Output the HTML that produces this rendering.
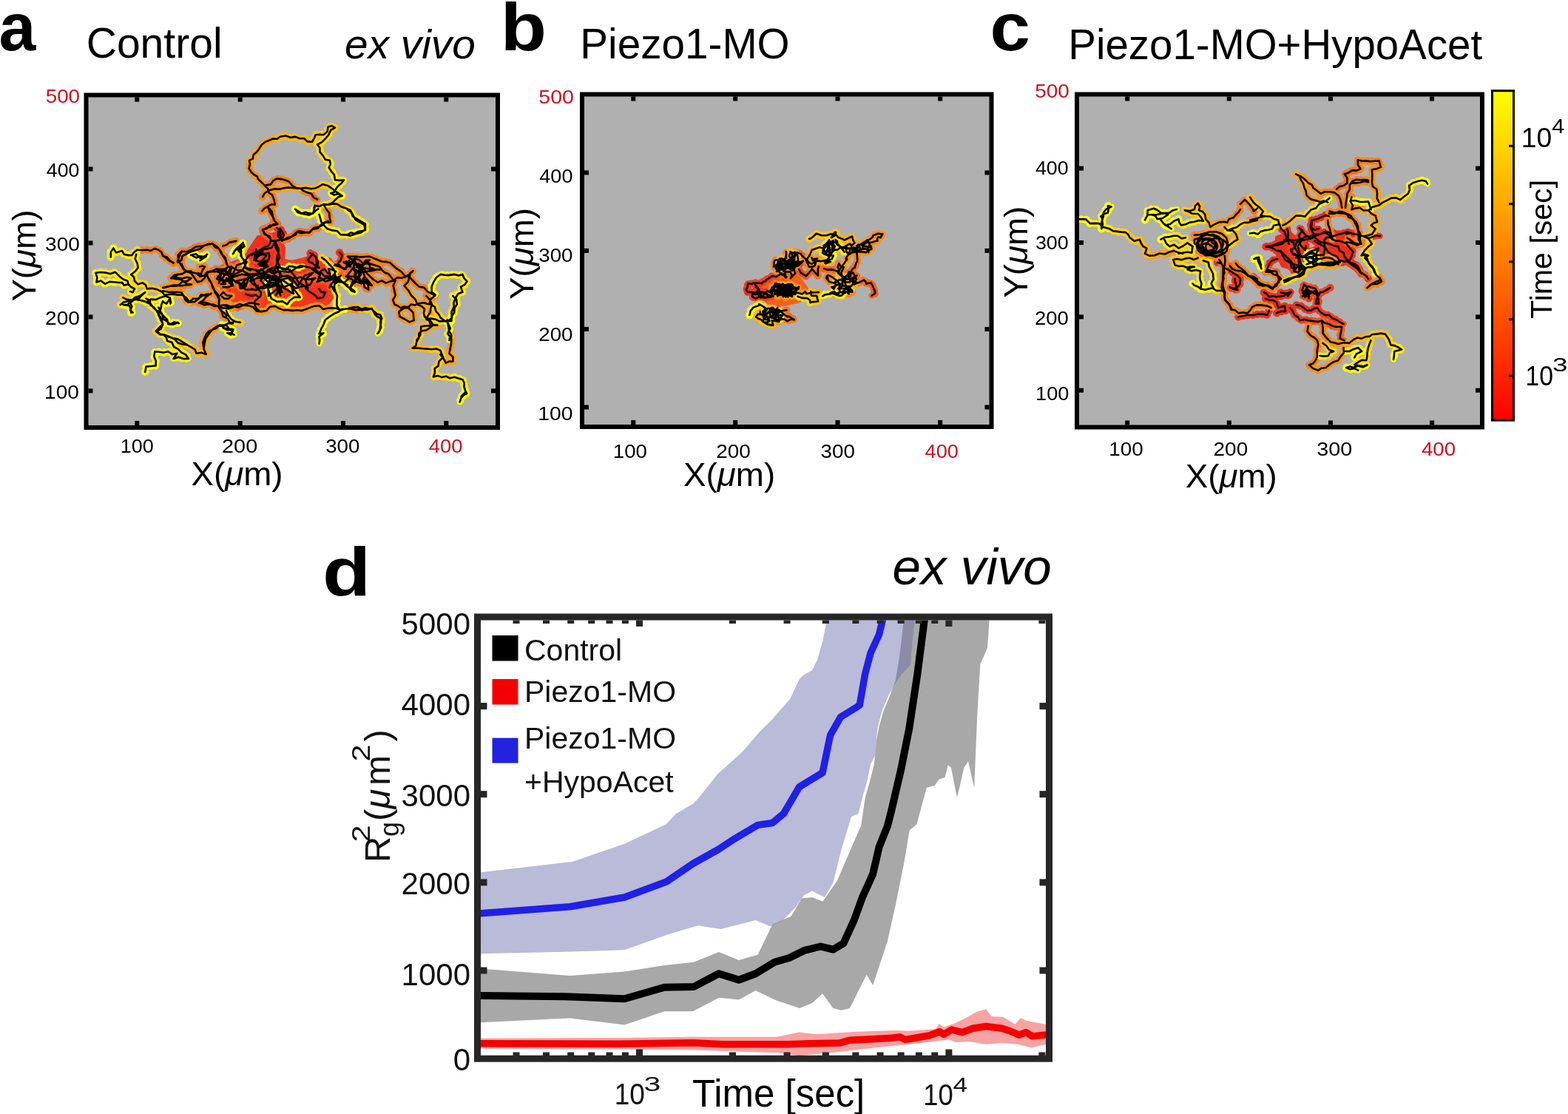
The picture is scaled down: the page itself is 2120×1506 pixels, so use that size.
<!DOCTYPE html>
<html><head><meta charset="utf-8"><title>Figure</title>
<style>html,body{margin:0;padding:0;background:#fff;}svg{display:block;}text{font-family:'Liberation Sans', Arial, Helvetica, sans-serif;}</style>
</head><body>
<svg width="2120" height="1506" viewBox="0 0 2120 1506">
<rect width="2120" height="1506" fill="#fff"/>
<rect x="116.5" y="128.5" width="556.5" height="449.5" fill="#b0b0b0"/>
<rect x="787" y="127.5" width="553.5" height="449.5" fill="#b0b0b0"/>
<rect x="1456" y="127.5" width="548" height="450.0" fill="#b0b0b0"/>
<clipPath id="clipa"><rect x="119.5" y="131.5" width="550.5" height="443.5"/></clipPath>
<clipPath id="clipb"><rect x="790" y="130.5" width="547.5" height="443.5"/></clipPath>
<clipPath id="clipc"><rect x="1459" y="130.5" width="542" height="444.0"/></clipPath>
<g clip-path="url(#clipa)" fill="none" stroke-linejoin="round" stroke-linecap="round">
<polygon points="338,340 350,322 372,318 382,335 380,372 345,375 335,360" fill="#f02f1d" stroke="#f02f1d" stroke-width="8" stroke-linejoin="round"/>
<polygon points="300,362 330,352 360,350 395,356 420,350 445,352 455,370 452,395 440,412 400,416 360,414 330,410 305,400 298,380" fill="#f13c1d" stroke="#f13c1d" stroke-width="8" stroke-linejoin="round"/>
<polygon points="360,372 400,365 430,368 440,385 432,405 400,410 370,410 358,395" fill="#f1341d" stroke="#f1341d" stroke-width="8" stroke-linejoin="round"/>
<path d="M349.1 357.2 355.6 355.2M351.2 356.3 361.8 353.3" stroke="#f01e1e" stroke-width="7.800000000000001"/>
<path d="M349.1 357.2 355.6 355.2M351.2 356.3 361.8 353.3" stroke="#f01e1e" stroke-width="10.4" stroke-dasharray="0 6.5"/>
<path d="M374.1 307.8 378.9 311.4 376.5 319.8 381.3 325.7 383.7 317.4 381.6 313.0 378.9 309.0M294.3 373.7 298.9 376.3 301.5 380.9 308.7 376.1M378.9 324.2 378.9 324.2M371.5 361.1 364.6 363.7M419.5 342.2 426.7 346.9 429.8 353.8M470.0 346.9 474.4 350.1 479.6 351.7 478.7 357.8M345.5 391.7 350.0 390.6M332.2 351.8 335.3 346.3 340.8 343.2 345.2 341.1 350.0 341.4M330.5 367.3 335.3 370.2 340.8 370.8 345.7 371.2 350.0 373.4M332.2 397.5 336.4 399.1 340.8 400.1 345.9 398.7 350.0 401.9M378.0 312.1 379.7 317.3 379.7 324.2 376.0 319.2 376.3 312.9M371.1 325.9 372.8 334.5 376.3 341.4 378.0 348.3 374.5 355.2 372.8 362.1 368.5 369.1M365.9 324.2 365.2 328.9 362.4 332.8 356.5 334.6 351.2 338.0 345.2 343.2 343.5 351.8 350.2 353.6 357.3 353.5 362.4 360.4 357.7 362.3 353.8 365.6 345.2 365.6M340.0 344.9 343.9 342.2 348.6 341.4 353.8 338.9 359.0 336.3M416.0 351.8 419.4 347.5 422.9 343.2 426.3 346.6 428.0 351.8 428.0 357.6 431.5 362.1 427.2 360.4 423.0 356.2 417.7 353.5M459.1 341.4 462.6 344.9 460.8 351.8M422.0 379.4 426.3 376.0M413.4 389.8 419.4 395.0 426.3 399.3 429.8 403.6 436.7 401.9 440.1 395.0 434.7 394.9 431.5 390.6M340.0 382.0 343.8 385.2M370.2 384.6 376.3 386.3 379.3 390.4 381.4 395.0 376.0 395.0 372.8 399.3M383.0 387.8 376.8 375.4 371.1 377.8 379.1 391.4 375.1 396.2 376.2 386.5M392.1 364.6 374.0 361.3 381.4 374.1 365.6 379.3M432.4 367.8 432.8 372.3M355.6 355.2 358.5 352.5 359.1 360.7 354.0 356.2 360.5 353.6 363.7 349.8 364.3 346.2 363.4 341.9 353.5 344.3 349.4 345.9 346.3 341.6 346.4 337.0M361.8 353.3 356.0 359.6 351.2 358.9 352.9 354.0 360.2 345.5 349.6 341.8 344.1 341.3 353.0 343.1 355.3 340.8 346.6 345.0 344.4 347.3 352.6 341.8" stroke="#f02e1d" stroke-width="7.800000000000001"/>
<path d="M374.1 307.8 378.9 311.4 376.5 319.8 381.3 325.7 383.7 317.4 381.6 313.0 378.9 309.0M294.3 373.7 298.9 376.3 301.5 380.9 308.7 376.1M378.9 324.2 378.9 324.2M371.5 361.1 364.6 363.7M419.5 342.2 426.7 346.9 429.8 353.8M470.0 346.9 474.4 350.1 479.6 351.7 478.7 357.8M345.5 391.7 350.0 390.6M332.2 351.8 335.3 346.3 340.8 343.2 345.2 341.1 350.0 341.4M330.5 367.3 335.3 370.2 340.8 370.8 345.7 371.2 350.0 373.4M332.2 397.5 336.4 399.1 340.8 400.1 345.9 398.7 350.0 401.9M378.0 312.1 379.7 317.3 379.7 324.2 376.0 319.2 376.3 312.9M371.1 325.9 372.8 334.5 376.3 341.4 378.0 348.3 374.5 355.2 372.8 362.1 368.5 369.1M365.9 324.2 365.2 328.9 362.4 332.8 356.5 334.6 351.2 338.0 345.2 343.2 343.5 351.8 350.2 353.6 357.3 353.5 362.4 360.4 357.7 362.3 353.8 365.6 345.2 365.6M340.0 344.9 343.9 342.2 348.6 341.4 353.8 338.9 359.0 336.3M416.0 351.8 419.4 347.5 422.9 343.2 426.3 346.6 428.0 351.8 428.0 357.6 431.5 362.1 427.2 360.4 423.0 356.2 417.7 353.5M459.1 341.4 462.6 344.9 460.8 351.8M422.0 379.4 426.3 376.0M413.4 389.8 419.4 395.0 426.3 399.3 429.8 403.6 436.7 401.9 440.1 395.0 434.7 394.9 431.5 390.6M340.0 382.0 343.8 385.2M370.2 384.6 376.3 386.3 379.3 390.4 381.4 395.0 376.0 395.0 372.8 399.3M383.0 387.8 376.8 375.4 371.1 377.8 379.1 391.4 375.1 396.2 376.2 386.5M392.1 364.6 374.0 361.3 381.4 374.1 365.6 379.3M432.4 367.8 432.8 372.3M355.6 355.2 358.5 352.5 359.1 360.7 354.0 356.2 360.5 353.6 363.7 349.8 364.3 346.2 363.4 341.9 353.5 344.3 349.4 345.9 346.3 341.6 346.4 337.0M361.8 353.3 356.0 359.6 351.2 358.9 352.9 354.0 360.2 345.5 349.6 341.8 344.1 341.3 353.0 343.1 355.3 340.8 346.6 345.0 344.4 347.3 352.6 341.8" stroke="#f02e1d" stroke-width="10.4" stroke-dasharray="0 6.5"/>
<path d="M308.7 376.1 312.9 380.1 315.0 385.6 308.5 388.3 301.5 388.0M364.5 319.4 366.9 325.4 373.0 325.6 378.9 324.2M350.2 339.8 355.4 336.7 361.3 336.5 366.9 335.0 370.3 330.7 371.7 325.4 373.9 330.9 376.5 336.2 376.5 341.5 374.8 346.5 374.1 351.7 376.3 356.6 378.9 361.3 371.5 361.1M429.8 353.8 429.1 361.3 421.9 363.7 426.5 367.5 431.5 370.9 434.2 366.4 438.7 363.7 443.5 369.7M478.7 357.8 477.2 363.7 480.7 367.8 478.4 373.9 482.0 378.0 485.4 374.9 487.9 370.9 487.5 363.3 484.3 356.5 489.3 358.7M318.6 381.4 323.6 382.9 327.5 387.6 332.2 391.5 340.8 391.5 345.5 391.7M340.0 370.8 345.7 370.0 351.5 369.5 357.3 369.1 363.6 366.8 370.3 370.1 376.6 366.3 383.2 367.3 389.6 367.8 395.3 365.9 400.4 362.1 406.6 359.0 413.4 360.4 419.9 362.0 426.3 363.9 429.8 367.8M460.8 351.8 456.5 356.1 460.8 360.4M395.1 381.4 395.2 386.3 400.4 389.8 405.4 387.9 410.6 386.6 416.0 386.3 420.2 383.9 422.0 379.4M343.8 385.2 348.6 386.3 349.3 391.4 352.9 395.0 352.4 400.1M376.2 386.5 379.0 368.2 362.8 364.2 352.3 379.2 362.2 389.6 376.6 384.2M365.6 379.3 362.5 388.7 363.2 400.1 374.4 390.8 387.4 386.8 392.9 384.0 396.9 397.1 380.9 387.9M362.6 364.6 356.5 370.6 351.9 373.9 338.2 380.4 341.0 374.2 347.5 390.8M388.2 361.6 398.1 372.5 403.1 381.1 416.4 389.6 412.8 377.7M432.8 372.3 428.9 381.0 441.4 375.8 451.3 375.9 459.1 373.9 455.5 379.4" stroke="#f13f1d" stroke-width="7.800000000000001"/>
<path d="M308.7 376.1 312.9 380.1 315.0 385.6 308.5 388.3 301.5 388.0M364.5 319.4 366.9 325.4 373.0 325.6 378.9 324.2M350.2 339.8 355.4 336.7 361.3 336.5 366.9 335.0 370.3 330.7 371.7 325.4 373.9 330.9 376.5 336.2 376.5 341.5 374.8 346.5 374.1 351.7 376.3 356.6 378.9 361.3 371.5 361.1M429.8 353.8 429.1 361.3 421.9 363.7 426.5 367.5 431.5 370.9 434.2 366.4 438.7 363.7 443.5 369.7M478.7 357.8 477.2 363.7 480.7 367.8 478.4 373.9 482.0 378.0 485.4 374.9 487.9 370.9 487.5 363.3 484.3 356.5 489.3 358.7M318.6 381.4 323.6 382.9 327.5 387.6 332.2 391.5 340.8 391.5 345.5 391.7M340.0 370.8 345.7 370.0 351.5 369.5 357.3 369.1 363.6 366.8 370.3 370.1 376.6 366.3 383.2 367.3 389.6 367.8 395.3 365.9 400.4 362.1 406.6 359.0 413.4 360.4 419.9 362.0 426.3 363.9 429.8 367.8M460.8 351.8 456.5 356.1 460.8 360.4M395.1 381.4 395.2 386.3 400.4 389.8 405.4 387.9 410.6 386.6 416.0 386.3 420.2 383.9 422.0 379.4M343.8 385.2 348.6 386.3 349.3 391.4 352.9 395.0 352.4 400.1M376.2 386.5 379.0 368.2 362.8 364.2 352.3 379.2 362.2 389.6 376.6 384.2M365.6 379.3 362.5 388.7 363.2 400.1 374.4 390.8 387.4 386.8 392.9 384.0 396.9 397.1 380.9 387.9M362.6 364.6 356.5 370.6 351.9 373.9 338.2 380.4 341.0 374.2 347.5 390.8M388.2 361.6 398.1 372.5 403.1 381.1 416.4 389.6 412.8 377.7M432.8 372.3 428.9 381.0 441.4 375.8 451.3 375.9 459.1 373.9 455.5 379.4" stroke="#f13f1d" stroke-width="10.4" stroke-dasharray="0 6.5"/>
<path d="M365.2 307.0 359.8 308.3 355.0 311.1 357.9 316.8 364.5 319.4M345.4 351.7 349.2 346.3 350.2 339.8M443.5 369.7 443.5 369.7M489.3 358.7 491.5 363.7M327.9 365.6 332.2 369.1M327.9 413.1 332.2 411.3 336.5 409.6 343.3 409.9 350.0 411.4M299.4 369.1 302.9 365.6 306.3 369.1 310.0 374.0 315.0 377.7 318.6 381.4M306.3 376.0 310.6 382.9 315.0 386.3M429.8 367.8 435.0 369.1 438.3 373.2 443.6 373.4M348.6 376.0 354.4 375.1 360.0 373.7 365.9 374.2 371.6 372.6 377.5 375.8 383.2 373.4 389.1 372.9 394.6 375.5 400.4 376.0 406.3 374.8M460.8 360.4 465.2 363.9 470.0 360.4M391.8 377.7 395.1 381.4M352.4 400.1 348.6 403.6 344.6 407.0 344.3 412.2 347.0 417.2M340.0 390.6 345.9 392.3 351.5 389.1 357.3 389.8 361.4 387.5 365.9 386.3M376.6 384.2 373.3 376.3 358.4 375.6M380.9 387.9 371.8 381.7 379.3 399.5M347.5 390.8 361.7 384.2 369.4 381.5 368.1 387.7 356.2 374.8 345.7 365.0 330.5 361.7M412.8 377.7 423.2 368.8 412.0 372.5 402.6 386.4 393.7 375.0 377.4 378.5 360.2 370.8M327.2 384.7 326.4 390.0 332.3 387.0 336.5 375.1 346.8 371.1M455.5 379.4 452.5 370.2 445.1 378.0 452.9 376.5 439.8 380.4 436.3 377.8M452.4 394.5 447.3 384.6 445.6 388.8 448.3 384.1 454.4 375.2" stroke="#f2501c" stroke-width="7.800000000000001"/>
<path d="M365.2 307.0 359.8 308.3 355.0 311.1 357.9 316.8 364.5 319.4M345.4 351.7 349.2 346.3 350.2 339.8M443.5 369.7 443.5 369.7M489.3 358.7 491.5 363.7M327.9 365.6 332.2 369.1M327.9 413.1 332.2 411.3 336.5 409.6 343.3 409.9 350.0 411.4M299.4 369.1 302.9 365.6 306.3 369.1 310.0 374.0 315.0 377.7 318.6 381.4M306.3 376.0 310.6 382.9 315.0 386.3M429.8 367.8 435.0 369.1 438.3 373.2 443.6 373.4M348.6 376.0 354.4 375.1 360.0 373.7 365.9 374.2 371.6 372.6 377.5 375.8 383.2 373.4 389.1 372.9 394.6 375.5 400.4 376.0 406.3 374.8M460.8 360.4 465.2 363.9 470.0 360.4M391.8 377.7 395.1 381.4M352.4 400.1 348.6 403.6 344.6 407.0 344.3 412.2 347.0 417.2M340.0 390.6 345.9 392.3 351.5 389.1 357.3 389.8 361.4 387.5 365.9 386.3M376.6 384.2 373.3 376.3 358.4 375.6M380.9 387.9 371.8 381.7 379.3 399.5M347.5 390.8 361.7 384.2 369.4 381.5 368.1 387.7 356.2 374.8 345.7 365.0 330.5 361.7M412.8 377.7 423.2 368.8 412.0 372.5 402.6 386.4 393.7 375.0 377.4 378.5 360.2 370.8M327.2 384.7 326.4 390.0 332.3 387.0 336.5 375.1 346.8 371.1M455.5 379.4 452.5 370.2 445.1 378.0 452.9 376.5 439.8 380.4 436.3 377.8M452.4 394.5 447.3 384.6 445.6 388.8 448.3 384.1 454.4 375.2" stroke="#f2501c" stroke-width="10.4" stroke-dasharray="0 6.5"/>
<path d="M355.0 310.2 357.4 314.8 361.0 318.4 364.6 322.1M370.6 298.3 375.3 302.7 369.6 303.3 365.2 307.0M479.3 349.3 486.1 351.6 491.3 356.5 494.5 352.0 500.0 351.7M296.0 336.3 299.4 343.2 304.6 348.3 306.3 355.2 308.0 360.4 315.0 362.1 321.0 365.3 327.9 365.6M308.6 415.1 315.0 413.9 321.6 415.8 327.9 413.1M296.0 382.9 297.6 375.9 299.4 369.1M406.3 374.8 411.9 377.2 417.7 377.7 426.3 376.0M470.0 360.4 470.0 360.4M452.2 358.7 459.2 360.1 465.2 363.9M347.0 417.2 351.2 420.8M330.5 361.7 338.8 365.5M360.2 370.8 353.4 364.0 349.2 368.9M328.0 382.1 338.1 373.0 327.3 370.8 313.7 374.9M346.8 371.1 336.0 376.0 329.0 377.8 319.8 379.9 324.2 383.0 325.5 389.8 333.7 382.8M307.5 378.2 298.8 384.2M436.3 377.8 430.8 374.2M454.4 375.2 450.1 380.7 454.7 382.7 459.8 377.6 451.1 376.8 446.5 373.9 444.6 363.3M505.2 363.3 500.6 361.8 497.5 352.3 493.7 356.1 485.8 360.6 485.7 366.0 485.2 375.1 490.1 382.5M460.7 372.6 455.3 381.0 466.2 381.6 473.2 374.5 470.1 371.6 477.0 362.5 484.1 366.7 492.5 367.5 504.6 365.6M474.2 360.4 464.5 354.5 469.3 353.6 469.6 358.7 472.1 352.0 472.3 360.4 478.9 352.0 482.6 357.6 486.3 364.1" stroke="#f3611c" stroke-width="7.800000000000001"/>
<path d="M355.0 310.2 357.4 314.8 361.0 318.4 364.6 322.1M370.6 298.3 375.3 302.7 369.6 303.3 365.2 307.0M479.3 349.3 486.1 351.6 491.3 356.5 494.5 352.0 500.0 351.7M296.0 336.3 299.4 343.2 304.6 348.3 306.3 355.2 308.0 360.4 315.0 362.1 321.0 365.3 327.9 365.6M308.6 415.1 315.0 413.9 321.6 415.8 327.9 413.1M296.0 382.9 297.6 375.9 299.4 369.1M406.3 374.8 411.9 377.2 417.7 377.7 426.3 376.0M470.0 360.4 470.0 360.4M452.2 358.7 459.2 360.1 465.2 363.9M347.0 417.2 351.2 420.8M330.5 361.7 338.8 365.5M360.2 370.8 353.4 364.0 349.2 368.9M328.0 382.1 338.1 373.0 327.3 370.8 313.7 374.9M346.8 371.1 336.0 376.0 329.0 377.8 319.8 379.9 324.2 383.0 325.5 389.8 333.7 382.8M307.5 378.2 298.8 384.2M436.3 377.8 430.8 374.2M454.4 375.2 450.1 380.7 454.7 382.7 459.8 377.6 451.1 376.8 446.5 373.9 444.6 363.3M505.2 363.3 500.6 361.8 497.5 352.3 493.7 356.1 485.8 360.6 485.7 366.0 485.2 375.1 490.1 382.5M460.7 372.6 455.3 381.0 466.2 381.6 473.2 374.5 470.1 371.6 477.0 362.5 484.1 366.7 492.5 367.5 504.6 365.6M474.2 360.4 464.5 354.5 469.3 353.6 469.6 358.7 472.1 352.0 472.3 360.4 478.9 352.0 482.6 357.6 486.3 364.1" stroke="#f3611c" stroke-width="10.4" stroke-dasharray="0 6.5"/>
<path d="M414.8 260.0 420.9 261.8 424.3 267.2 429.1 269.5M369.3 293.5 371.2 298.9 375.3 303.0 370.1 304.5 364.6 304.9 360.4 309.2 355.0 310.2M383.7 324.5 388.4 321.4 394.1 319.9 399.2 317.4 402.8 312.6 408.0 312.9 413.1 314.2 418.4 313.8 423.9 308.3 431.5 306.6M280.0 367.7 286.4 366.6 292.4 363.6 299.1 364.1 304.4 363.5 309.4 360.3 315.0 361.7M363.4 281.2 367.6 285.9 368.8 292.2 370.6 298.3M383.7 324.2 390.7 322.3 396.3 318.2 401.6 313.5 407.1 315.1 412.8 314.2 418.4 314.7M453.0 357.7 457.7 359.8 462.5 361.8 467.4 363.7 469.6 357.4 475.1 353.9 479.3 349.3M482.0 361.3 488.4 361.3 493.5 356.4 499.9 356.5 508.3 358.9M252.1 340.3 258.0 338.0 264.3 333.8 271.8 332.8 277.0 331.8 282.2 330.5 287.3 329.3 290.6 334.1 296.0 336.3M283.2 410.7 289.3 413.9 296.0 413.9 302.3 412.5 308.6 415.1M313.7 374.9 309.0 367.8 295.3 363.8 308.0 367.9 314.7 370.6 320.3 358.5 333.7 353.9M333.7 382.8 323.6 383.7 325.0 390.0M298.8 384.2 304.8 383.6 300.4 376.3 303.9 372.0 299.3 368.0 293.1 377.0 297.4 378.9 311.2 380.1M444.6 363.3 450.2 365.1 454.1 367.1M490.1 382.5 491.5 377.3 497.4 381.6 498.3 391.7 492.7 388.1 490.6 377.1 493.3 374.6 489.4 363.4 488.2 369.3 485.3 373.7M504.6 365.6 510.1 364.3 515.9 364.5 505.0 364.2 495.2 362.8 486.4 360.9 478.5 357.0 478.4 361.6 481.5 372.6 483.1 377.0 488.5 382.9M486.3 364.1 478.7 374.0 467.8 373.5 477.7 378.7 473.0 390.0 479.7 380.0 488.4 383.4 491.7 380.8 498.1 384.6" stroke="#f4721c" stroke-width="7.800000000000001"/>
<path d="M414.8 260.0 420.9 261.8 424.3 267.2 429.1 269.5M369.3 293.5 371.2 298.9 375.3 303.0 370.1 304.5 364.6 304.9 360.4 309.2 355.0 310.2M383.7 324.5 388.4 321.4 394.1 319.9 399.2 317.4 402.8 312.6 408.0 312.9 413.1 314.2 418.4 313.8 423.9 308.3 431.5 306.6M280.0 367.7 286.4 366.6 292.4 363.6 299.1 364.1 304.4 363.5 309.4 360.3 315.0 361.7M363.4 281.2 367.6 285.9 368.8 292.2 370.6 298.3M383.7 324.2 390.7 322.3 396.3 318.2 401.6 313.5 407.1 315.1 412.8 314.2 418.4 314.7M453.0 357.7 457.7 359.8 462.5 361.8 467.4 363.7 469.6 357.4 475.1 353.9 479.3 349.3M482.0 361.3 488.4 361.3 493.5 356.4 499.9 356.5 508.3 358.9M252.1 340.3 258.0 338.0 264.3 333.8 271.8 332.8 277.0 331.8 282.2 330.5 287.3 329.3 290.6 334.1 296.0 336.3M283.2 410.7 289.3 413.9 296.0 413.9 302.3 412.5 308.6 415.1M313.7 374.9 309.0 367.8 295.3 363.8 308.0 367.9 314.7 370.6 320.3 358.5 333.7 353.9M333.7 382.8 323.6 383.7 325.0 390.0M298.8 384.2 304.8 383.6 300.4 376.3 303.9 372.0 299.3 368.0 293.1 377.0 297.4 378.9 311.2 380.1M444.6 363.3 450.2 365.1 454.1 367.1M490.1 382.5 491.5 377.3 497.4 381.6 498.3 391.7 492.7 388.1 490.6 377.1 493.3 374.6 489.4 363.4 488.2 369.3 485.3 373.7M504.6 365.6 510.1 364.3 515.9 364.5 505.0 364.2 495.2 362.8 486.4 360.9 478.5 357.0 478.4 361.6 481.5 372.6 483.1 377.0 488.5 382.9M486.3 364.1 478.7 374.0 467.8 373.5 477.7 378.7 473.0 390.0 479.7 380.0 488.4 383.4 491.7 380.8 498.1 384.6" stroke="#f4721c" stroke-width="10.4" stroke-dasharray="0 6.5"/>
<path d="M354.4 285.1 357.8 281.4 362.2 279.1 366.5 276.3 371.7 276.7 370.6 270.0 368.1 263.6 363.5 260.6M355.0 266.0 358.2 260.8M359.8 250.4 365.8 249.4 369.3 244.4 374.3 241.5 380.1 242.1 385.6 243.5 390.9 245.6 394.8 250.7 400.4 254.0 405.8 254.5 410.0 257.9 414.8 260.0M362.2 280.3 365.0 287.3 369.3 293.5M431.5 306.6 436.2 304.4 439.9 300.6 447.0 300.6 445.7 294.4 445.3 287.9 441.1 282.7 437.5 276.7M234.5 355.8 229.9 352.4 226.0 347.8 220.2 346.2 218.5 341.1 214.2 337.8 209.0 336.1 203.9 338.9 198.7 337.8 192.1 338.2 185.5 337.8M240.5 354.6 245.4 351.7 246.5 346.2 252.4 343.1 258.5 340.2 264.4 338.3 270.4 336.6 275.2 332.4 280.8 330.1 287.1 329.5 294.3 334.2 298.6 339.8 301.5 346.2 304.9 351.1 306.3 356.9M245.3 356.9 248.2 363.3 253.7 367.7 259.8 368.2 265.6 369.5 270.4 373.7 276.3 372.5 280.0 367.7M258.5 366.5 258.5 366.5M269.2 409.5 274.5 406.5 278.1 401.7 282.4 397.6M270.4 409.5 276.1 412.1 282.5 411.1 288.6 411.8 294.3 414.3 301.1 416.2 308.0 417.4 315.0 415.5M280.0 367.7 280.4 373.5 282.6 378.6 286.0 383.2 287.4 388.8 290.5 393.4 294.3 397.6 296.4 403.4 295.8 409.6 296.7 415.5 299.7 421.2 301.5 427.5 307.9 430.7 311.1 437.0M315.0 435.8 315.0 435.8M418.4 314.7 422.7 309.8 429.5 308.6 433.9 303.9 438.3 300.8 443.5 299.1M500.0 417.5 500.0 417.5M470.0 346.9 476.0 346.7 482.0 346.9 487.9 347.5 493.9 347.0 499.9 346.9 505.8 349.4 511.8 351.7 516.8 353.8 522.3 353.9 527.4 355.3 532.1 359.6 536.9 363.7 542.6 367.2 547.0 372.6 553.7 374.4 557.9 379.0 562.1 383.5 566.7 387.6 573.5 388.8 577.6 393.6 582.8 396.8 588.4 399.5 582.4 404.3 580.0 411.5M508.3 358.9 513.4 360.7 516.4 365.1 520.2 368.5 525.6 370.5 529.0 374.7 532.2 379.2 536.8 375.2 543.2 375.8 548.8 374.2 553.7 370.9 558.5 366.1 554.4 369.3 553.7 374.4 551.5 381.3 546.5 386.4 547.7 387.6M492.7 363.7 495.5 369.1 499.9 373.2 504.8 378.0 510.6 381.6 516.1 379.5 521.9 382.6 527.4 380.4 534.6 379.2 531.7 386.2 533.4 393.6 534.7 399.5M470.0 417.5 476.5 416.3M315.0 437.1 315.0 437.1M576.4 400.0 581.0 405.1M220.0 344.9 224.5 348.8 229.1 352.7 234.7 355.2M239.9 353.5 242.4 346.6 245.9 339.7 252.1 340.3M245.9 339.7 240.7 344.9 241.4 352.3 245.0 358.7 248.5 364.7 253.1 367.3 258.0 369.1 263.2 376.0 266.6 381.1 271.8 380.3 276.8 375.7 278.7 369.1 285.6 367.3 291.8 367.3 297.7 365.6 306.3 363.9M270.1 360.4 273.5 359.6 277.0 360.4 273.5 365.6 271.8 370.8 268.3 369.1M301.1 332.8 306.3 331.0 310.6 327.6 319.3 325.9M231.2 376.0 235.4 372.1 240.4 370.8 245.9 370.8M231.2 376.0 237.4 377.0 243.8 377.6 249.3 381.1 253.5 384.4 258.8 384.6 252.3 385.2 245.9 386.3 240.5 386.1 235.1 386.6 229.6 386.7 224.3 388.0 220.0 388.9M220.0 393.2 228.6 395.0 234.2 394.9 239.9 395.0 245.4 395.5 248.5 400.1 250.3 405.3 254.5 408.8 263.2 407.9 268.4 404.0 271.8 398.4 280.4 400.1 285.6 396.7M278.7 370.8 282.1 376.4 285.6 382.0 287.2 386.4 289.1 390.6 290.5 395.3 293.4 399.3 296.7 405.3 296.0 412.2 296.6 417.0 299.4 420.8 303.6 423.0 306.3 426.9M270.1 409.6 276.9 408.7 283.2 410.7M297.7 399.3 302.0 395.0 306.3 399.3 313.2 400.1 308.7 403.8 302.9 403.6 300.3 401.0M333.7 353.9 327.6 365.8 315.1 371.8 312.6 385.4M311.2 380.1 311.1 372.8 312.7 360.0 307.1 371.5 294.3 367.6M485.3 373.7 480.6 375.5 479.8 382.4M488.5 382.9 488.5 382.9M498.1 384.6 502.8 385.9 495.1 376.2" stroke="#f5831b" stroke-width="7.800000000000001"/>
<path d="M354.4 285.1 357.8 281.4 362.2 279.1 366.5 276.3 371.7 276.7 370.6 270.0 368.1 263.6 363.5 260.6M355.0 266.0 358.2 260.8M359.8 250.4 365.8 249.4 369.3 244.4 374.3 241.5 380.1 242.1 385.6 243.5 390.9 245.6 394.8 250.7 400.4 254.0 405.8 254.5 410.0 257.9 414.8 260.0M362.2 280.3 365.0 287.3 369.3 293.5M431.5 306.6 436.2 304.4 439.9 300.6 447.0 300.6 445.7 294.4 445.3 287.9 441.1 282.7 437.5 276.7M234.5 355.8 229.9 352.4 226.0 347.8 220.2 346.2 218.5 341.1 214.2 337.8 209.0 336.1 203.9 338.9 198.7 337.8 192.1 338.2 185.5 337.8M240.5 354.6 245.4 351.7 246.5 346.2 252.4 343.1 258.5 340.2 264.4 338.3 270.4 336.6 275.2 332.4 280.8 330.1 287.1 329.5 294.3 334.2 298.6 339.8 301.5 346.2 304.9 351.1 306.3 356.9M245.3 356.9 248.2 363.3 253.7 367.7 259.8 368.2 265.6 369.5 270.4 373.7 276.3 372.5 280.0 367.7M258.5 366.5 258.5 366.5M269.2 409.5 274.5 406.5 278.1 401.7 282.4 397.6M270.4 409.5 276.1 412.1 282.5 411.1 288.6 411.8 294.3 414.3 301.1 416.2 308.0 417.4 315.0 415.5M280.0 367.7 280.4 373.5 282.6 378.6 286.0 383.2 287.4 388.8 290.5 393.4 294.3 397.6 296.4 403.4 295.8 409.6 296.7 415.5 299.7 421.2 301.5 427.5 307.9 430.7 311.1 437.0M315.0 435.8 315.0 435.8M418.4 314.7 422.7 309.8 429.5 308.6 433.9 303.9 438.3 300.8 443.5 299.1M500.0 417.5 500.0 417.5M470.0 346.9 476.0 346.7 482.0 346.9 487.9 347.5 493.9 347.0 499.9 346.9 505.8 349.4 511.8 351.7 516.8 353.8 522.3 353.9 527.4 355.3 532.1 359.6 536.9 363.7 542.6 367.2 547.0 372.6 553.7 374.4 557.9 379.0 562.1 383.5 566.7 387.6 573.5 388.8 577.6 393.6 582.8 396.8 588.4 399.5 582.4 404.3 580.0 411.5M508.3 358.9 513.4 360.7 516.4 365.1 520.2 368.5 525.6 370.5 529.0 374.7 532.2 379.2 536.8 375.2 543.2 375.8 548.8 374.2 553.7 370.9 558.5 366.1 554.4 369.3 553.7 374.4 551.5 381.3 546.5 386.4 547.7 387.6M492.7 363.7 495.5 369.1 499.9 373.2 504.8 378.0 510.6 381.6 516.1 379.5 521.9 382.6 527.4 380.4 534.6 379.2 531.7 386.2 533.4 393.6 534.7 399.5M470.0 417.5 476.5 416.3M315.0 437.1 315.0 437.1M576.4 400.0 581.0 405.1M220.0 344.9 224.5 348.8 229.1 352.7 234.7 355.2M239.9 353.5 242.4 346.6 245.9 339.7 252.1 340.3M245.9 339.7 240.7 344.9 241.4 352.3 245.0 358.7 248.5 364.7 253.1 367.3 258.0 369.1 263.2 376.0 266.6 381.1 271.8 380.3 276.8 375.7 278.7 369.1 285.6 367.3 291.8 367.3 297.7 365.6 306.3 363.9M270.1 360.4 273.5 359.6 277.0 360.4 273.5 365.6 271.8 370.8 268.3 369.1M301.1 332.8 306.3 331.0 310.6 327.6 319.3 325.9M231.2 376.0 235.4 372.1 240.4 370.8 245.9 370.8M231.2 376.0 237.4 377.0 243.8 377.6 249.3 381.1 253.5 384.4 258.8 384.6 252.3 385.2 245.9 386.3 240.5 386.1 235.1 386.6 229.6 386.7 224.3 388.0 220.0 388.9M220.0 393.2 228.6 395.0 234.2 394.9 239.9 395.0 245.4 395.5 248.5 400.1 250.3 405.3 254.5 408.8 263.2 407.9 268.4 404.0 271.8 398.4 280.4 400.1 285.6 396.7M278.7 370.8 282.1 376.4 285.6 382.0 287.2 386.4 289.1 390.6 290.5 395.3 293.4 399.3 296.7 405.3 296.0 412.2 296.6 417.0 299.4 420.8 303.6 423.0 306.3 426.9M270.1 409.6 276.9 408.7 283.2 410.7M297.7 399.3 302.0 395.0 306.3 399.3 313.2 400.1 308.7 403.8 302.9 403.6 300.3 401.0M333.7 353.9 327.6 365.8 315.1 371.8 312.6 385.4M311.2 380.1 311.1 372.8 312.7 360.0 307.1 371.5 294.3 367.6M485.3 373.7 480.6 375.5 479.8 382.4M488.5 382.9 488.5 382.9M498.1 384.6 502.8 385.9 495.1 376.2" stroke="#f5831b" stroke-width="10.4" stroke-dasharray="0 6.5"/>
<path d="M363.5 260.6 362.2 255.2 356.2 249.2 352.7 245.5 349.0 242.1 347.8 238.5 343.3 236.0 339.5 232.5 336.6 227.6 337.9 222.1 337.1 216.9M358.2 260.8 363.4 257.6 371.7 255.2 377.7 255.8 383.7 254.3M275.2 398.8 279.9 397.8 284.8 397.6M220.2 389.2 227.4 387.6 234.5 385.6 241.4 385.4 246.5 380.9 253.1 380.1 258.5 376.1 252.5 374.8 246.4 376.6 240.5 375.8 234.5 374.9 240.5 371.3 246.5 370.1 252.0 366.8 258.5 366.5M275.2 469.3 274.2 462.9 276.5 457.2 278.8 451.4 282.9 447.4 288.3 445.4 293.1 443.2 296.7 439.4 303.2 440.4 308.9 436.8 315.0 435.8M300.0 412.7 306.0 412.2 312.0 414.8 317.9 413.8 323.9 411.1 329.9 412.7 336.5 413.1 342.4 415.3 347.2 420.8 353.8 421.1 360.3 420.0 365.1 414.7 371.7 413.9 377.3 416.9 383.1 419.1 389.5 419.1 395.6 419.9 401.6 419.2 407.6 419.9 414.2 417.7 420.7 415.1 426.3 413.6 431.8 413.2 437.1 418.1 442.7 416.8 448.2 416.3 454.6 416.8 460.9 419.2 467.4 417.5 473.9 417.2 480.4 419.3 486.9 419.0 493.5 416.1 500.0 417.5M534.7 399.5 531.2 405.5 533.4 411.5 537.8 413.5 541.7 416.3 546.5 414.6 552.0 415.3 556.1 411.5 561.1 412.5 565.6 410.3 572.9 409.3 580.0 411.5M546.5 416.3 539.3 421.1 540.5 428.2 547.3 431.5 553.7 435.4 559.7 433.0 559.1 427.6 558.5 422.3 552.5 416.3 546.5 416.3M547.7 387.6 552.5 393.1 556.1 399.5M476.5 416.3 482.9 415.8M282.4 451.4 285.7 447.1 289.7 443.5 294.3 440.6 301.4 440.7 307.9 437.3 315.0 437.1M581.0 405.1 584.0 411.3 582.3 416.6 581.7 422.3 578.5 427.0 576.4 432.1 582.0 433.6 585.5 439.1M604.7 432.1 605.4 437.5 606.5 442.7 607.2 448.1 610.4 452.8 610.3 459.2 609.9 465.5 608.5 471.7 607.5 477.9" stroke="#f6941b" stroke-width="7.800000000000001"/>
<path d="M363.5 260.6 362.2 255.2 356.2 249.2 352.7 245.5 349.0 242.1 347.8 238.5 343.3 236.0 339.5 232.5 336.6 227.6 337.9 222.1 337.1 216.9M358.2 260.8 363.4 257.6 371.7 255.2 377.7 255.8 383.7 254.3M275.2 398.8 279.9 397.8 284.8 397.6M220.2 389.2 227.4 387.6 234.5 385.6 241.4 385.4 246.5 380.9 253.1 380.1 258.5 376.1 252.5 374.8 246.4 376.6 240.5 375.8 234.5 374.9 240.5 371.3 246.5 370.1 252.0 366.8 258.5 366.5M275.2 469.3 274.2 462.9 276.5 457.2 278.8 451.4 282.9 447.4 288.3 445.4 293.1 443.2 296.7 439.4 303.2 440.4 308.9 436.8 315.0 435.8M300.0 412.7 306.0 412.2 312.0 414.8 317.9 413.8 323.9 411.1 329.9 412.7 336.5 413.1 342.4 415.3 347.2 420.8 353.8 421.1 360.3 420.0 365.1 414.7 371.7 413.9 377.3 416.9 383.1 419.1 389.5 419.1 395.6 419.9 401.6 419.2 407.6 419.9 414.2 417.7 420.7 415.1 426.3 413.6 431.8 413.2 437.1 418.1 442.7 416.8 448.2 416.3 454.6 416.8 460.9 419.2 467.4 417.5 473.9 417.2 480.4 419.3 486.9 419.0 493.5 416.1 500.0 417.5M534.7 399.5 531.2 405.5 533.4 411.5 537.8 413.5 541.7 416.3 546.5 414.6 552.0 415.3 556.1 411.5 561.1 412.5 565.6 410.3 572.9 409.3 580.0 411.5M546.5 416.3 539.3 421.1 540.5 428.2 547.3 431.5 553.7 435.4 559.7 433.0 559.1 427.6 558.5 422.3 552.5 416.3 546.5 416.3M547.7 387.6 552.5 393.1 556.1 399.5M476.5 416.3 482.9 415.8M282.4 451.4 285.7 447.1 289.7 443.5 294.3 440.6 301.4 440.7 307.9 437.3 315.0 437.1M581.0 405.1 584.0 411.3 582.3 416.6 581.7 422.3 578.5 427.0 576.4 432.1 582.0 433.6 585.5 439.1M604.7 432.1 605.4 437.5 606.5 442.7 607.2 448.1 610.4 452.8 610.3 459.2 609.9 465.5 608.5 471.7 607.5 477.9" stroke="#f6941b" stroke-width="10.4" stroke-dasharray="0 6.5"/>
<path d="M337.1 216.9 341.8 214.6 342.8 209.0 347.2 205.6 350.2 201.4 353.7 195.8 358.5 191.9 364.6 189.5 369.2 187.5 374.6 187.8M383.7 254.3 389.6 253.4 395.6 254.0 401.9 254.7 408.2 254.4M424.3 281.5 425.5 277.9 431.6 279.1 437.4 276.1 443.5 276.7 449.4 275.6M252.1 402.8 256.1 408.4 261.2 403.7 268.0 403.6 275.2 398.8M556.1 399.5 561.5 404.7 564.4 411.5 569.7 413.8 574.0 417.5 572.9 422.9 574.0 428.2 580.1 432.9M482.9 415.8 489.4 419.5 495.8 417.8M272.3 476.7 278.8 478.9 275.5 472.1 276.4 464.6 278.1 457.4 282.4 451.4M470.8 417.0 477.2 415.4 483.6 415.0M585.5 439.1 591.5 439.6 585.5 439.4 581.1 443.2 576.4 446.4 570.8 447.2 566.2 450.8 566.3 457.1M607.5 477.9 612.6 482.7 612.3 488.7 607.3 488.6 602.8 490.6 599.6 484.5 595.3 479.2M332.2 360.4 332.2 360.4" stroke="#f7a51a" stroke-width="7.800000000000001"/>
<path d="M337.1 216.9 341.8 214.6 342.8 209.0 347.2 205.6 350.2 201.4 353.7 195.8 358.5 191.9 364.6 189.5 369.2 187.5 374.6 187.8M383.7 254.3 389.6 253.4 395.6 254.0 401.9 254.7 408.2 254.4M424.3 281.5 425.5 277.9 431.6 279.1 437.4 276.1 443.5 276.7 449.4 275.6M252.1 402.8 256.1 408.4 261.2 403.7 268.0 403.6 275.2 398.8M556.1 399.5 561.5 404.7 564.4 411.5 569.7 413.8 574.0 417.5 572.9 422.9 574.0 428.2 580.1 432.9M482.9 415.8 489.4 419.5 495.8 417.8M272.3 476.7 278.8 478.9 275.5 472.1 276.4 464.6 278.1 457.4 282.4 451.4M470.8 417.0 477.2 415.4 483.6 415.0M585.5 439.1 591.5 439.6 585.5 439.4 581.1 443.2 576.4 446.4 570.8 447.2 566.2 450.8 566.3 457.1M607.5 477.9 612.6 482.7 612.3 488.7 607.3 488.6 602.8 490.6 599.6 484.5 595.3 479.2M332.2 360.4 332.2 360.4" stroke="#f7a51a" stroke-width="10.4" stroke-dasharray="0 6.5"/>
<path d="M374.6 187.8 378.9 184.7 386.2 183.5 393.2 185.9 399.3 184.9 405.2 187.3 411.2 187.1 415.7 191.4 421.9 191.8 424.7 187.2M408.2 254.4 414.5 253.9 420.7 255.2 426.4 254.5 431.4 252.1 436.3 249.2M449.4 275.6 455.4 275.5 461.0 279.2 467.4 281.5 473.7 284.0 476.9 289.9M222.6 398.8 228.6 398.1 234.5 397.6 240.5 398.6 246.5 398.8 252.1 402.8M580.1 432.9 582.4 440.2 575.8 440.5 569.2 441.4 568.9 447.4 568.0 453.3M582.4 411.5 587.8 414.9M495.8 417.8 502.3 417.5 505.9 421.1M240.5 463.4 246.5 465.5 252.9 466.2 258.5 469.3 263.5 472.3 265.6 477.7 272.3 476.7M483.6 415.0 490.0 418.6 496.4 418.8M566.3 457.1 563.4 461.7 562.3 467.2 557.5 470.8 564.5 470.5 571.4 471.3 578.3 471.7 584.0 472.3M327.0 348.3 330.5 351.8 332.2 360.4" stroke="#f8b61a" stroke-width="7.800000000000001"/>
<path d="M374.6 187.8 378.9 184.7 386.2 183.5 393.2 185.9 399.3 184.9 405.2 187.3 411.2 187.1 415.7 191.4 421.9 191.8 424.7 187.2M408.2 254.4 414.5 253.9 420.7 255.2 426.4 254.5 431.4 252.1 436.3 249.2M449.4 275.6 455.4 275.5 461.0 279.2 467.4 281.5 473.7 284.0 476.9 289.9M222.6 398.8 228.6 398.1 234.5 397.6 240.5 398.6 246.5 398.8 252.1 402.8M580.1 432.9 582.4 440.2 575.8 440.5 569.2 441.4 568.9 447.4 568.0 453.3M582.4 411.5 587.8 414.9M495.8 417.8 502.3 417.5 505.9 421.1M240.5 463.4 246.5 465.5 252.9 466.2 258.5 469.3 263.5 472.3 265.6 477.7 272.3 476.7M483.6 415.0 490.0 418.6 496.4 418.8M566.3 457.1 563.4 461.7 562.3 467.2 557.5 470.8 564.5 470.5 571.4 471.3 578.3 471.7 584.0 472.3M327.0 348.3 330.5 351.8 332.2 360.4" stroke="#f8b61a" stroke-width="10.4" stroke-dasharray="0 6.5"/>
<path d="M424.7 187.2 426.7 182.3 432.1 181.8 437.5 182.3 442.5 178.0 443.5 171.5 448.5 170.0 453.0 172.7 447.1 176.0 444.2 182.5M436.3 249.2 443.4 251.1 449.4 255.2 453.6 258.7 458.1 261.7 462.6 264.8M476.9 289.9 480.5 297.0 486.6 300.5 492.5 304.2 493.7 310.2M197.0 385.3 198.7 390.4 206.0 389.7 213.0 391.6 218.6 394.2 222.6 398.8M173.6 384.4 177.2 388.0M166.4 402.4 171.3 404.9M435.1 348.1 440.4 352.1M568.0 453.3 563.2 460.0M587.8 414.9 589.5 421.1 593.2 424.8 595.5 429.4M574.0 427.0 577.3 431.0 582.4 430.6M505.9 421.1 509.6 424.3 514.2 425.8M215.2 442.9 210.6 447.8 215.9 452.1 222.6 452.6 229.1 455.2 235.5 458.2 240.5 463.4M325.1 435.9 317.9 434.7M496.4 418.8 502.8 417.0 506.6 424.5M584.0 472.3 589.8 471.5 595.3 473.6 597.1 478.3 599.1 483.0 593.4 488.7 592.6 494.6 587.7 498.1M325.3 336.3 321.9 338.0 325.6 342.6 327.0 348.3" stroke="#f9c71a" stroke-width="7.800000000000001"/>
<path d="M424.7 187.2 426.7 182.3 432.1 181.8 437.5 182.3 442.5 178.0 443.5 171.5 448.5 170.0 453.0 172.7 447.1 176.0 444.2 182.5M436.3 249.2 443.4 251.1 449.4 255.2 453.6 258.7 458.1 261.7 462.6 264.8M476.9 289.9 480.5 297.0 486.6 300.5 492.5 304.2 493.7 310.2M197.0 385.3 198.7 390.4 206.0 389.7 213.0 391.6 218.6 394.2 222.6 398.8M173.6 384.4 177.2 388.0M166.4 402.4 171.3 404.9M435.1 348.1 440.4 352.1M568.0 453.3 563.2 460.0M587.8 414.9 589.5 421.1 593.2 424.8 595.5 429.4M574.0 427.0 577.3 431.0 582.4 430.6M505.9 421.1 509.6 424.3 514.2 425.8M215.2 442.9 210.6 447.8 215.9 452.1 222.6 452.6 229.1 455.2 235.5 458.2 240.5 463.4M325.1 435.9 317.9 434.7M496.4 418.8 502.8 417.0 506.6 424.5M584.0 472.3 589.8 471.5 595.3 473.6 597.1 478.3 599.1 483.0 593.4 488.7 592.6 494.6 587.7 498.1M325.3 336.3 321.9 338.0 325.6 342.6 327.0 348.3" stroke="#f9c71a" stroke-width="10.4" stroke-dasharray="0 6.5"/>
<path d="M444.2 182.5 439.8 187.6 435.2 192.2 429.1 195.4 432.3 199.8 432.5 205.7 436.3 209.8 439.9 215.8 445.8 216.9 446.8 221.9M462.6 264.8 457.1 266.5 453.2 270.2 449.4 274.3 443.7 276.5 437.5 276.7M493.7 310.2 487.7 314.6 480.5 316.2 474.1 318.6 467.4 317.4 460.7 317.4M185.5 337.8 180.8 341.4 178.4 345.0 172.9 345.1M177.2 371.3 181.0 374.6 181.9 379.7 186.7 384.4 192.7 382.1 197.0 385.3M177.2 388.0 181.9 390.4 179.6 395.2 176.0 394.0M171.3 404.9 176.5 405.4 181.9 404.8 187.6 405.5 193.2 406.7 198.7 408.4M162.8 411.9 166.9 408.4 171.9 407.4 177.2 407.2 182.3 402.2M220.2 438.2 217.7 444.5 211.8 447.8 216.5 451.8 222.6 452.6 228.4 455.5 234.5 457.4 240.7 458.5 245.8 461.7 251.0 464.8 256.1 468.1M440.4 352.1 444.8 357.0 449.4 361.6 453.0 367.3 452.2 374.0 453.4 380.9M595.5 429.4 600.0 432.9 605.1 435.4 606.8 439.6M582.4 430.6 589.5 431.8 594.0 434.4 599.1 434.2 605.9 433.9 611.1 429.4 610.4 421.9 613.5 415.1 613.5 408.9 615.8 403.1 619.2 397.3M514.2 425.8 516.2 430.6 514.2 435.4M203.4 412.7 208.2 415.5 212.0 420.8 215.4 426.3 218.5 432.0 220.2 438.3 215.2 442.9M317.9 434.7 312.3 431.3M506.6 424.5 509.9 428.0 514.2 430.2 515.2 435.8M587.7 498.1 587.9 504.0 585.8 509.4 591.7 507.9 597.2 509.9 603.0 508.7 608.5 511.3 614.4 509.7M328.8 329.3 330.5 332.8 325.3 336.3" stroke="#fad819" stroke-width="7.800000000000001"/>
<path d="M444.2 182.5 439.8 187.6 435.2 192.2 429.1 195.4 432.3 199.8 432.5 205.7 436.3 209.8 439.9 215.8 445.8 216.9 446.8 221.9M462.6 264.8 457.1 266.5 453.2 270.2 449.4 274.3 443.7 276.5 437.5 276.7M493.7 310.2 487.7 314.6 480.5 316.2 474.1 318.6 467.4 317.4 460.7 317.4M185.5 337.8 180.8 341.4 178.4 345.0 172.9 345.1M177.2 371.3 181.0 374.6 181.9 379.7 186.7 384.4 192.7 382.1 197.0 385.3M177.2 388.0 181.9 390.4 179.6 395.2 176.0 394.0M171.3 404.9 176.5 405.4 181.9 404.8 187.6 405.5 193.2 406.7 198.7 408.4M162.8 411.9 166.9 408.4 171.9 407.4 177.2 407.2 182.3 402.2M220.2 438.2 217.7 444.5 211.8 447.8 216.5 451.8 222.6 452.6 228.4 455.5 234.5 457.4 240.7 458.5 245.8 461.7 251.0 464.8 256.1 468.1M440.4 352.1 444.8 357.0 449.4 361.6 453.0 367.3 452.2 374.0 453.4 380.9M595.5 429.4 600.0 432.9 605.1 435.4 606.8 439.6M582.4 430.6 589.5 431.8 594.0 434.4 599.1 434.2 605.9 433.9 611.1 429.4 610.4 421.9 613.5 415.1 613.5 408.9 615.8 403.1 619.2 397.3M514.2 425.8 516.2 430.6 514.2 435.4M203.4 412.7 208.2 415.5 212.0 420.8 215.4 426.3 218.5 432.0 220.2 438.3 215.2 442.9M317.9 434.7 312.3 431.3M506.6 424.5 509.9 428.0 514.2 430.2 515.2 435.8M587.7 498.1 587.9 504.0 585.8 509.4 591.7 507.9 597.2 509.9 603.0 508.7 608.5 511.3 614.4 509.7M328.8 329.3 330.5 332.8 325.3 336.3" stroke="#fad819" stroke-width="10.4" stroke-dasharray="0 6.5"/>
<path d="M446.8 221.9 444.7 226.5 447.9 231.5 451.8 236.1 453.0 243.2 459.0 243.9 465.0 243.2 461.8 247.6 457.6 251.1 454.2 255.2M437.5 276.7 437.5 276.7M460.7 317.4 455.8 312.2 449.4 311.4 442.5 309.3 437.5 304.2M172.9 345.1 167.6 343.8 165.2 339.0 156.8 341.4 153.3 335.4M184.3 343.8 182.7 350.0 185.5 355.8 186.7 361.7 183.1 366.5 177.2 371.3M129.3 368.9 135.9 368.0 142.5 368.6 149.2 370.2 155.6 367.7 161.6 373.7 166.6 377.5 172.4 379.7 173.6 384.4 167.6 385.6 165.2 382.1 159.4 381.9 153.7 381.3M176.0 394.0 176.0 394.0M198.7 408.4 204.1 404.6 210.8 405.0 216.6 402.4 223.2 400.3M182.3 402.2 189.1 400.0 196.3 395.2 191.9 399.0 187.9 403.4 181.9 404.8 176.0 409.5M197.5 408.4 203.9 411.2 208.2 416.7 212.7 420.5 214.4 426.0 216.6 431.1 220.2 438.2M275.7 347.1 280.0 343.8 275.6 348.5 270.4 352.2M453.4 380.9 451.8 387.6 453.4 393.9 456.0 400.0 455.4 406.7M470.0 283.6 474.7 286.8 477.0 292.5 482.0 295.5 487.9 299.2 493.9 302.7 493.9 311.1 489.0 312.4M606.8 439.6 608.7 443.8 605.1 451.0 608.3 455.0M619.2 397.3 625.4 394.8 623.0 387.6 628.1 385.0 631.4 380.4 627.5 376.2 625.4 370.9 620.0 372.6 614.7 370.9 606.3 372.1 600.9 371.8 595.5 370.9 589.9 375.3M514.2 435.4 515.1 442.9 511.8 449.8M197.5 403.6 202.6 406.2 203.4 412.7M221.4 452.6 224.8 456.2 226.2 461.0 232.4 462.7 235.1 469.0 240.5 471.7 245.1 476.3 251.1 479.4 254.9 484.9 248.1 485.0 241.3 482.8 234.5 484.9 239.3 477.7 233.2 479.1 227.5 475.2 221.4 476.6M312.3 431.3 308.6 426.2 306.0 420.3M515.2 435.8 514.2 441.5 513.4 446.7M614.4 509.7 619.9 511.6 625.5 513.2 627.7 517.7 627.4 522.6 628.9 527.5 631.1 532.1 623.6 535.8 629.2 530.2M612.3 400.0 617.1 404.7 617.9 411.3 614.5 416.5 614.2 422.6 610.5 427.7M319.3 336.3 323.6 332.8 328.8 329.3M390.8 359.9 396.1 360.4 402.6 362.0 409.1 360.4M388.3 411.4 391.8 406.2 398.0 401.7 405.6 401.9 400.4 395.0 396.9 390.7 393.5 386.3 388.2 383.1 383.2 379.4 374.5 377.7 369.8 378.6 365.0 377.7" stroke="#fbe919" stroke-width="7.800000000000001"/>
<path d="M446.8 221.9 444.7 226.5 447.9 231.5 451.8 236.1 453.0 243.2 459.0 243.9 465.0 243.2 461.8 247.6 457.6 251.1 454.2 255.2M437.5 276.7 437.5 276.7M460.7 317.4 455.8 312.2 449.4 311.4 442.5 309.3 437.5 304.2M172.9 345.1 167.6 343.8 165.2 339.0 156.8 341.4 153.3 335.4M184.3 343.8 182.7 350.0 185.5 355.8 186.7 361.7 183.1 366.5 177.2 371.3M129.3 368.9 135.9 368.0 142.5 368.6 149.2 370.2 155.6 367.7 161.6 373.7 166.6 377.5 172.4 379.7 173.6 384.4 167.6 385.6 165.2 382.1 159.4 381.9 153.7 381.3M176.0 394.0 176.0 394.0M198.7 408.4 204.1 404.6 210.8 405.0 216.6 402.4 223.2 400.3M182.3 402.2 189.1 400.0 196.3 395.2 191.9 399.0 187.9 403.4 181.9 404.8 176.0 409.5M197.5 408.4 203.9 411.2 208.2 416.7 212.7 420.5 214.4 426.0 216.6 431.1 220.2 438.2M275.7 347.1 280.0 343.8 275.6 348.5 270.4 352.2M453.4 380.9 451.8 387.6 453.4 393.9 456.0 400.0 455.4 406.7M470.0 283.6 474.7 286.8 477.0 292.5 482.0 295.5 487.9 299.2 493.9 302.7 493.9 311.1 489.0 312.4M606.8 439.6 608.7 443.8 605.1 451.0 608.3 455.0M619.2 397.3 625.4 394.8 623.0 387.6 628.1 385.0 631.4 380.4 627.5 376.2 625.4 370.9 620.0 372.6 614.7 370.9 606.3 372.1 600.9 371.8 595.5 370.9 589.9 375.3M514.2 435.4 515.1 442.9 511.8 449.8M197.5 403.6 202.6 406.2 203.4 412.7M221.4 452.6 224.8 456.2 226.2 461.0 232.4 462.7 235.1 469.0 240.5 471.7 245.1 476.3 251.1 479.4 254.9 484.9 248.1 485.0 241.3 482.8 234.5 484.9 239.3 477.7 233.2 479.1 227.5 475.2 221.4 476.6M312.3 431.3 308.6 426.2 306.0 420.3M515.2 435.8 514.2 441.5 513.4 446.7M614.4 509.7 619.9 511.6 625.5 513.2 627.7 517.7 627.4 522.6 628.9 527.5 631.1 532.1 623.6 535.8 629.2 530.2M612.3 400.0 617.1 404.7 617.9 411.3 614.5 416.5 614.2 422.6 610.5 427.7M319.3 336.3 323.6 332.8 328.8 329.3M390.8 359.9 396.1 360.4 402.6 362.0 409.1 360.4M388.3 411.4 391.8 406.2 398.0 401.7 405.6 401.9 400.4 395.0 396.9 390.7 393.5 386.3 388.2 383.1 383.2 379.4 374.5 377.7 369.8 378.6 365.0 377.7" stroke="#fbe919" stroke-width="10.4" stroke-dasharray="0 6.5"/>
<path d="M454.2 255.2 452.0 259.8 447.0 261.2 451.8 263.6 457.4 262.1 462.6 264.8M437.5 304.2 434.4 299.9 433.0 294.9 431.5 289.9M399.2 282.7 402.4 287.1 407.6 288.7 412.8 286.7 418.0 288.4 423.1 288.7 425.5 280.3M153.3 335.4 149.7 340.9 149.7 347.4M153.7 381.3 147.9 380.9 142.1 383.8 136.4 379.6 130.5 381.5 131.3 375.0 129.3 368.9M223.2 400.3 229.8 402.4 231.0 409.5M176.0 409.5 178.4 414.3 176.0 419.1 179.6 422.7M214.2 415.5 216.6 419.5 217.8 423.9 221.4 427.5 226.0 432.0 227.4 438.2 234.2 438.7 240.5 435.8M301.5 443.0 307.9 446.3 315.0 445.4M260.8 346.2 265.6 348.5 270.4 346.2 275.7 347.1M400.4 283.6 407.6 288.4 412.8 289.8 418.0 290.6 423.1 288.4 426.4 285.0 430.3 282.4M455.4 406.7 455.3 413.3 459.0 418.7M459.0 379.2 464.8 382.9 469.8 387.6 474.6 390.4 479.3 393.6 474.5 390.0M316.7 339.8 321.0 336.1 326.1 333.2 328.7 327.8 323.9 332.6 326.1 338.8 325.6 345.7 329.3 351.4 331.1 357.7M489.0 312.4 484.0 313.1 479.6 315.9 474.5 314.5 470.0 317.1M608.3 455.0 607.5 460.0M589.9 375.3 586.3 381.1 583.6 387.6 583.6 394.8 588.4 398.4M511.8 449.8 511.8 449.8M472.4 388.8 474.9 393.1 479.6 394.8M220.2 407.2 218.2 412.0 217.6 417.3 214.2 421.5 219.0 423.9 220.2 431.1 225.4 434.1 229.8 438.3 235.5 435.4 241.7 437.1M221.4 476.6 215.4 475.8 209.4 475.3 208.2 481.8 210.8 488.0 210.6 494.4 204.1 495.0 197.5 495.6 196.3 502.8M177.2 422.7 176.8 417.7 174.8 413.2 166.4 412.0 172.7 411.7 177.2 407.2M301.5 443.0 308.5 444.7 315.0 447.8M466.2 417.9 461.4 418.3 457.8 421.5 451.3 424.3 445.5 428.1 439.9 432.3 437.3 439.0 433.9 445.4 431.5 451.4 437.5 450.2 431.5 455.0 432.2 459.8 431.5 464.6M306.0 420.3 306.0 420.3M300.0 439.5 305.9 439.5 309.9 444.5 315.5 445.4 312.0 452.6 307.2 450.2 312.2 450.3 316.7 452.6M513.4 446.7 510.4 450.9M629.2 530.2 626.6 534.5 623.2 538.4 621.7 543.4M610.5 427.7 610.4 434.0 602.8 434.0M258.0 344.9 264.9 343.2 270.1 348.3 273.5 350.1 278.7 346.6M315.0 343.2 319.3 336.3M220.0 407.9 225.2 410.5 229.5 403.6 230.4 410.5M381.4 363.9 386.8 364.8 390.8 359.9M459.1 377.7 465.2 382.9 470.0 385.5M365.0 377.7 361.9 383.8 362.4 390.6 364.7 397.1 366.8 403.6 374.5 407.9 382.0 407.4 388.3 411.4" stroke="#fcfa19" stroke-width="7.800000000000001"/>
<path d="M454.2 255.2 452.0 259.8 447.0 261.2 451.8 263.6 457.4 262.1 462.6 264.8M437.5 304.2 434.4 299.9 433.0 294.9 431.5 289.9M399.2 282.7 402.4 287.1 407.6 288.7 412.8 286.7 418.0 288.4 423.1 288.7 425.5 280.3M153.3 335.4 149.7 340.9 149.7 347.4M153.7 381.3 147.9 380.9 142.1 383.8 136.4 379.6 130.5 381.5 131.3 375.0 129.3 368.9M223.2 400.3 229.8 402.4 231.0 409.5M176.0 409.5 178.4 414.3 176.0 419.1 179.6 422.7M214.2 415.5 216.6 419.5 217.8 423.9 221.4 427.5 226.0 432.0 227.4 438.2 234.2 438.7 240.5 435.8M301.5 443.0 307.9 446.3 315.0 445.4M260.8 346.2 265.6 348.5 270.4 346.2 275.7 347.1M400.4 283.6 407.6 288.4 412.8 289.8 418.0 290.6 423.1 288.4 426.4 285.0 430.3 282.4M455.4 406.7 455.3 413.3 459.0 418.7M459.0 379.2 464.8 382.9 469.8 387.6 474.6 390.4 479.3 393.6 474.5 390.0M316.7 339.8 321.0 336.1 326.1 333.2 328.7 327.8 323.9 332.6 326.1 338.8 325.6 345.7 329.3 351.4 331.1 357.7M489.0 312.4 484.0 313.1 479.6 315.9 474.5 314.5 470.0 317.1M608.3 455.0 607.5 460.0M589.9 375.3 586.3 381.1 583.6 387.6 583.6 394.8 588.4 398.4M511.8 449.8 511.8 449.8M472.4 388.8 474.9 393.1 479.6 394.8M220.2 407.2 218.2 412.0 217.6 417.3 214.2 421.5 219.0 423.9 220.2 431.1 225.4 434.1 229.8 438.3 235.5 435.4 241.7 437.1M221.4 476.6 215.4 475.8 209.4 475.3 208.2 481.8 210.8 488.0 210.6 494.4 204.1 495.0 197.5 495.6 196.3 502.8M177.2 422.7 176.8 417.7 174.8 413.2 166.4 412.0 172.7 411.7 177.2 407.2M301.5 443.0 308.5 444.7 315.0 447.8M466.2 417.9 461.4 418.3 457.8 421.5 451.3 424.3 445.5 428.1 439.9 432.3 437.3 439.0 433.9 445.4 431.5 451.4 437.5 450.2 431.5 455.0 432.2 459.8 431.5 464.6M306.0 420.3 306.0 420.3M300.0 439.5 305.9 439.5 309.9 444.5 315.5 445.4 312.0 452.6 307.2 450.2 312.2 450.3 316.7 452.6M513.4 446.7 510.4 450.9M629.2 530.2 626.6 534.5 623.2 538.4 621.7 543.4M610.5 427.7 610.4 434.0 602.8 434.0M258.0 344.9 264.9 343.2 270.1 348.3 273.5 350.1 278.7 346.6M315.0 343.2 319.3 336.3M220.0 407.9 225.2 410.5 229.5 403.6 230.4 410.5M381.4 363.9 386.8 364.8 390.8 359.9M459.1 377.7 465.2 382.9 470.0 385.5M365.0 377.7 361.9 383.8 362.4 390.6 364.7 397.1 366.8 403.6 374.5 407.9 382.0 407.4 388.3 411.4" stroke="#fcfa19" stroke-width="10.4" stroke-dasharray="0 6.5"/>
<path d="M354.4 285.1 357.8 281.4 362.2 279.1 366.5 276.3 371.7 276.7 370.6 270.0 368.1 263.6 363.5 260.6 362.2 255.2 356.2 249.2 352.7 245.5 349.0 242.1 347.8 238.5 343.3 236.0 339.5 232.5 336.6 227.6 337.9 222.1 337.1 216.9 341.8 214.6 342.8 209.0 347.2 205.6 350.2 201.4 353.7 195.8 358.5 191.9 364.6 189.5 369.2 187.5 374.6 187.8 378.9 184.7 386.2 183.5 393.2 185.9 399.3 184.9 405.2 187.3 411.2 187.1 415.7 191.4 421.9 191.8 424.7 187.2 426.7 182.3 432.1 181.8 437.5 182.3 442.5 178.0 443.5 171.5 448.5 170.0 453.0 172.7 447.1 176.0 444.2 182.5 439.8 187.6 435.2 192.2 429.1 195.4 432.3 199.8 432.5 205.7 436.3 209.8 439.9 215.8 445.8 216.9 446.8 221.9 444.7 226.5 447.9 231.5 451.8 236.1 453.0 243.2 459.0 243.9 465.0 243.2 461.8 247.6 457.6 251.1 454.2 255.2 452.0 259.8 447.0 261.2 451.8 263.6 457.4 262.1 462.6 264.8M355.0 266.0 358.2 260.8 363.4 257.6 371.7 255.2 377.7 255.8 383.7 254.3 389.6 253.4 395.6 254.0 401.9 254.7 408.2 254.4 414.5 253.9 420.7 255.2 426.4 254.5 431.4 252.1 436.3 249.2 443.4 251.1 449.4 255.2 453.6 258.7 458.1 261.7 462.6 264.8 457.1 266.5 453.2 270.2 449.4 274.3 443.7 276.5 437.5 276.7M359.8 250.4 365.8 249.4 369.3 244.4 374.3 241.5 380.1 242.1 385.6 243.5 390.9 245.6 394.8 250.7 400.4 254.0 405.8 254.5 410.0 257.9 414.8 260.0 420.9 261.8 424.3 267.2 429.1 269.5M362.2 280.3 365.0 287.3 369.3 293.5 371.2 298.9 375.3 303.0 370.1 304.5 364.6 304.9 360.4 309.2 355.0 310.2 357.4 314.8 361.0 318.4 364.6 322.1M374.1 307.8 378.9 311.4 376.5 319.8 381.3 325.7 383.7 317.4 381.6 313.0 378.9 309.0M383.7 324.5 388.4 321.4 394.1 319.9 399.2 317.4 402.8 312.6 408.0 312.9 413.1 314.2 418.4 313.8 423.9 308.3 431.5 306.6 436.2 304.4 439.9 300.6 447.0 300.6 445.7 294.4 445.3 287.9 441.1 282.7 437.5 276.7M424.3 281.5 425.5 277.9 431.6 279.1 437.4 276.1 443.5 276.7 449.4 275.6 455.4 275.5 461.0 279.2 467.4 281.5 473.7 284.0 476.9 289.9 480.5 297.0 486.6 300.5 492.5 304.2 493.7 310.2 487.7 314.6 480.5 316.2 474.1 318.6 467.4 317.4 460.7 317.4 455.8 312.2 449.4 311.4 442.5 309.3 437.5 304.2 434.4 299.9 433.0 294.9 431.5 289.9M399.2 282.7 402.4 287.1 407.6 288.7 412.8 286.7 418.0 288.4 423.1 288.7 425.5 280.3M234.5 355.8 229.9 352.4 226.0 347.8 220.2 346.2 218.5 341.1 214.2 337.8 209.0 336.1 203.9 338.9 198.7 337.8 192.1 338.2 185.5 337.8M185.5 337.8 180.8 341.4 178.4 345.0 172.9 345.1 167.6 343.8 165.2 339.0 156.8 341.4 153.3 335.4 149.7 340.9 149.7 347.4M184.3 343.8 182.7 350.0 185.5 355.8 186.7 361.7 183.1 366.5 177.2 371.3 181.0 374.6 181.9 379.7 186.7 384.4 192.7 382.1 197.0 385.3 198.7 390.4 206.0 389.7 213.0 391.6 218.6 394.2 222.6 398.8 228.6 398.1 234.5 397.6 240.5 398.6 246.5 398.8 252.1 402.8 256.1 408.4 261.2 403.7 268.0 403.6 275.2 398.8 279.9 397.8 284.8 397.6M129.3 368.9 135.9 368.0 142.5 368.6 149.2 370.2 155.6 367.7 161.6 373.7 166.6 377.5 172.4 379.7 173.6 384.4 167.6 385.6 165.2 382.1 159.4 381.9 153.7 381.3 147.9 380.9 142.1 383.8 136.4 379.6 130.5 381.5 131.3 375.0 129.3 368.9M173.6 384.4 177.2 388.0 181.9 390.4 179.6 395.2 176.0 394.0M166.4 402.4 171.3 404.9 176.5 405.4 181.9 404.8 187.6 405.5 193.2 406.7 198.7 408.4 204.1 404.6 210.8 405.0 216.6 402.4 223.2 400.3 229.8 402.4 231.0 409.5M162.8 411.9 166.9 408.4 171.9 407.4 177.2 407.2 182.3 402.2 189.1 400.0 196.3 395.2 191.9 399.0 187.9 403.4 181.9 404.8 176.0 409.5 178.4 414.3 176.0 419.1 179.6 422.7M197.5 408.4 203.9 411.2 208.2 416.7 212.7 420.5 214.4 426.0 216.6 431.1 220.2 438.2 217.7 444.5 211.8 447.8 216.5 451.8 222.6 452.6 228.4 455.5 234.5 457.4 240.7 458.5 245.8 461.7 251.0 464.8 256.1 468.1M214.2 415.5 216.6 419.5 217.8 423.9 221.4 427.5 226.0 432.0 227.4 438.2 234.2 438.7 240.5 435.8M240.5 354.6 245.4 351.7 246.5 346.2 252.4 343.1 258.5 340.2 264.4 338.3 270.4 336.6 275.2 332.4 280.8 330.1 287.1 329.5 294.3 334.2 298.6 339.8 301.5 346.2 304.9 351.1 306.3 356.9M245.3 356.9 248.2 363.3 253.7 367.7 259.8 368.2 265.6 369.5 270.4 373.7 276.3 372.5 280.0 367.7 286.4 366.6 292.4 363.6 299.1 364.1 304.4 363.5 309.4 360.3 315.0 361.7M220.2 389.2 227.4 387.6 234.5 385.6 241.4 385.4 246.5 380.9 253.1 380.1 258.5 376.1 252.5 374.8 246.4 376.6 240.5 375.8 234.5 374.9 240.5 371.3 246.5 370.1 252.0 366.8 258.5 366.5M269.2 409.5 274.5 406.5 278.1 401.7 282.4 397.6M270.4 409.5 276.1 412.1 282.5 411.1 288.6 411.8 294.3 414.3 301.1 416.2 308.0 417.4 315.0 415.5M280.0 367.7 280.4 373.5 282.6 378.6 286.0 383.2 287.4 388.8 290.5 393.4 294.3 397.6 296.4 403.4 295.8 409.6 296.7 415.5 299.7 421.2 301.5 427.5 307.9 430.7 311.1 437.0M275.2 469.3 274.2 462.9 276.5 457.2 278.8 451.4 282.9 447.4 288.3 445.4 293.1 443.2 296.7 439.4 303.2 440.4 308.9 436.8 315.0 435.8M301.5 443.0 307.9 446.3 315.0 445.4M260.8 346.2 265.6 348.5 270.4 346.2 275.7 347.1 280.0 343.8 275.6 348.5 270.4 352.2M294.3 373.7 298.9 376.3 301.5 380.9 308.7 376.1 312.9 380.1 315.0 385.6 308.5 388.3 301.5 388.0M363.4 281.2 367.6 285.9 368.8 292.2 370.6 298.3 375.3 302.7 369.6 303.3 365.2 307.0 359.8 308.3 355.0 311.1 357.9 316.8 364.5 319.4 366.9 325.4 373.0 325.6 378.9 324.2M383.7 324.2 390.7 322.3 396.3 318.2 401.6 313.5 407.1 315.1 412.8 314.2 418.4 314.7 422.7 309.8 429.5 308.6 433.9 303.9 438.3 300.8 443.5 299.1M400.4 283.6 407.6 288.4 412.8 289.8 418.0 290.6 423.1 288.4 426.4 285.0 430.3 282.4M300.0 412.7 306.0 412.2 312.0 414.8 317.9 413.8 323.9 411.1 329.9 412.7 336.5 413.1 342.4 415.3 347.2 420.8 353.8 421.1 360.3 420.0 365.1 414.7 371.7 413.9 377.3 416.9 383.1 419.1 389.5 419.1 395.6 419.9 401.6 419.2 407.6 419.9 414.2 417.7 420.7 415.1 426.3 413.6 431.8 413.2 437.1 418.1 442.7 416.8 448.2 416.3 454.6 416.8 460.9 419.2 467.4 417.5 473.9 417.2 480.4 419.3 486.9 419.0 493.5 416.1 500.0 417.5M435.1 348.1 440.4 352.1 444.8 357.0 449.4 361.6 453.0 367.3 452.2 374.0 453.4 380.9 451.8 387.6 453.4 393.9 456.0 400.0 455.4 406.7 455.3 413.3 459.0 418.7M459.0 379.2 464.8 382.9 469.8 387.6 474.6 390.4 479.3 393.6 474.5 390.0M316.7 339.8 321.0 336.1 326.1 333.2 328.7 327.8 323.9 332.6 326.1 338.8 325.6 345.7 329.3 351.4 331.1 357.7M453.0 357.7 457.7 359.8 462.5 361.8 467.4 363.7 469.6 357.4 475.1 353.9 479.3 349.3 486.1 351.6 491.3 356.5 494.5 352.0 500.0 351.7M345.4 351.7 349.2 346.3 350.2 339.8 355.4 336.7 361.3 336.5 366.9 335.0 370.3 330.7 371.7 325.4 373.9 330.9 376.5 336.2 376.5 341.5 374.8 346.5 374.1 351.7 376.3 356.6 378.9 361.3 371.5 361.1 364.6 363.7M419.5 342.2 426.7 346.9 429.8 353.8 429.1 361.3 421.9 363.7 426.5 367.5 431.5 370.9 434.2 366.4 438.7 363.7 443.5 369.7M470.0 283.6 474.7 286.8 477.0 292.5 482.0 295.5 487.9 299.2 493.9 302.7 493.9 311.1 489.0 312.4 484.0 313.1 479.6 315.9 474.5 314.5 470.0 317.1M470.0 346.9 476.0 346.7 482.0 346.9 487.9 347.5 493.9 347.0 499.9 346.9 505.8 349.4 511.8 351.7 516.8 353.8 522.3 353.9 527.4 355.3 532.1 359.6 536.9 363.7 542.6 367.2 547.0 372.6 553.7 374.4 557.9 379.0 562.1 383.5 566.7 387.6 573.5 388.8 577.6 393.6 582.8 396.8 588.4 399.5 582.4 404.3 580.0 411.5M482.0 361.3 488.4 361.3 493.5 356.4 499.9 356.5 508.3 358.9 513.4 360.7 516.4 365.1 520.2 368.5 525.6 370.5 529.0 374.7 532.2 379.2 536.8 375.2 543.2 375.8 548.8 374.2 553.7 370.9 558.5 366.1 554.4 369.3 553.7 374.4 551.5 381.3 546.5 386.4 547.7 387.6M492.7 363.7 495.5 369.1 499.9 373.2 504.8 378.0 510.6 381.6 516.1 379.5 521.9 382.6 527.4 380.4 534.6 379.2 531.7 386.2 533.4 393.6 534.7 399.5 531.2 405.5 533.4 411.5 537.8 413.5 541.7 416.3 546.5 414.6 552.0 415.3 556.1 411.5 561.1 412.5 565.6 410.3 572.9 409.3 580.0 411.5M546.5 416.3 539.3 421.1 540.5 428.2 547.3 431.5 553.7 435.4 559.7 433.0 559.1 427.6 558.5 422.3 552.5 416.3 546.5 416.3M547.7 387.6 552.5 393.1 556.1 399.5 561.5 404.7 564.4 411.5 569.7 413.8 574.0 417.5 572.9 422.9 574.0 428.2 580.1 432.9 582.4 440.2 575.8 440.5 569.2 441.4 568.9 447.4 568.0 453.3 563.2 460.0M582.4 411.5 587.8 414.9 589.5 421.1 593.2 424.8 595.5 429.4 600.0 432.9 605.1 435.4 606.8 439.6 608.7 443.8 605.1 451.0 608.3 455.0 607.5 460.0M574.0 427.0 577.3 431.0 582.4 430.6 589.5 431.8 594.0 434.4 599.1 434.2 605.9 433.9 611.1 429.4 610.4 421.9 613.5 415.1 613.5 408.9 615.8 403.1 619.2 397.3 625.4 394.8 623.0 387.6 628.1 385.0 631.4 380.4 627.5 376.2 625.4 370.9 620.0 372.6 614.7 370.9 606.3 372.1 600.9 371.8 595.5 370.9 589.9 375.3 586.3 381.1 583.6 387.6 583.6 394.8 588.4 398.4M470.0 417.5 476.5 416.3 482.9 415.8 489.4 419.5 495.8 417.8 502.3 417.5 505.9 421.1 509.6 424.3 514.2 425.8 516.2 430.6 514.2 435.4 515.1 442.9 511.8 449.8M470.0 346.9 474.4 350.1 479.6 351.7 478.7 357.8 477.2 363.7 480.7 367.8 478.4 373.9 482.0 378.0 485.4 374.9 487.9 370.9 487.5 363.3 484.3 356.5 489.3 358.7 491.5 363.7M472.4 388.8 474.9 393.1 479.6 394.8M197.5 403.6 202.6 406.2 203.4 412.7 208.2 415.5 212.0 420.8 215.4 426.3 218.5 432.0 220.2 438.3 215.2 442.9 210.6 447.8 215.9 452.1 222.6 452.6 229.1 455.2 235.5 458.2 240.5 463.4 246.5 465.5 252.9 466.2 258.5 469.3 263.5 472.3 265.6 477.7 272.3 476.7 278.8 478.9 275.5 472.1 276.4 464.6 278.1 457.4 282.4 451.4 285.7 447.1 289.7 443.5 294.3 440.6 301.4 440.7 307.9 437.3 315.0 437.1M220.2 407.2 218.2 412.0 217.6 417.3 214.2 421.5 219.0 423.9 220.2 431.1 225.4 434.1 229.8 438.3 235.5 435.4 241.7 437.1M221.4 452.6 224.8 456.2 226.2 461.0 232.4 462.7 235.1 469.0 240.5 471.7 245.1 476.3 251.1 479.4 254.9 484.9 248.1 485.0 241.3 482.8 234.5 484.9 239.3 477.7 233.2 479.1 227.5 475.2 221.4 476.6 215.4 475.8 209.4 475.3 208.2 481.8 210.8 488.0 210.6 494.4 204.1 495.0 197.5 495.6 196.3 502.8M177.2 422.7 176.8 417.7 174.8 413.2 166.4 412.0 172.7 411.7 177.2 407.2M301.5 443.0 308.5 444.7 315.0 447.8M466.2 417.9 461.4 418.3 457.8 421.5 451.3 424.3 445.5 428.1 439.9 432.3 437.3 439.0 433.9 445.4 431.5 451.4 437.5 450.2 431.5 455.0 432.2 459.8 431.5 464.6M325.1 435.9 317.9 434.7 312.3 431.3 308.6 426.2 306.0 420.3M300.0 439.5 305.9 439.5 309.9 444.5 315.5 445.4 312.0 452.6 307.2 450.2 312.2 450.3 316.7 452.6M470.8 417.0 477.2 415.4 483.6 415.0 490.0 418.6 496.4 418.8 502.8 417.0 506.6 424.5 509.9 428.0 514.2 430.2 515.2 435.8 514.2 441.5 513.4 446.7 510.4 450.9M576.4 400.0 581.0 405.1 584.0 411.3 582.3 416.6 581.7 422.3 578.5 427.0 576.4 432.1 582.0 433.6 585.5 439.1 591.5 439.6 585.5 439.4 581.1 443.2 576.4 446.4 570.8 447.2 566.2 450.8 566.3 457.1 563.4 461.7 562.3 467.2 557.5 470.8 564.5 470.5 571.4 471.3 578.3 471.7 584.0 472.3 589.8 471.5 595.3 473.6 597.1 478.3 599.1 483.0 593.4 488.7 592.6 494.6 587.7 498.1 587.9 504.0 585.8 509.4 591.7 507.9 597.2 509.9 603.0 508.7 608.5 511.3 614.4 509.7 619.9 511.6 625.5 513.2 627.7 517.7 627.4 522.6 628.9 527.5 631.1 532.1 623.6 535.8 629.2 530.2 626.6 534.5 623.2 538.4 621.7 543.4M604.7 432.1 605.4 437.5 606.5 442.7 607.2 448.1 610.4 452.8 610.3 459.2 609.9 465.5 608.5 471.7 607.5 477.9 612.6 482.7 612.3 488.7 607.3 488.6 602.8 490.6 599.6 484.5 595.3 479.2M612.3 400.0 617.1 404.7 617.9 411.3 614.5 416.5 614.2 422.6 610.5 427.7 610.4 434.0 602.8 434.0M220.0 344.9 224.5 348.8 229.1 352.7 234.7 355.2M239.9 353.5 242.4 346.6 245.9 339.7 252.1 340.3 258.0 338.0 264.3 333.8 271.8 332.8 277.0 331.8 282.2 330.5 287.3 329.3 290.6 334.1 296.0 336.3 299.4 343.2 304.6 348.3 306.3 355.2 308.0 360.4 315.0 362.1 321.0 365.3 327.9 365.6 332.2 369.1M245.9 339.7 240.7 344.9 241.4 352.3 245.0 358.7 248.5 364.7 253.1 367.3 258.0 369.1 263.2 376.0 266.6 381.1 271.8 380.3 276.8 375.7 278.7 369.1 285.6 367.3 291.8 367.3 297.7 365.6 306.3 363.9M258.0 344.9 264.9 343.2 270.1 348.3 273.5 350.1 278.7 346.6M270.1 360.4 273.5 359.6 277.0 360.4 273.5 365.6 271.8 370.8 268.3 369.1M301.1 332.8 306.3 331.0 310.6 327.6 319.3 325.9M315.0 343.2 319.3 336.3 323.6 332.8 328.8 329.3 330.5 332.8 325.3 336.3 321.9 338.0 325.6 342.6 327.0 348.3 330.5 351.8 332.2 360.4M231.2 376.0 235.4 372.1 240.4 370.8 245.9 370.8M231.2 376.0 237.4 377.0 243.8 377.6 249.3 381.1 253.5 384.4 258.8 384.6 252.3 385.2 245.9 386.3 240.5 386.1 235.1 386.6 229.6 386.7 224.3 388.0 220.0 388.9M220.0 393.2 228.6 395.0 234.2 394.9 239.9 395.0 245.4 395.5 248.5 400.1 250.3 405.3 254.5 408.8 263.2 407.9 268.4 404.0 271.8 398.4 280.4 400.1 285.6 396.7M278.7 370.8 282.1 376.4 285.6 382.0 287.2 386.4 289.1 390.6 290.5 395.3 293.4 399.3 296.7 405.3 296.0 412.2 296.6 417.0 299.4 420.8 303.6 423.0 306.3 426.9M270.1 409.6 276.9 408.7 283.2 410.7 289.3 413.9 296.0 413.9 302.3 412.5 308.6 415.1 315.0 413.9 321.6 415.8 327.9 413.1 332.2 411.3 336.5 409.6 343.3 409.9 350.0 411.4M296.0 382.9 297.6 375.9 299.4 369.1 302.9 365.6 306.3 369.1 310.0 374.0 315.0 377.7 318.6 381.4 323.6 382.9 327.5 387.6 332.2 391.5 340.8 391.5 345.5 391.7 350.0 390.6M297.7 399.3 302.0 395.0 306.3 399.3 313.2 400.1 308.7 403.8 302.9 403.6 300.3 401.0M306.3 376.0 310.6 382.9 315.0 386.3M332.2 351.8 335.3 346.3 340.8 343.2 345.2 341.1 350.0 341.4M330.5 367.3 335.3 370.2 340.8 370.8 345.7 371.2 350.0 373.4M332.2 397.5 336.4 399.1 340.8 400.1 345.9 398.7 350.0 401.9M220.0 407.9 225.2 410.5 229.5 403.6 230.4 410.5M378.0 312.1 379.7 317.3 379.7 324.2 376.0 319.2 376.3 312.9M371.1 325.9 372.8 334.5 376.3 341.4 378.0 348.3 374.5 355.2 372.8 362.1 368.5 369.1M365.9 324.2 365.2 328.9 362.4 332.8 356.5 334.6 351.2 338.0 345.2 343.2 343.5 351.8 350.2 353.6 357.3 353.5 362.4 360.4 357.7 362.3 353.8 365.6 345.2 365.6M340.0 344.9 343.9 342.2 348.6 341.4 353.8 338.9 359.0 336.3M340.0 370.8 345.7 370.0 351.5 369.5 357.3 369.1 363.6 366.8 370.3 370.1 376.6 366.3 383.2 367.3 389.6 367.8 395.3 365.9 400.4 362.1 406.6 359.0 413.4 360.4 419.9 362.0 426.3 363.9 429.8 367.8 435.0 369.1 438.3 373.2 443.6 373.4M348.6 376.0 354.4 375.1 360.0 373.7 365.9 374.2 371.6 372.6 377.5 375.8 383.2 373.4 389.1 372.9 394.6 375.5 400.4 376.0 406.3 374.8 411.9 377.2 417.7 377.7 426.3 376.0M381.4 363.9 386.8 364.8 390.8 359.9 396.1 360.4 402.6 362.0 409.1 360.4M416.0 351.8 419.4 347.5 422.9 343.2 426.3 346.6 428.0 351.8 428.0 357.6 431.5 362.1 427.2 360.4 423.0 356.2 417.7 353.5M459.1 341.4 462.6 344.9 460.8 351.8 456.5 356.1 460.8 360.4 465.2 363.9 470.0 360.4M452.2 358.7 459.2 360.1 465.2 363.9M459.1 377.7 465.2 382.9 470.0 385.5M365.0 377.7 361.9 383.8 362.4 390.6 364.7 397.1 366.8 403.6 374.5 407.9 382.0 407.4 388.3 411.4 391.8 406.2 398.0 401.7 405.6 401.9 400.4 395.0 396.9 390.7 393.5 386.3 388.2 383.1 383.2 379.4 374.5 377.7 369.8 378.6 365.0 377.7M391.8 377.7 395.1 381.4 395.2 386.3 400.4 389.8 405.4 387.9 410.6 386.6 416.0 386.3 420.2 383.9 422.0 379.4 426.3 376.0M413.4 389.8 419.4 395.0 426.3 399.3 429.8 403.6 436.7 401.9 440.1 395.0 434.7 394.9 431.5 390.6M340.0 382.0 343.8 385.2 348.6 386.3 349.3 391.4 352.9 395.0 352.4 400.1 348.6 403.6 344.6 407.0 344.3 412.2 347.0 417.2 351.2 420.8M340.0 390.6 345.9 392.3 351.5 389.1 357.3 389.8 361.4 387.5 365.9 386.3M370.2 384.6 376.3 386.3 379.3 390.4 381.4 395.0 376.0 395.0 372.8 399.3M383.0 387.8 376.8 375.4 371.1 377.8 379.1 391.4 375.1 396.2 376.2 386.5 379.0 368.2 362.8 364.2 352.3 379.2 362.2 389.6 376.6 384.2 373.3 376.3 358.4 375.6M392.1 364.6 374.0 361.3 381.4 374.1 365.6 379.3 362.5 388.7 363.2 400.1 374.4 390.8 387.4 386.8 392.9 384.0 396.9 397.1 380.9 387.9 371.8 381.7 379.3 399.5M362.6 364.6 356.5 370.6 351.9 373.9 338.2 380.4 341.0 374.2 347.5 390.8 361.7 384.2 369.4 381.5 368.1 387.7 356.2 374.8 345.7 365.0 330.5 361.7 338.8 365.5M388.2 361.6 398.1 372.5 403.1 381.1 416.4 389.6 412.8 377.7 423.2 368.8 412.0 372.5 402.6 386.4 393.7 375.0 377.4 378.5 360.2 370.8 353.4 364.0 349.2 368.9M328.0 382.1 338.1 373.0 327.3 370.8 313.7 374.9 309.0 367.8 295.3 363.8 308.0 367.9 314.7 370.6 320.3 358.5 333.7 353.9 327.6 365.8 315.1 371.8 312.6 385.4M327.2 384.7 326.4 390.0 332.3 387.0 336.5 375.1 346.8 371.1 336.0 376.0 329.0 377.8 319.8 379.9 324.2 383.0 325.5 389.8 333.7 382.8 323.6 383.7 325.0 390.0M307.5 378.2 298.8 384.2 304.8 383.6 300.4 376.3 303.9 372.0 299.3 368.0 293.1 377.0 297.4 378.9 311.2 380.1 311.1 372.8 312.7 360.0 307.1 371.5 294.3 367.6M432.4 367.8 432.8 372.3 428.9 381.0 441.4 375.8 451.3 375.9 459.1 373.9 455.5 379.4 452.5 370.2 445.1 378.0 452.9 376.5 439.8 380.4 436.3 377.8 430.8 374.2M452.4 394.5 447.3 384.6 445.6 388.8 448.3 384.1 454.4 375.2 450.1 380.7 454.7 382.7 459.8 377.6 451.1 376.8 446.5 373.9 444.6 363.3 450.2 365.1 454.1 367.1M349.1 357.2 355.6 355.2 358.5 352.5 359.1 360.7 354.0 356.2 360.5 353.6 363.7 349.8 364.3 346.2 363.4 341.9 353.5 344.3 349.4 345.9 346.3 341.6 346.4 337.0M351.2 356.3 361.8 353.3 356.0 359.6 351.2 358.9 352.9 354.0 360.2 345.5 349.6 341.8 344.1 341.3 353.0 343.1 355.3 340.8 346.6 345.0 344.4 347.3 352.6 341.8M505.2 363.3 500.6 361.8 497.5 352.3 493.7 356.1 485.8 360.6 485.7 366.0 485.2 375.1 490.1 382.5 491.5 377.3 497.4 381.6 498.3 391.7 492.7 388.1 490.6 377.1 493.3 374.6 489.4 363.4 488.2 369.3 485.3 373.7 480.6 375.5 479.8 382.4M460.7 372.6 455.3 381.0 466.2 381.6 473.2 374.5 470.1 371.6 477.0 362.5 484.1 366.7 492.5 367.5 504.6 365.6 510.1 364.3 515.9 364.5 505.0 364.2 495.2 362.8 486.4 360.9 478.5 357.0 478.4 361.6 481.5 372.6 483.1 377.0 488.5 382.9M474.2 360.4 464.5 354.5 469.3 353.6 469.6 358.7 472.1 352.0 472.3 360.4 478.9 352.0 482.6 357.6 486.3 364.1 478.7 374.0 467.8 373.5 477.7 378.7 473.0 390.0 479.7 380.0 488.4 383.4 491.7 380.8 498.1 384.6 502.8 385.9 495.1 376.2" stroke="#000" stroke-width="2.6"/>
</g>
<g clip-path="url(#clipb)" fill="none" stroke-linejoin="round" stroke-linecap="round">
<polygon points="1030,380 1055,372 1080,378 1090,392 1080,405 1060,410 1040,408 1028,395" fill="#f3601c" stroke="#f3601c" stroke-width="8" stroke-linejoin="round"/>
<path d="M1055.9 360.1 1062.1 360.3M1010.4 389.4 1008.7 391.2 1011.0 394.9 1019.1 395.6 1020.8 395.8 1024.0 396.6 1028.2 402.2 1032.9 401.8 1037.9 402.0M1037.2 401.9 1042.4 401.4 1044.2 397.1 1042.6 396.0 1037.6 393.2 1033.9 396.5 1028.8 395.3M1023.0 389.0 1021.0 384.8 1024.9 389.4 1024.3 395.5M1070.3 365.4 1074.2 362.8 1074.9 360.4 1078.4 359.7 1081.2 357.7 1085.9 352.9M1060.0 370.4 1062.2 375.5 1061.7 368.6" stroke="#f02e1d" stroke-width="7.800000000000001"/>
<path d="M1055.9 360.1 1062.1 360.3M1010.4 389.4 1008.7 391.2 1011.0 394.9 1019.1 395.6 1020.8 395.8 1024.0 396.6 1028.2 402.2 1032.9 401.8 1037.9 402.0M1037.2 401.9 1042.4 401.4 1044.2 397.1 1042.6 396.0 1037.6 393.2 1033.9 396.5 1028.8 395.3M1023.0 389.0 1021.0 384.8 1024.9 389.4 1024.3 395.5M1070.3 365.4 1074.2 362.8 1074.9 360.4 1078.4 359.7 1081.2 357.7 1085.9 352.9M1060.0 370.4 1062.2 375.5 1061.7 368.6" stroke="#f02e1d" stroke-width="10.4" stroke-dasharray="0 6.5"/>
<path d="M1062.1 360.3 1066.5 359.3 1065.9 354.9 1067.9 355.9M1049.2 374.2 1044.3 373.0 1042.7 374.1 1035.8 378.3 1035.1 380.1 1031.1 381.2 1030.5 383.2 1026.5 382.7 1018.4 382.5 1016.9 383.9 1011.3 383.1 1010.4 389.4M1028.8 395.3 1023.2 394.2 1022.1 398.0 1017.5 397.5 1016.8 401.0 1021.3 403.5 1026.0 401.6 1028.7 399.7 1033.3 402.8 1037.8 402.0M1024.3 395.5 1030.4 394.7 1036.5 396.8 1039.7 399.0 1045.6 400.8 1042.8 400.6 1039.1 400.3 1034.4 396.6 1032.6 398.2 1030.2 401.4 1028.2 397.7 1025.9 393.9 1026.3 391.2M1085.9 352.9 1082.2 354.0 1076.0 354.2 1069.5 358.0 1062.4 358.8 1060.1 353.1 1063.6 356.7 1067.1 354.5 1069.9 358.4 1073.9 356.4 1070.6 353.1 1071.5 356.5M1061.7 368.6 1061.7 366.0 1056.9 364.2 1063.3 360.4 1070.9 362.0 1072.9 356.9 1078.8 352.5 1081.4 356.6 1075.8 358.0 1069.0 356.2 1065.5 355.0 1062.8 355.9 1059.9 356.1" stroke="#f13f1d" stroke-width="7.800000000000001"/>
<path d="M1062.1 360.3 1066.5 359.3 1065.9 354.9 1067.9 355.9M1049.2 374.2 1044.3 373.0 1042.7 374.1 1035.8 378.3 1035.1 380.1 1031.1 381.2 1030.5 383.2 1026.5 382.7 1018.4 382.5 1016.9 383.9 1011.3 383.1 1010.4 389.4M1028.8 395.3 1023.2 394.2 1022.1 398.0 1017.5 397.5 1016.8 401.0 1021.3 403.5 1026.0 401.6 1028.7 399.7 1033.3 402.8 1037.8 402.0M1024.3 395.5 1030.4 394.7 1036.5 396.8 1039.7 399.0 1045.6 400.8 1042.8 400.6 1039.1 400.3 1034.4 396.6 1032.6 398.2 1030.2 401.4 1028.2 397.7 1025.9 393.9 1026.3 391.2M1085.9 352.9 1082.2 354.0 1076.0 354.2 1069.5 358.0 1062.4 358.8 1060.1 353.1 1063.6 356.7 1067.1 354.5 1069.9 358.4 1073.9 356.4 1070.6 353.1 1071.5 356.5M1061.7 368.6 1061.7 366.0 1056.9 364.2 1063.3 360.4 1070.9 362.0 1072.9 356.9 1078.8 352.5 1081.4 356.6 1075.8 358.0 1069.0 356.2 1065.5 355.0 1062.8 355.9 1059.9 356.1" stroke="#f13f1d" stroke-width="10.4" stroke-dasharray="0 6.5"/>
<path d="M1067.9 355.9 1070.1 354.6 1073.0 348.0 1075.1 343.3M1057.0 369.7 1049.2 374.2M1053.2 419.0 1050.3 417.3 1051.3 416.0M1080.3 364.4 1082.8 368.9 1089.6 373.2 1092.5 370.4M1061.7 367.6 1068.4 367.3M1138.6 377.1 1141.1 375.4M1071.5 356.5 1079.7 355.7 1085.6 353.2M1059.9 356.1 1054.2 360.0 1050.8 365.6 1057.3 364.1 1063.7 362.9" stroke="#f2501c" stroke-width="7.800000000000001"/>
<path d="M1067.9 355.9 1070.1 354.6 1073.0 348.0 1075.1 343.3M1057.0 369.7 1049.2 374.2M1053.2 419.0 1050.3 417.3 1051.3 416.0M1080.3 364.4 1082.8 368.9 1089.6 373.2 1092.5 370.4M1061.7 367.6 1068.4 367.3M1138.6 377.1 1141.1 375.4M1071.5 356.5 1079.7 355.7 1085.6 353.2M1059.9 356.1 1054.2 360.0 1050.8 365.6 1057.3 364.1 1063.7 362.9" stroke="#f2501c" stroke-width="10.4" stroke-dasharray="0 6.5"/>
<path d="M1171.0 381.2 1171.0 383.7 1177.5 382.3 1179.8 386.2 1183.5 395.2 1183.4 396.5 1178.6 399.6M1114.3 363.3 1118.6 364.6 1125.6 364.4 1131.9 366.4M1075.1 343.3 1077.4 341.2 1082.9 343.4 1084.2 345.6 1089.0 349.8M1052.4 391.7 1051.3 391.1 1049.4 391.9 1048.0 393.7M1066.5 427.7 1064.8 427.7 1064.8 428.4 1060.3 425.3 1053.2 419.0M1092.5 370.4 1097.6 364.2 1099.0 364.8 1102.6 369.0 1106.0 372.6M1062.5 393.2 1057.7 392.1 1055.7 389.0 1060.1 387.7M1072.3 387.8 1066.5 389.9 1064.7 393.2M1068.4 367.3 1070.9 372.6 1068.9 376.2 1075.3 369.5 1072.0 360.8 1064.8 362.5M1141.1 375.4 1146.1 371.6 1148.2 367.3 1146.3 372.7 1153.2 368.6 1156.4 373.8M1153.4 378.1 1158.5 372.4 1151.2 376.6" stroke="#f3611c" stroke-width="7.800000000000001"/>
<path d="M1171.0 381.2 1171.0 383.7 1177.5 382.3 1179.8 386.2 1183.5 395.2 1183.4 396.5 1178.6 399.6M1114.3 363.3 1118.6 364.6 1125.6 364.4 1131.9 366.4M1075.1 343.3 1077.4 341.2 1082.9 343.4 1084.2 345.6 1089.0 349.8M1052.4 391.7 1051.3 391.1 1049.4 391.9 1048.0 393.7M1066.5 427.7 1064.8 427.7 1064.8 428.4 1060.3 425.3 1053.2 419.0M1092.5 370.4 1097.6 364.2 1099.0 364.8 1102.6 369.0 1106.0 372.6M1062.5 393.2 1057.7 392.1 1055.7 389.0 1060.1 387.7M1072.3 387.8 1066.5 389.9 1064.7 393.2M1068.4 367.3 1070.9 372.6 1068.9 376.2 1075.3 369.5 1072.0 360.8 1064.8 362.5M1141.1 375.4 1146.1 371.6 1148.2 367.3 1146.3 372.7 1153.2 368.6 1156.4 373.8M1153.4 378.1 1158.5 372.4 1151.2 376.6" stroke="#f3611c" stroke-width="10.4" stroke-dasharray="0 6.5"/>
<path d="M1159.1 353.4 1157.5 355.6 1155.6 361.8 1152.8 363.5 1149.8 368.3 1150.0 373.8 1146.9 374.9 1148.3 376.8 1150.4 380.3 1153.2 379.0 1155.1 380.6 1159.8 382.5 1165.4 380.0 1168.0 378.6 1171.0 381.2M1131.9 366.4 1133.6 369.6 1134.4 368.0 1134.0 362.9 1132.5 362.0 1134.3 356.2M1089.0 349.8 1091.1 354.8 1094.0 360.8M1070.2 392.8 1065.8 390.2 1061.1 392.5 1052.4 391.7M1069.5 431.5 1073.7 432.2 1066.5 427.7M1106.0 372.6 1105.8 364.7 1106.8 360.2M1071.5 398.4 1069.7 399.6 1064.6 397.8 1058.1 397.1 1058.8 392.1 1059.3 387.9 1066.0 388.9M1060.1 387.7 1061.6 385.7 1059.8 390.1 1066.0 387.2 1066.8 391.6 1063.4 397.7 1065.4 392.0 1070.6 387.5 1076.5 389.2 1070.2 391.0 1067.5 397.4M1062.7 397.5 1056.7 397.0 1051.1 395.3 1047.7 394.0 1044.9 393.7 1043.3 396.7 1041.5 392.1 1045.1 391.0 1045.2 388.7 1048.3 383.1 1052.3 384.3 1051.8 386.5M1064.7 393.2 1062.8 399.7 1065.3 401.5 1063.5 398.8 1058.3 397.1 1055.5 395.4 1056.8 391.8 1054.8 389.3 1048.6 388.0 1046.1 388.9 1047.4 392.0 1050.5 397.0M1063.5 374.4 1056.5 370.9 1053.9 368.0 1051.4 364.6 1048.7 363.1 1049.4 358.2M1059.4 367.1 1061.7 357.8 1068.6 359.9 1071.2 357.9 1074.4 353.7M1064.8 362.5 1061.1 363.4 1058.9 361.4 1056.8 357.0 1055.9 361.0 1065.0 362.6 1064.3 358.7 1067.1 351.2M1063.4 419.3 1056.8 420.3M1156.4 373.8 1157.9 377.5 1155.1 381.7 1150.6 387.0 1144.4 387.0 1143.3 390.6M1151.2 376.6 1148.2 377.3 1140.4 377.8 1137.1 378.1 1133.7 378.6 1128.9 383.0" stroke="#f4721c" stroke-width="7.800000000000001"/>
<path d="M1159.1 353.4 1157.5 355.6 1155.6 361.8 1152.8 363.5 1149.8 368.3 1150.0 373.8 1146.9 374.9 1148.3 376.8 1150.4 380.3 1153.2 379.0 1155.1 380.6 1159.8 382.5 1165.4 380.0 1168.0 378.6 1171.0 381.2M1131.9 366.4 1133.6 369.6 1134.4 368.0 1134.0 362.9 1132.5 362.0 1134.3 356.2M1089.0 349.8 1091.1 354.8 1094.0 360.8M1070.2 392.8 1065.8 390.2 1061.1 392.5 1052.4 391.7M1069.5 431.5 1073.7 432.2 1066.5 427.7M1106.0 372.6 1105.8 364.7 1106.8 360.2M1071.5 398.4 1069.7 399.6 1064.6 397.8 1058.1 397.1 1058.8 392.1 1059.3 387.9 1066.0 388.9M1060.1 387.7 1061.6 385.7 1059.8 390.1 1066.0 387.2 1066.8 391.6 1063.4 397.7 1065.4 392.0 1070.6 387.5 1076.5 389.2 1070.2 391.0 1067.5 397.4M1062.7 397.5 1056.7 397.0 1051.1 395.3 1047.7 394.0 1044.9 393.7 1043.3 396.7 1041.5 392.1 1045.1 391.0 1045.2 388.7 1048.3 383.1 1052.3 384.3 1051.8 386.5M1064.7 393.2 1062.8 399.7 1065.3 401.5 1063.5 398.8 1058.3 397.1 1055.5 395.4 1056.8 391.8 1054.8 389.3 1048.6 388.0 1046.1 388.9 1047.4 392.0 1050.5 397.0M1063.5 374.4 1056.5 370.9 1053.9 368.0 1051.4 364.6 1048.7 363.1 1049.4 358.2M1059.4 367.1 1061.7 357.8 1068.6 359.9 1071.2 357.9 1074.4 353.7M1064.8 362.5 1061.1 363.4 1058.9 361.4 1056.8 357.0 1055.9 361.0 1065.0 362.6 1064.3 358.7 1067.1 351.2M1063.4 419.3 1056.8 420.3M1156.4 373.8 1157.9 377.5 1155.1 381.7 1150.6 387.0 1144.4 387.0 1143.3 390.6M1151.2 376.6 1148.2 377.3 1140.4 377.8 1137.1 378.1 1133.7 378.6 1128.9 383.0" stroke="#f4721c" stroke-width="10.4" stroke-dasharray="0 6.5"/>
<path d="M1184.4 325.8 1178.5 327.8 1171.7 327.5 1168.7 330.3 1161.5 331.4 1159.0 336.6 1156.9 337.2M1151.5 334.6 1156.3 338.0 1158.4 341.0 1159.3 350.7 1159.1 353.4M1149.4 337.8 1148.3 341.7M1134.3 356.2 1136.3 359.5 1140.7 361.2 1137.4 368.6 1138.5 373.7 1140.5 380.0M1094.0 360.8 1097.3 360.4 1097.5 361.7 1101.8 359.0 1103.3 353.4M1084.6 397.5 1072.6 394.4 1072.1 394.8 1070.2 392.8M1055.0 431.9 1060.5 431.5 1064.7 434.2 1069.5 431.5M1066.0 388.9 1071.2 388.2 1072.7 390.4 1071.9 385.9 1068.9 387.2 1070.0 389.7 1070.2 392.3 1067.7 395.5 1064.3 395.9 1059.6 396.3 1054.0 393.5 1050.5 397.4 1051.5 400.3M1060.1 396.3 1062.2 401.6M1067.5 397.4 1073.7 395.7 1075.8 393.0 1079.6 390.5 1080.1 387.6 1076.3 391.1 1075.5 398.0 1071.6 397.1 1066.8 394.6 1065.1 395.7 1064.4 400.6 1061.2 396.4 1060.5 391.7M1051.8 386.5 1054.5 388.8 1051.4 390.5 1053.1 395.2 1046.9 398.1 1048.5 395.3 1051.5 396.1 1054.9 393.2 1053.7 399.1 1057.4 398.1 1059.0 401.1 1057.0 396.8M1050.5 397.0 1054.9 395.1 1057.2 397.8 1059.9 399.0 1059.6 392.8 1062.1 393.1 1064.5 389.2 1064.8 385.8 1067.6 384.4 1070.2 384.4 1069.1 388.2 1063.8 384.6 1058.7 388.3M1049.4 358.2 1057.9 356.1 1055.5 352.2 1049.8 351.3 1047.1 352.2 1045.9 360.7 1048.6 359.2M1074.4 353.7 1073.9 348.8 1075.3 345.2 1074.6 340.8 1070.6 342.8 1073.1 351.8 1075.3 356.6M1067.1 351.2 1062.5 353.5 1058.1 351.0 1063.1 348.9 1062.9 340.3 1063.3 344.7M1056.8 420.3 1049.7 423.0 1045.6 423.1 1044.4 429.4 1048.4 431.2 1053.3 432.6 1057.9 426.3M1156.7 335.0 1154.0 334.7 1148.0 336.2 1143.6 336.3 1144.4 340.2 1147.7 344.1M1153.3 336.6 1151.6 341.4 1159.6 340.4 1164.9 340.4M1143.3 390.6 1148.6 388.2 1152.6 394.7 1148.6 394.6 1144.5 394.3 1147.6 397.4 1146.4 394.3M1128.9 383.0 1121.2 380.9 1117.1 375.6 1119.4 376.7 1117.8 373.3 1120.1 372.0 1124.6 374.2M1139.9 393.7 1142.8 396.0 1136.1 394.9 1132.3 396.4 1129.5 396.2" stroke="#f5831b" stroke-width="7.800000000000001"/>
<path d="M1184.4 325.8 1178.5 327.8 1171.7 327.5 1168.7 330.3 1161.5 331.4 1159.0 336.6 1156.9 337.2M1151.5 334.6 1156.3 338.0 1158.4 341.0 1159.3 350.7 1159.1 353.4M1149.4 337.8 1148.3 341.7M1134.3 356.2 1136.3 359.5 1140.7 361.2 1137.4 368.6 1138.5 373.7 1140.5 380.0M1094.0 360.8 1097.3 360.4 1097.5 361.7 1101.8 359.0 1103.3 353.4M1084.6 397.5 1072.6 394.4 1072.1 394.8 1070.2 392.8M1055.0 431.9 1060.5 431.5 1064.7 434.2 1069.5 431.5M1066.0 388.9 1071.2 388.2 1072.7 390.4 1071.9 385.9 1068.9 387.2 1070.0 389.7 1070.2 392.3 1067.7 395.5 1064.3 395.9 1059.6 396.3 1054.0 393.5 1050.5 397.4 1051.5 400.3M1060.1 396.3 1062.2 401.6M1067.5 397.4 1073.7 395.7 1075.8 393.0 1079.6 390.5 1080.1 387.6 1076.3 391.1 1075.5 398.0 1071.6 397.1 1066.8 394.6 1065.1 395.7 1064.4 400.6 1061.2 396.4 1060.5 391.7M1051.8 386.5 1054.5 388.8 1051.4 390.5 1053.1 395.2 1046.9 398.1 1048.5 395.3 1051.5 396.1 1054.9 393.2 1053.7 399.1 1057.4 398.1 1059.0 401.1 1057.0 396.8M1050.5 397.0 1054.9 395.1 1057.2 397.8 1059.9 399.0 1059.6 392.8 1062.1 393.1 1064.5 389.2 1064.8 385.8 1067.6 384.4 1070.2 384.4 1069.1 388.2 1063.8 384.6 1058.7 388.3M1049.4 358.2 1057.9 356.1 1055.5 352.2 1049.8 351.3 1047.1 352.2 1045.9 360.7 1048.6 359.2M1074.4 353.7 1073.9 348.8 1075.3 345.2 1074.6 340.8 1070.6 342.8 1073.1 351.8 1075.3 356.6M1067.1 351.2 1062.5 353.5 1058.1 351.0 1063.1 348.9 1062.9 340.3 1063.3 344.7M1056.8 420.3 1049.7 423.0 1045.6 423.1 1044.4 429.4 1048.4 431.2 1053.3 432.6 1057.9 426.3M1156.7 335.0 1154.0 334.7 1148.0 336.2 1143.6 336.3 1144.4 340.2 1147.7 344.1M1153.3 336.6 1151.6 341.4 1159.6 340.4 1164.9 340.4M1143.3 390.6 1148.6 388.2 1152.6 394.7 1148.6 394.6 1144.5 394.3 1147.6 397.4 1146.4 394.3M1128.9 383.0 1121.2 380.9 1117.1 375.6 1119.4 376.7 1117.8 373.3 1120.1 372.0 1124.6 374.2M1139.9 393.7 1142.8 396.0 1136.1 394.9 1132.3 396.4 1129.5 396.2" stroke="#f5831b" stroke-width="10.4" stroke-dasharray="0 6.5"/>
<path d="M1172.0 325.0 1176.1 323.6 1180.0 320.3 1180.7 318.3 1187.3 315.8 1190.9 316.4 1193.4 316.2 1190.8 321.2 1187.4 320.4 1186.1 322.7 1186.5 325.7 1184.4 325.8M1148.3 341.7 1143.6 349.7 1145.2 351.3 1145.2 350.1 1142.2 354.8M1140.5 380.0 1142.4 381.7 1148.8 381.1 1152.1 379.0 1154.9 384.6M1103.3 353.4 1097.6 356.9 1093.9 355.1M1097.7 395.5 1091.2 397.0 1090.5 397.0 1088.5 394.2 1084.6 397.5M1043.8 433.2 1047.6 433.5 1053.2 434.9 1055.0 431.9M1051.5 400.3 1053.0 395.8 1050.5 393.3 1047.3 393.8 1043.4 393.4 1043.7 388.5 1049.8 386.7 1052.9 386.0 1056.0 387.4 1056.5 393.2 1056.9 396.0 1053.6 393.4 1054.0 391.1M1062.2 401.6 1061.5 398.9 1057.3 395.6 1058.0 390.5 1062.6 390.5 1060.4 385.2 1064.5 386.7 1069.1 391.5 1070.1 389.0 1064.9 391.8 1066.5 398.4M1060.5 391.7 1063.6 390.8 1065.8 384.1 1065.1 388.9 1063.8 391.4 1062.5 393.5M1057.0 396.8 1059.7 394.0 1063.6 395.0 1067.5 399.7 1065.2 396.8 1065.8 393.4 1066.8 388.2 1068.7 385.0 1071.2 385.3M1058.7 388.3 1056.5 388.1 1053.0 384.0 1056.9 385.2 1060.0 385.9 1063.2 389.9M1048.6 359.2 1051.2 360.9 1054.3 357.6 1056.8 361.0 1050.0 367.2 1056.8 363.8 1052.1 356.6M1075.3 356.6 1078.8 357.8 1072.3 359.4 1071.4 366.0 1064.8 361.2 1064.8 354.2M1063.3 344.7 1060.9 351.5 1052.4 354.8 1058.0 362.4 1061.2 360.2 1065.4 357.6M1057.9 426.3 1054.5 425.9 1049.0 427.6 1046.8 423.7 1045.4 419.6 1040.3 420.7M1027.7 421.3 1027.9 423.8 1031.0 426.6 1037.5 428.1 1033.9 423.1 1038.1 416.8M1105.1 349.5 1098.6 350.2M1147.7 344.1 1152.6 341.0 1157.5 337.5 1159.6 335.4 1158.4 332.3 1160.9 330.7 1163.7 337.4 1169.4 335.9 1174.5 338.6 1178.4 336.6 1175.8 330.3 1172.6 324.1M1164.9 340.4 1171.2 341.1 1162.9 340.1 1160.2 338.9 1162.4 337.6 1167.6 336.2 1173.3 336.7 1174.3 341.2 1172.6 338.4 1175.6 331.1 1178.1 333.4 1174.3 334.1 1166.3 332.2 1166.5 336.7M1146.4 394.3 1145.6 387.8 1139.9 386.2 1133.3 390.2M1124.6 374.2 1131.2 379.3 1134.1 382.4 1135.6 387.5 1137.7 389.9 1144.2 390.6M1129.5 396.2 1128.0 394.0 1122.6 396.0 1127.1 397.0 1133.0 399.3 1135.3 393.2" stroke="#f6941b" stroke-width="7.800000000000001"/>
<path d="M1172.0 325.0 1176.1 323.6 1180.0 320.3 1180.7 318.3 1187.3 315.8 1190.9 316.4 1193.4 316.2 1190.8 321.2 1187.4 320.4 1186.1 322.7 1186.5 325.7 1184.4 325.8M1148.3 341.7 1143.6 349.7 1145.2 351.3 1145.2 350.1 1142.2 354.8M1140.5 380.0 1142.4 381.7 1148.8 381.1 1152.1 379.0 1154.9 384.6M1103.3 353.4 1097.6 356.9 1093.9 355.1M1097.7 395.5 1091.2 397.0 1090.5 397.0 1088.5 394.2 1084.6 397.5M1043.8 433.2 1047.6 433.5 1053.2 434.9 1055.0 431.9M1051.5 400.3 1053.0 395.8 1050.5 393.3 1047.3 393.8 1043.4 393.4 1043.7 388.5 1049.8 386.7 1052.9 386.0 1056.0 387.4 1056.5 393.2 1056.9 396.0 1053.6 393.4 1054.0 391.1M1062.2 401.6 1061.5 398.9 1057.3 395.6 1058.0 390.5 1062.6 390.5 1060.4 385.2 1064.5 386.7 1069.1 391.5 1070.1 389.0 1064.9 391.8 1066.5 398.4M1060.5 391.7 1063.6 390.8 1065.8 384.1 1065.1 388.9 1063.8 391.4 1062.5 393.5M1057.0 396.8 1059.7 394.0 1063.6 395.0 1067.5 399.7 1065.2 396.8 1065.8 393.4 1066.8 388.2 1068.7 385.0 1071.2 385.3M1058.7 388.3 1056.5 388.1 1053.0 384.0 1056.9 385.2 1060.0 385.9 1063.2 389.9M1048.6 359.2 1051.2 360.9 1054.3 357.6 1056.8 361.0 1050.0 367.2 1056.8 363.8 1052.1 356.6M1075.3 356.6 1078.8 357.8 1072.3 359.4 1071.4 366.0 1064.8 361.2 1064.8 354.2M1063.3 344.7 1060.9 351.5 1052.4 354.8 1058.0 362.4 1061.2 360.2 1065.4 357.6M1057.9 426.3 1054.5 425.9 1049.0 427.6 1046.8 423.7 1045.4 419.6 1040.3 420.7M1027.7 421.3 1027.9 423.8 1031.0 426.6 1037.5 428.1 1033.9 423.1 1038.1 416.8M1105.1 349.5 1098.6 350.2M1147.7 344.1 1152.6 341.0 1157.5 337.5 1159.6 335.4 1158.4 332.3 1160.9 330.7 1163.7 337.4 1169.4 335.9 1174.5 338.6 1178.4 336.6 1175.8 330.3 1172.6 324.1M1164.9 340.4 1171.2 341.1 1162.9 340.1 1160.2 338.9 1162.4 337.6 1167.6 336.2 1173.3 336.7 1174.3 341.2 1172.6 338.4 1175.6 331.1 1178.1 333.4 1174.3 334.1 1166.3 332.2 1166.5 336.7M1146.4 394.3 1145.6 387.8 1139.9 386.2 1133.3 390.2M1124.6 374.2 1131.2 379.3 1134.1 382.4 1135.6 387.5 1137.7 389.9 1144.2 390.6M1129.5 396.2 1128.0 394.0 1122.6 396.0 1127.1 397.0 1133.0 399.3 1135.3 393.2" stroke="#f6941b" stroke-width="10.4" stroke-dasharray="0 6.5"/>
<path d="M1153.3 324.5 1155.5 328.4 1151.2 332.2 1149.4 329.6 1142.6 332.9 1145.7 335.3 1152.5 336.3 1158.3 337.9 1158.5 332.1 1161.7 331.2 1163.8 330.1 1172.0 325.0M1142.2 354.8 1136.6 362.4 1133.2 368.6 1134.8 370.1M1154.9 384.6 1158.7 382.3M1093.9 355.1 1090.7 350.8 1095.2 344.3 1097.6 337.9M1106.9 395.2 1106.2 394.9 1104.4 395.3 1097.7 395.5M1045.3 439.9 1043.8 433.2M1054.0 391.1 1054.0 391.1M1066.5 398.4 1070.7 401.0 1071.6 394.7 1076.4 393.1 1077.4 389.0 1072.2 391.2 1069.0 387.7 1063.1 387.9 1058.4 383.7 1056.1 385.5 1053.4 387.7 1048.8 385.9 1050.2 387.9M1052.1 356.6 1055.4 353.1 1053.9 358.7 1062.7 355.8 1057.0 349.4M1064.8 354.2 1070.8 354.8 1074.2 356.1 1071.8 351.9 1069.0 350.4 1067.2 346.0 1068.7 340.2M1065.4 357.6 1069.5 351.2 1070.7 347.4M1040.3 420.7 1034.6 425.7 1039.7 422.3 1042.9 415.8 1047.6 419.7 1048.2 423.8M1032.8 427.5 1030.8 425.4 1025.0 424.6M1038.1 416.8 1031.5 420.6 1031.7 424.0 1032.5 430.9 1038.7 432.7M1098.6 350.2 1097.3 348.1 1098.9 352.3 1106.5 352.6 1110.0 353.2 1117.2 351.9 1121.1 348.4M1172.6 324.1 1172.6 324.1M1166.5 336.7 1166.5 336.7M1144.2 390.6 1147.1 392.1 1150.0 393.1M1135.3 393.2 1134.6 384.9 1139.3 384.0 1138.8 379.7 1138.9 384.4 1134.2 383.9" stroke="#f7a51a" stroke-width="7.800000000000001"/>
<path d="M1153.3 324.5 1155.5 328.4 1151.2 332.2 1149.4 329.6 1142.6 332.9 1145.7 335.3 1152.5 336.3 1158.3 337.9 1158.5 332.1 1161.7 331.2 1163.8 330.1 1172.0 325.0M1142.2 354.8 1136.6 362.4 1133.2 368.6 1134.8 370.1M1154.9 384.6 1158.7 382.3M1093.9 355.1 1090.7 350.8 1095.2 344.3 1097.6 337.9M1106.9 395.2 1106.2 394.9 1104.4 395.3 1097.7 395.5M1045.3 439.9 1043.8 433.2M1054.0 391.1 1054.0 391.1M1066.5 398.4 1070.7 401.0 1071.6 394.7 1076.4 393.1 1077.4 389.0 1072.2 391.2 1069.0 387.7 1063.1 387.9 1058.4 383.7 1056.1 385.5 1053.4 387.7 1048.8 385.9 1050.2 387.9M1052.1 356.6 1055.4 353.1 1053.9 358.7 1062.7 355.8 1057.0 349.4M1064.8 354.2 1070.8 354.8 1074.2 356.1 1071.8 351.9 1069.0 350.4 1067.2 346.0 1068.7 340.2M1065.4 357.6 1069.5 351.2 1070.7 347.4M1040.3 420.7 1034.6 425.7 1039.7 422.3 1042.9 415.8 1047.6 419.7 1048.2 423.8M1032.8 427.5 1030.8 425.4 1025.0 424.6M1038.1 416.8 1031.5 420.6 1031.7 424.0 1032.5 430.9 1038.7 432.7M1098.6 350.2 1097.3 348.1 1098.9 352.3 1106.5 352.6 1110.0 353.2 1117.2 351.9 1121.1 348.4M1172.6 324.1 1172.6 324.1M1166.5 336.7 1166.5 336.7M1144.2 390.6 1147.1 392.1 1150.0 393.1M1135.3 393.2 1134.6 384.9 1139.3 384.0 1138.8 379.7 1138.9 384.4 1134.2 383.9" stroke="#f7a51a" stroke-width="10.4" stroke-dasharray="0 6.5"/>
<path d="M1129.6 317.8 1123.9 321.3 1128.0 316.2 1131.2 318.2 1133.4 321.1 1138.9 322.9 1141.6 324.5 1152.1 319.5 1153.3 324.5M1134.8 370.1 1136.2 371.8 1143.9 375.8 1143.3 373.7 1142.5 380.0M1097.6 337.9 1105.8 335.1M1030.9 434.4 1037.4 438.4 1045.3 439.9M1096.3 394.1 1097.1 399.6 1104.2 399.9M1050.2 387.9 1055.9 390.4 1054.3 392.9 1057.6 390.4 1059.5 389.3 1063.5 386.6 1058.1 388.8 1053.7 390.3M1057.0 349.4 1053.9 349.9 1050.9 357.0 1058.8 361.9 1059.9 365.4M1068.7 340.2 1071.7 342.3 1077.0 342.0 1078.3 345.8 1079.7 355.4M1048.2 423.8 1048.7 418.6 1042.6 416.9 1035.0 417.5M1025.0 424.6 1022.0 428.5 1026.0 431.1 1029.0 431.9 1033.2 435.7 1037.1 435.8 1040.5 433.9M1038.7 432.7 1040.6 428.4 1041.6 421.8 1041.2 424.4 1043.1 429.8 1050.2 428.7M1121.1 348.4 1120.0 345.3 1123.0 338.2 1119.2 333.5 1120.5 330.0 1126.5 325.1 1125.4 328.4M1120.0 334.0 1122.2 328.9 1119.8 329.9 1119.3 335.7 1116.4 342.1M1122.2 351.0 1115.4 355.2 1116.0 351.8 1116.3 356.3 1122.9 353.9 1120.3 352.7 1120.4 347.4M1134.2 383.9 1126.8 387.8 1124.4 388.1 1127.4 390.7 1129.9 385.2" stroke="#f8b61a" stroke-width="7.800000000000001"/>
<path d="M1129.6 317.8 1123.9 321.3 1128.0 316.2 1131.2 318.2 1133.4 321.1 1138.9 322.9 1141.6 324.5 1152.1 319.5 1153.3 324.5M1134.8 370.1 1136.2 371.8 1143.9 375.8 1143.3 373.7 1142.5 380.0M1097.6 337.9 1105.8 335.1M1030.9 434.4 1037.4 438.4 1045.3 439.9M1096.3 394.1 1097.1 399.6 1104.2 399.9M1050.2 387.9 1055.9 390.4 1054.3 392.9 1057.6 390.4 1059.5 389.3 1063.5 386.6 1058.1 388.8 1053.7 390.3M1057.0 349.4 1053.9 349.9 1050.9 357.0 1058.8 361.9 1059.9 365.4M1068.7 340.2 1071.7 342.3 1077.0 342.0 1078.3 345.8 1079.7 355.4M1048.2 423.8 1048.7 418.6 1042.6 416.9 1035.0 417.5M1025.0 424.6 1022.0 428.5 1026.0 431.1 1029.0 431.9 1033.2 435.7 1037.1 435.8 1040.5 433.9M1038.7 432.7 1040.6 428.4 1041.6 421.8 1041.2 424.4 1043.1 429.8 1050.2 428.7M1121.1 348.4 1120.0 345.3 1123.0 338.2 1119.2 333.5 1120.5 330.0 1126.5 325.1 1125.4 328.4M1120.0 334.0 1122.2 328.9 1119.8 329.9 1119.3 335.7 1116.4 342.1M1122.2 351.0 1115.4 355.2 1116.0 351.8 1116.3 356.3 1122.9 353.9 1120.3 352.7 1120.4 347.4M1134.2 383.9 1126.8 387.8 1124.4 388.1 1127.4 390.7 1129.9 385.2" stroke="#f8b61a" stroke-width="10.4" stroke-dasharray="0 6.5"/>
<path d="M1094.1 322.9 1095.6 322.7 1099.6 319.7 1103.6 315.8 1109.0 317.6 1110.4 318.2 1118.3 318.2 1121.3 316.9 1127.0 316.1 1128.8 313.9 1127.4 316.0 1130.2 313.8 1129.6 317.8M1142.5 380.0 1142.7 383.4 1145.3 389.2 1152.3 392.6 1143.1 389.2M1105.8 335.1 1107.8 334.3 1110.8 335.1 1115.1 335.3 1113.3 332.2 1115.3 330.7M1033.0 423.6 1035.8 427.5 1030.9 434.4M1104.2 399.9 1106.1 407.5 1099.5 408.1 1095.5 409.1M1040.5 433.9 1038.4 430.8 1035.6 425.6 1039.4 421.1 1042.2 421.4 1047.0 420.0M1050.2 428.7 1044.9 425.0 1044.4 420.0 1046.6 417.8 1045.0 415.8 1042.8 418.5 1044.9 424.7M1125.4 328.4 1128.8 333.1 1126.6 337.3 1124.2 342.7 1122.0 346.5 1114.3 343.4 1112.1 341.9M1116.4 342.1 1121.5 338.5 1122.0 334.4 1116.9 329.4 1123.2 328.0 1120.1 325.2 1124.6 328.2M1120.4 347.4 1123.3 344.8 1123.9 342.4 1128.5 337.5 1132.2 337.8 1137.0 334.2 1144.5 333.3 1138.9 337.0M1129.9 385.2 1129.0 381.7 1130.2 378.9" stroke="#f9c71a" stroke-width="7.800000000000001"/>
<path d="M1094.1 322.9 1095.6 322.7 1099.6 319.7 1103.6 315.8 1109.0 317.6 1110.4 318.2 1118.3 318.2 1121.3 316.9 1127.0 316.1 1128.8 313.9 1127.4 316.0 1130.2 313.8 1129.6 317.8M1142.5 380.0 1142.7 383.4 1145.3 389.2 1152.3 392.6 1143.1 389.2M1105.8 335.1 1107.8 334.3 1110.8 335.1 1115.1 335.3 1113.3 332.2 1115.3 330.7M1033.0 423.6 1035.8 427.5 1030.9 434.4M1104.2 399.9 1106.1 407.5 1099.5 408.1 1095.5 409.1M1040.5 433.9 1038.4 430.8 1035.6 425.6 1039.4 421.1 1042.2 421.4 1047.0 420.0M1050.2 428.7 1044.9 425.0 1044.4 420.0 1046.6 417.8 1045.0 415.8 1042.8 418.5 1044.9 424.7M1125.4 328.4 1128.8 333.1 1126.6 337.3 1124.2 342.7 1122.0 346.5 1114.3 343.4 1112.1 341.9M1116.4 342.1 1121.5 338.5 1122.0 334.4 1116.9 329.4 1123.2 328.0 1120.1 325.2 1124.6 328.2M1120.4 347.4 1123.3 344.8 1123.9 342.4 1128.5 337.5 1132.2 337.8 1137.0 334.2 1144.5 333.3 1138.9 337.0M1129.9 385.2 1129.0 381.7 1130.2 378.9" stroke="#f9c71a" stroke-width="10.4" stroke-dasharray="0 6.5"/>
<path d="M1143.1 389.2 1141.4 393.3 1143.3 394.2 1138.0 399.4M1115.3 330.7 1118.6 332.1 1113.2 335.8 1115.8 341.3M1026.3 411.0 1034.3 415.9 1033.0 423.6M1095.5 409.1 1095.1 405.8 1091.4 403.1 1084.8 402.9 1078.5 400.8M1047.0 420.0 1054.6 419.9 1049.7 424.8 1053.7 419.4 1053.4 422.4M1044.9 424.7 1044.9 424.7M1112.1 341.9 1112.8 338.0M1124.6 328.2 1130.2 327.1 1125.7 329.0 1121.4 328.8 1121.2 324.2 1120.7 328.0 1117.6 328.8M1138.9 337.0 1137.6 334.4 1132.2 329.6 1132.2 326.4 1129.6 324.1 1131.3 330.1 1137.5 335.0" stroke="#fad819" stroke-width="7.800000000000001"/>
<path d="M1143.1 389.2 1141.4 393.3 1143.3 394.2 1138.0 399.4M1115.3 330.7 1118.6 332.1 1113.2 335.8 1115.8 341.3M1026.3 411.0 1034.3 415.9 1033.0 423.6M1095.5 409.1 1095.1 405.8 1091.4 403.1 1084.8 402.9 1078.5 400.8M1047.0 420.0 1054.6 419.9 1049.7 424.8 1053.7 419.4 1053.4 422.4M1044.9 424.7 1044.9 424.7M1112.1 341.9 1112.8 338.0M1124.6 328.2 1130.2 327.1 1125.7 329.0 1121.4 328.8 1121.2 324.2 1120.7 328.0 1117.6 328.8M1138.9 337.0 1137.6 334.4 1132.2 329.6 1132.2 326.4 1129.6 324.1 1131.3 330.1 1137.5 335.0" stroke="#fad819" stroke-width="10.4" stroke-dasharray="0 6.5"/>
<path d="M1138.0 399.4 1134.6 399.9 1131.3 398.1 1128.1 394.4 1123.3 397.1 1115.3 398.4M1115.8 341.3 1118.7 344.7 1126.9 345.6M1017.6 417.0 1018.2 415.8 1025.8 413.1 1026.3 411.0M1078.5 400.8 1078.5 400.8M1053.4 422.4 1051.1 424.9 1054.2 432.4 1056.2 429.9M1117.6 328.8 1121.3 325.3 1123.1 330.0 1125.7 332.3 1125.0 336.5M1137.5 335.0 1141.5 340.7" stroke="#fbe919" stroke-width="7.800000000000001"/>
<path d="M1138.0 399.4 1134.6 399.9 1131.3 398.1 1128.1 394.4 1123.3 397.1 1115.3 398.4M1115.8 341.3 1118.7 344.7 1126.9 345.6M1017.6 417.0 1018.2 415.8 1025.8 413.1 1026.3 411.0M1078.5 400.8 1078.5 400.8M1053.4 422.4 1051.1 424.9 1054.2 432.4 1056.2 429.9M1117.6 328.8 1121.3 325.3 1123.1 330.0 1125.7 332.3 1125.0 336.5M1137.5 335.0 1141.5 340.7" stroke="#fbe919" stroke-width="10.4" stroke-dasharray="0 6.5"/>
<path d="M1115.3 398.4 1112.2 400.4M1126.9 345.6 1124.5 350.4M1013.4 426.0 1014.8 420.0 1017.6 417.0" stroke="#fcfa19" stroke-width="7.800000000000001"/>
<path d="M1115.3 398.4 1112.2 400.4M1126.9 345.6 1124.5 350.4M1013.4 426.0 1014.8 420.0 1017.6 417.0" stroke="#fcfa19" stroke-width="10.4" stroke-dasharray="0 6.5"/>
<path d="M1094.1 322.9 1095.6 322.7 1099.6 319.7 1103.6 315.8 1109.0 317.6 1110.4 318.2 1118.3 318.2 1121.3 316.9 1127.0 316.1 1128.8 313.9 1127.4 316.0 1130.2 313.8 1129.6 317.8 1123.9 321.3 1128.0 316.2 1131.2 318.2 1133.4 321.1 1138.9 322.9 1141.6 324.5 1152.1 319.5 1153.3 324.5 1155.5 328.4 1151.2 332.2 1149.4 329.6 1142.6 332.9 1145.7 335.3 1152.5 336.3 1158.3 337.9 1158.5 332.1 1161.7 331.2 1163.8 330.1 1172.0 325.0 1176.1 323.6 1180.0 320.3 1180.7 318.3 1187.3 315.8 1190.9 316.4 1193.4 316.2 1190.8 321.2 1187.4 320.4 1186.1 322.7 1186.5 325.7 1184.4 325.8 1178.5 327.8 1171.7 327.5 1168.7 330.3 1161.5 331.4 1159.0 336.6 1156.9 337.2M1151.5 334.6 1156.3 338.0 1158.4 341.0 1159.3 350.7 1159.1 353.4 1157.5 355.6 1155.6 361.8 1152.8 363.5 1149.8 368.3 1150.0 373.8 1146.9 374.9 1148.3 376.8 1150.4 380.3 1153.2 379.0 1155.1 380.6 1159.8 382.5 1165.4 380.0 1168.0 378.6 1171.0 381.2 1171.0 383.7 1177.5 382.3 1179.8 386.2 1183.5 395.2 1183.4 396.5 1178.6 399.6M1149.4 337.8 1148.3 341.7 1143.6 349.7 1145.2 351.3 1145.2 350.1 1142.2 354.8 1136.6 362.4 1133.2 368.6 1134.8 370.1 1136.2 371.8 1143.9 375.8 1143.3 373.7 1142.5 380.0 1142.7 383.4 1145.3 389.2 1152.3 392.6 1143.1 389.2 1141.4 393.3 1143.3 394.2 1138.0 399.4 1134.6 399.9 1131.3 398.1 1128.1 394.4 1123.3 397.1 1115.3 398.4 1112.2 400.4M1114.3 363.3 1118.6 364.6 1125.6 364.4 1131.9 366.4 1133.6 369.6 1134.4 368.0 1134.0 362.9 1132.5 362.0 1134.3 356.2 1136.3 359.5 1140.7 361.2 1137.4 368.6 1138.5 373.7 1140.5 380.0 1142.4 381.7 1148.8 381.1 1152.1 379.0 1154.9 384.6 1158.7 382.3M1055.9 360.1 1062.1 360.3 1066.5 359.3 1065.9 354.9 1067.9 355.9 1070.1 354.6 1073.0 348.0 1075.1 343.3 1077.4 341.2 1082.9 343.4 1084.2 345.6 1089.0 349.8 1091.1 354.8 1094.0 360.8 1097.3 360.4 1097.5 361.7 1101.8 359.0 1103.3 353.4 1097.6 356.9 1093.9 355.1 1090.7 350.8 1095.2 344.3 1097.6 337.9 1105.8 335.1 1107.8 334.3 1110.8 335.1 1115.1 335.3 1113.3 332.2 1115.3 330.7 1118.6 332.1 1113.2 335.8 1115.8 341.3 1118.7 344.7 1126.9 345.6 1124.5 350.4M1057.0 369.7 1049.2 374.2 1044.3 373.0 1042.7 374.1 1035.8 378.3 1035.1 380.1 1031.1 381.2 1030.5 383.2 1026.5 382.7 1018.4 382.5 1016.9 383.9 1011.3 383.1 1010.4 389.4 1008.7 391.2 1011.0 394.9 1019.1 395.6 1020.8 395.8 1024.0 396.6 1028.2 402.2 1032.9 401.8 1037.9 402.0M1106.9 395.2 1106.2 394.9 1104.4 395.3 1097.7 395.5 1091.2 397.0 1090.5 397.0 1088.5 394.2 1084.6 397.5 1072.6 394.4 1072.1 394.8 1070.2 392.8 1065.8 390.2 1061.1 392.5 1052.4 391.7 1051.3 391.1 1049.4 391.9 1048.0 393.7M1013.4 426.0 1014.8 420.0 1017.6 417.0 1018.2 415.8 1025.8 413.1 1026.3 411.0 1034.3 415.9 1033.0 423.6 1035.8 427.5 1030.9 434.4 1037.4 438.4 1045.3 439.9 1043.8 433.2 1047.6 433.5 1053.2 434.9 1055.0 431.9 1060.5 431.5 1064.7 434.2 1069.5 431.5 1073.7 432.2 1066.5 427.7 1064.8 427.7 1064.8 428.4 1060.3 425.3 1053.2 419.0 1050.3 417.3 1051.3 416.0M1096.3 394.1 1097.1 399.6 1104.2 399.9 1106.1 407.5 1099.5 408.1 1095.5 409.1 1095.1 405.8 1091.4 403.1 1084.8 402.9 1078.5 400.8M1080.3 364.4 1082.8 368.9 1089.6 373.2 1092.5 370.4 1097.6 364.2 1099.0 364.8 1102.6 369.0 1106.0 372.6 1105.8 364.7 1106.8 360.2M1071.5 398.4 1069.7 399.6 1064.6 397.8 1058.1 397.1 1058.8 392.1 1059.3 387.9 1066.0 388.9 1071.2 388.2 1072.7 390.4 1071.9 385.9 1068.9 387.2 1070.0 389.7 1070.2 392.3 1067.7 395.5 1064.3 395.9 1059.6 396.3 1054.0 393.5 1050.5 397.4 1051.5 400.3 1053.0 395.8 1050.5 393.3 1047.3 393.8 1043.4 393.4 1043.7 388.5 1049.8 386.7 1052.9 386.0 1056.0 387.4 1056.5 393.2 1056.9 396.0 1053.6 393.4 1054.0 391.1M1060.1 396.3 1062.2 401.6 1061.5 398.9 1057.3 395.6 1058.0 390.5 1062.6 390.5 1060.4 385.2 1064.5 386.7 1069.1 391.5 1070.1 389.0 1064.9 391.8 1066.5 398.4 1070.7 401.0 1071.6 394.7 1076.4 393.1 1077.4 389.0 1072.2 391.2 1069.0 387.7 1063.1 387.9 1058.4 383.7 1056.1 385.5 1053.4 387.7 1048.8 385.9 1050.2 387.9 1055.9 390.4 1054.3 392.9 1057.6 390.4 1059.5 389.3 1063.5 386.6 1058.1 388.8 1053.7 390.3M1062.5 393.2 1057.7 392.1 1055.7 389.0 1060.1 387.7 1061.6 385.7 1059.8 390.1 1066.0 387.2 1066.8 391.6 1063.4 397.7 1065.4 392.0 1070.6 387.5 1076.5 389.2 1070.2 391.0 1067.5 397.4 1073.7 395.7 1075.8 393.0 1079.6 390.5 1080.1 387.6 1076.3 391.1 1075.5 398.0 1071.6 397.1 1066.8 394.6 1065.1 395.7 1064.4 400.6 1061.2 396.4 1060.5 391.7 1063.6 390.8 1065.8 384.1 1065.1 388.9 1063.8 391.4 1062.5 393.5M1062.7 397.5 1056.7 397.0 1051.1 395.3 1047.7 394.0 1044.9 393.7 1043.3 396.7 1041.5 392.1 1045.1 391.0 1045.2 388.7 1048.3 383.1 1052.3 384.3 1051.8 386.5 1054.5 388.8 1051.4 390.5 1053.1 395.2 1046.9 398.1 1048.5 395.3 1051.5 396.1 1054.9 393.2 1053.7 399.1 1057.4 398.1 1059.0 401.1 1057.0 396.8 1059.7 394.0 1063.6 395.0 1067.5 399.7 1065.2 396.8 1065.8 393.4 1066.8 388.2 1068.7 385.0 1071.2 385.3M1072.3 387.8 1066.5 389.9 1064.7 393.2 1062.8 399.7 1065.3 401.5 1063.5 398.8 1058.3 397.1 1055.5 395.4 1056.8 391.8 1054.8 389.3 1048.6 388.0 1046.1 388.9 1047.4 392.0 1050.5 397.0 1054.9 395.1 1057.2 397.8 1059.9 399.0 1059.6 392.8 1062.1 393.1 1064.5 389.2 1064.8 385.8 1067.6 384.4 1070.2 384.4 1069.1 388.2 1063.8 384.6 1058.7 388.3 1056.5 388.1 1053.0 384.0 1056.9 385.2 1060.0 385.9 1063.2 389.9M1063.5 374.4 1056.5 370.9 1053.9 368.0 1051.4 364.6 1048.7 363.1 1049.4 358.2 1057.9 356.1 1055.5 352.2 1049.8 351.3 1047.1 352.2 1045.9 360.7 1048.6 359.2 1051.2 360.9 1054.3 357.6 1056.8 361.0 1050.0 367.2 1056.8 363.8 1052.1 356.6 1055.4 353.1 1053.9 358.7 1062.7 355.8 1057.0 349.4 1053.9 349.9 1050.9 357.0 1058.8 361.9 1059.9 365.4M1059.4 367.1 1061.7 357.8 1068.6 359.9 1071.2 357.9 1074.4 353.7 1073.9 348.8 1075.3 345.2 1074.6 340.8 1070.6 342.8 1073.1 351.8 1075.3 356.6 1078.8 357.8 1072.3 359.4 1071.4 366.0 1064.8 361.2 1064.8 354.2 1070.8 354.8 1074.2 356.1 1071.8 351.9 1069.0 350.4 1067.2 346.0 1068.7 340.2 1071.7 342.3 1077.0 342.0 1078.3 345.8 1079.7 355.4M1061.7 367.6 1068.4 367.3 1070.9 372.6 1068.9 376.2 1075.3 369.5 1072.0 360.8 1064.8 362.5 1061.1 363.4 1058.9 361.4 1056.8 357.0 1055.9 361.0 1065.0 362.6 1064.3 358.7 1067.1 351.2 1062.5 353.5 1058.1 351.0 1063.1 348.9 1062.9 340.3 1063.3 344.7 1060.9 351.5 1052.4 354.8 1058.0 362.4 1061.2 360.2 1065.4 357.6 1069.5 351.2 1070.7 347.4M1063.4 419.3 1056.8 420.3 1049.7 423.0 1045.6 423.1 1044.4 429.4 1048.4 431.2 1053.3 432.6 1057.9 426.3 1054.5 425.9 1049.0 427.6 1046.8 423.7 1045.4 419.6 1040.3 420.7 1034.6 425.7 1039.7 422.3 1042.9 415.8 1047.6 419.7 1048.2 423.8 1048.7 418.6 1042.6 416.9 1035.0 417.5M1032.8 427.5 1030.8 425.4 1025.0 424.6 1022.0 428.5 1026.0 431.1 1029.0 431.9 1033.2 435.7 1037.1 435.8 1040.5 433.9 1038.4 430.8 1035.6 425.6 1039.4 421.1 1042.2 421.4 1047.0 420.0 1054.6 419.9 1049.7 424.8 1053.7 419.4 1053.4 422.4 1051.1 424.9 1054.2 432.4 1056.2 429.9M1027.7 421.3 1027.9 423.8 1031.0 426.6 1037.5 428.1 1033.9 423.1 1038.1 416.8 1031.5 420.6 1031.7 424.0 1032.5 430.9 1038.7 432.7 1040.6 428.4 1041.6 421.8 1041.2 424.4 1043.1 429.8 1050.2 428.7 1044.9 425.0 1044.4 420.0 1046.6 417.8 1045.0 415.8 1042.8 418.5 1044.9 424.7M1105.1 349.5 1098.6 350.2 1097.3 348.1 1098.9 352.3 1106.5 352.6 1110.0 353.2 1117.2 351.9 1121.1 348.4 1120.0 345.3 1123.0 338.2 1119.2 333.5 1120.5 330.0 1126.5 325.1 1125.4 328.4 1128.8 333.1 1126.6 337.3 1124.2 342.7 1122.0 346.5 1114.3 343.4 1112.1 341.9 1112.8 338.0M1120.0 334.0 1122.2 328.9 1119.8 329.9 1119.3 335.7 1116.4 342.1 1121.5 338.5 1122.0 334.4 1116.9 329.4 1123.2 328.0 1120.1 325.2 1124.6 328.2 1130.2 327.1 1125.7 329.0 1121.4 328.8 1121.2 324.2 1120.7 328.0 1117.6 328.8 1121.3 325.3 1123.1 330.0 1125.7 332.3 1125.0 336.5M1122.2 351.0 1115.4 355.2 1116.0 351.8 1116.3 356.3 1122.9 353.9 1120.3 352.7 1120.4 347.4 1123.3 344.8 1123.9 342.4 1128.5 337.5 1132.2 337.8 1137.0 334.2 1144.5 333.3 1138.9 337.0 1137.6 334.4 1132.2 329.6 1132.2 326.4 1129.6 324.1 1131.3 330.1 1137.5 335.0 1141.5 340.7M1156.7 335.0 1154.0 334.7 1148.0 336.2 1143.6 336.3 1144.4 340.2 1147.7 344.1 1152.6 341.0 1157.5 337.5 1159.6 335.4 1158.4 332.3 1160.9 330.7 1163.7 337.4 1169.4 335.9 1174.5 338.6 1178.4 336.6 1175.8 330.3 1172.6 324.1M1153.3 336.6 1151.6 341.4 1159.6 340.4 1164.9 340.4 1171.2 341.1 1162.9 340.1 1160.2 338.9 1162.4 337.6 1167.6 336.2 1173.3 336.7 1174.3 341.2 1172.6 338.4 1175.6 331.1 1178.1 333.4 1174.3 334.1 1166.3 332.2 1166.5 336.7M1138.6 377.1 1141.1 375.4 1146.1 371.6 1148.2 367.3 1146.3 372.7 1153.2 368.6 1156.4 373.8 1157.9 377.5 1155.1 381.7 1150.6 387.0 1144.4 387.0 1143.3 390.6 1148.6 388.2 1152.6 394.7 1148.6 394.6 1144.5 394.3 1147.6 397.4 1146.4 394.3 1145.6 387.8 1139.9 386.2 1133.3 390.2M1153.4 378.1 1158.5 372.4 1151.2 376.6 1148.2 377.3 1140.4 377.8 1137.1 378.1 1133.7 378.6 1128.9 383.0 1121.2 380.9 1117.1 375.6 1119.4 376.7 1117.8 373.3 1120.1 372.0 1124.6 374.2 1131.2 379.3 1134.1 382.4 1135.6 387.5 1137.7 389.9 1144.2 390.6 1147.1 392.1 1150.0 393.1M1139.9 393.7 1142.8 396.0 1136.1 394.9 1132.3 396.4 1129.5 396.2 1128.0 394.0 1122.6 396.0 1127.1 397.0 1133.0 399.3 1135.3 393.2 1134.6 384.9 1139.3 384.0 1138.8 379.7 1138.9 384.4 1134.2 383.9 1126.8 387.8 1124.4 388.1 1127.4 390.7 1129.9 385.2 1129.0 381.7 1130.2 378.9M1037.2 401.9 1042.4 401.4 1044.2 397.1 1042.6 396.0 1037.6 393.2 1033.9 396.5 1028.8 395.3 1023.2 394.2 1022.1 398.0 1017.5 397.5 1016.8 401.0 1021.3 403.5 1026.0 401.6 1028.7 399.7 1033.3 402.8 1037.8 402.0M1023.0 389.0 1021.0 384.8 1024.9 389.4 1024.3 395.5 1030.4 394.7 1036.5 396.8 1039.7 399.0 1045.6 400.8 1042.8 400.6 1039.1 400.3 1034.4 396.6 1032.6 398.2 1030.2 401.4 1028.2 397.7 1025.9 393.9 1026.3 391.2M1070.3 365.4 1074.2 362.8 1074.9 360.4 1078.4 359.7 1081.2 357.7 1085.9 352.9 1082.2 354.0 1076.0 354.2 1069.5 358.0 1062.4 358.8 1060.1 353.1 1063.6 356.7 1067.1 354.5 1069.9 358.4 1073.9 356.4 1070.6 353.1 1071.5 356.5 1079.7 355.7 1085.6 353.2M1060.0 370.4 1062.2 375.5 1061.7 368.6 1061.7 366.0 1056.9 364.2 1063.3 360.4 1070.9 362.0 1072.9 356.9 1078.8 352.5 1081.4 356.6 1075.8 358.0 1069.0 356.2 1065.5 355.0 1062.8 355.9 1059.9 356.1 1054.2 360.0 1050.8 365.6 1057.3 364.1 1063.7 362.9" stroke="#000" stroke-width="2.6"/>
</g>
<g clip-path="url(#clipc)" fill="none" stroke-linejoin="round" stroke-linecap="round">
<polygon points="1780,318 1800,312 1822,325 1828,345 1815,356 1795,352 1782,340" fill="#f02f1d" stroke="#f02f1d" stroke-width="8" stroke-linejoin="round"/>
<polygon points="1728,322 1745,318 1760,330 1762,350 1750,362 1735,358 1727,340" fill="#f02f1d" stroke="#f02f1d" stroke-width="8" stroke-linejoin="round"/>
<path d="M1646.0 354.7 1651.7 356.5 1654.8 362.2 1660.3 364.3 1667.5 369.1 1673.1 372.3M1711.5 333.4 1718.9 332.6 1725.9 329.8 1731.7 327.7 1737.8 326.2 1743.7 324.6 1749.8 325.0 1754.8 324.3 1759.8 323.3 1764.1 320.3 1771.5 319.5 1778.4 316.7 1785.1 316.3 1791.6 314.3 1797.0 318.0 1803.5 319.1 1809.5 316.7 1815.7 315.6 1821.5 313.1 1827.3 315.4 1833.4 316.7 1838.2 318.1 1843.2 319.2 1847.7 321.5 1853.8 321.2 1859.5 318.3 1865.7 319.1M1713.9 333.4 1720.0 335.1 1725.5 338.5 1731.8 339.4 1734.1 345.7 1737.8 351.3 1743.5 354.8 1749.8 357.3 1756.2 359.4 1761.7 363.3M1773.7 297.6 1773.4 303.6 1772.5 309.5 1775.6 315.4 1778.4 321.5 1781.7 324.8 1785.6 327.4 1791.6 328.3 1797.6 329.8 1803.3 332.3 1809.5 333.4 1811.1 338.8 1816.5 341.7 1818.0 347.2 1821.5 351.3 1825.7 355.1 1831.2 356.5 1835.8 359.7 1838.2 364.8 1840.6 370.0M1740.2 309.5 1741.9 314.1 1741.4 319.1 1741.3 324.5 1742.6 329.8M1674.3 428.3 1681.6 426.8 1689.1 425.8 1695.3 426.0 1701.3 424.6 1707.5 424.6 1713.6 425.8 1716.0 419.7M1708.7 395.2 1713.0 397.5 1716.0 401.3 1720.9 400.2 1725.8 401.3 1731.1 400.6 1736.2 399.7 1740.6 396.4M1711.1 403.8 1716.0 405.5 1721.3 406.0 1725.8 408.7 1728.3 416.0 1736.9 413.6 1738.1 420.9 1731.7 421.0 1725.8 423.4M1744.2 416.0 1747.7 420.7 1750.4 425.8M1752.8 412.4 1758.1 413.2 1762.6 416.0 1766.9 419.6 1772.5 419.7 1776.5 417.3 1781.0 416.0 1783.7 420.1M1740.6 352.3 1744.9 355.5M1664.5 389.1 1671.9 391.5 1670.9 384.1 1669.4 376.8M1713.2 333.2 1720.2 332.3 1727.2 331.4 1734.6 329.5 1736.0 324.7 1740.2 322.1 1738.2 317.5 1736.5 312.8 1731.8 309.0 1730.0 302.5M1727.2 338.8 1733.6 341.3 1738.3 346.2 1742.1 349.9 1745.8 353.7 1748.6 358.3 1751.4 363.0 1749.5 366.7 1755.1 368.5 1760.7 363.0 1759.0 356.4 1756.9 350.0 1754.2 345.2 1748.1 343.9 1745.8 338.8 1750.6 334.0 1753.2 327.6 1758.8 325.7 1764.4 323.9 1769.1 323.2 1773.7 322.1 1779.3 318.3 1786.0 316.2 1792.3 312.8 1797.8 314.6 1799.7 322.1 1804.9 325.2 1810.9 325.8 1815.7 327.2 1820.2 329.5 1824.8 335.1 1829.5 340.7 1827.4 346.4 1824.8 351.8 1818.3 353.7 1810.9 351.8 1807.4 346.7 1801.6 344.4 1795.7 340.9 1792.3 335.1 1787.9 331.8 1783.0 329.5 1777.4 325.8M1773.7 297.9 1780.8 296.1 1787.6 293.2 1792.1 290.9 1796.9 292.3M1773.7 297.9 1772.3 302.5 1771.8 307.2 1777.4 310.9 1783.0 309.0M1820.2 351.8 1824.7 355.7 1829.5 359.3 1835.0 363.0 1838.8 367.6 1846.2 372.3 1850.0 376.9M1711.4 367.6 1713.3 363.4 1715.1 359.3 1717.2 355.0 1720.7 351.8 1727.2 350.0M1820.2 316.5 1824.8 314.6 1829.5 316.5M1731.8 395.5 1738.9 396.9 1745.8 394.6 1741.1 400.2M1774.1 347.4 1779.4 343.5 1782.6 335.8 1777.1 338.3 1771.3 340.0 1762.4 346.9 1754.1 344.7 1752.2 348.3 1758.5 347.8 1755.8 336.9M1765.5 332.3 1764.8 338.5 1758.1 331.0 1756.9 323.4 1745.2 326.3 1749.0 327.8 1751.0 335.1 1756.9 344.8 1760.1 347.6 1772.0 348.1 1779.8 344.6M1769.5 403.3 1768.2 391.3 1761.1 395.6 1770.1 400.7 1766.6 398.0 1760.6 392.7" stroke="#f02e1d" stroke-width="7.800000000000001"/>
<path d="M1646.0 354.7 1651.7 356.5 1654.8 362.2 1660.3 364.3 1667.5 369.1 1673.1 372.3M1711.5 333.4 1718.9 332.6 1725.9 329.8 1731.7 327.7 1737.8 326.2 1743.7 324.6 1749.8 325.0 1754.8 324.3 1759.8 323.3 1764.1 320.3 1771.5 319.5 1778.4 316.7 1785.1 316.3 1791.6 314.3 1797.0 318.0 1803.5 319.1 1809.5 316.7 1815.7 315.6 1821.5 313.1 1827.3 315.4 1833.4 316.7 1838.2 318.1 1843.2 319.2 1847.7 321.5 1853.8 321.2 1859.5 318.3 1865.7 319.1M1713.9 333.4 1720.0 335.1 1725.5 338.5 1731.8 339.4 1734.1 345.7 1737.8 351.3 1743.5 354.8 1749.8 357.3 1756.2 359.4 1761.7 363.3M1773.7 297.6 1773.4 303.6 1772.5 309.5 1775.6 315.4 1778.4 321.5 1781.7 324.8 1785.6 327.4 1791.6 328.3 1797.6 329.8 1803.3 332.3 1809.5 333.4 1811.1 338.8 1816.5 341.7 1818.0 347.2 1821.5 351.3 1825.7 355.1 1831.2 356.5 1835.8 359.7 1838.2 364.8 1840.6 370.0M1740.2 309.5 1741.9 314.1 1741.4 319.1 1741.3 324.5 1742.6 329.8M1674.3 428.3 1681.6 426.8 1689.1 425.8 1695.3 426.0 1701.3 424.6 1707.5 424.6 1713.6 425.8 1716.0 419.7M1708.7 395.2 1713.0 397.5 1716.0 401.3 1720.9 400.2 1725.8 401.3 1731.1 400.6 1736.2 399.7 1740.6 396.4M1711.1 403.8 1716.0 405.5 1721.3 406.0 1725.8 408.7 1728.3 416.0 1736.9 413.6 1738.1 420.9 1731.7 421.0 1725.8 423.4M1744.2 416.0 1747.7 420.7 1750.4 425.8M1752.8 412.4 1758.1 413.2 1762.6 416.0 1766.9 419.6 1772.5 419.7 1776.5 417.3 1781.0 416.0 1783.7 420.1M1740.6 352.3 1744.9 355.5M1664.5 389.1 1671.9 391.5 1670.9 384.1 1669.4 376.8M1713.2 333.2 1720.2 332.3 1727.2 331.4 1734.6 329.5 1736.0 324.7 1740.2 322.1 1738.2 317.5 1736.5 312.8 1731.8 309.0 1730.0 302.5M1727.2 338.8 1733.6 341.3 1738.3 346.2 1742.1 349.9 1745.8 353.7 1748.6 358.3 1751.4 363.0 1749.5 366.7 1755.1 368.5 1760.7 363.0 1759.0 356.4 1756.9 350.0 1754.2 345.2 1748.1 343.9 1745.8 338.8 1750.6 334.0 1753.2 327.6 1758.8 325.7 1764.4 323.9 1769.1 323.2 1773.7 322.1 1779.3 318.3 1786.0 316.2 1792.3 312.8 1797.8 314.6 1799.7 322.1 1804.9 325.2 1810.9 325.8 1815.7 327.2 1820.2 329.5 1824.8 335.1 1829.5 340.7 1827.4 346.4 1824.8 351.8 1818.3 353.7 1810.9 351.8 1807.4 346.7 1801.6 344.4 1795.7 340.9 1792.3 335.1 1787.9 331.8 1783.0 329.5 1777.4 325.8M1773.7 297.9 1780.8 296.1 1787.6 293.2 1792.1 290.9 1796.9 292.3M1773.7 297.9 1772.3 302.5 1771.8 307.2 1777.4 310.9 1783.0 309.0M1820.2 351.8 1824.7 355.7 1829.5 359.3 1835.0 363.0 1838.8 367.6 1846.2 372.3 1850.0 376.9M1711.4 367.6 1713.3 363.4 1715.1 359.3 1717.2 355.0 1720.7 351.8 1727.2 350.0M1820.2 316.5 1824.8 314.6 1829.5 316.5M1731.8 395.5 1738.9 396.9 1745.8 394.6 1741.1 400.2M1774.1 347.4 1779.4 343.5 1782.6 335.8 1777.1 338.3 1771.3 340.0 1762.4 346.9 1754.1 344.7 1752.2 348.3 1758.5 347.8 1755.8 336.9M1765.5 332.3 1764.8 338.5 1758.1 331.0 1756.9 323.4 1745.2 326.3 1749.0 327.8 1751.0 335.1 1756.9 344.8 1760.1 347.6 1772.0 348.1 1779.8 344.6M1769.5 403.3 1768.2 391.3 1761.1 395.6 1770.1 400.7 1766.6 398.0 1760.6 392.7" stroke="#f02e1d" stroke-width="10.4" stroke-dasharray="0 6.5"/>
<path d="M1673.1 372.3 1677.1 377.4 1676.5 384.1 1672.3 389.4 1667.3 390.0 1662.7 388.2 1667.8 391.0 1673.5 391.8M1745.0 337.0 1747.1 342.6 1753.6 344.6M1750.4 425.8 1754.9 428.7 1757.7 433.2 1763.3 431.7 1768.8 433.2 1777.4 434.4M1783.7 420.1 1787.2 423.4 1791.8 425.9 1797.0 425.8 1801.2 430.2 1806.9 432.3 1811.7 435.7 1816.6 438.1M1824.0 354.7 1829.6 358.8 1836.2 360.8M1744.9 355.5 1745.8 361.4 1750.4 364.5 1756.5 358.4 1756.5 367.0M1755.8 336.9 1754.7 332.9 1759.4 325.9 1756.0 318.7 1761.1 311.4 1756.7 308.2 1764.6 317.1 1769.6 321.2M1779.8 344.6 1789.5 345.1 1791.2 335.6 1790.4 324.5 1793.8 321.0 1798.4 320.9 1793.9 320.9M1798.5 388.9 1790.2 394.1 1780.8 397.2 1776.9 397.0 1772.2 393.8 1763.8 396.6 1761.2 400.8 1770.1 393.0M1760.6 392.7 1763.2 384.6 1766.6 387.4 1767.8 398.9 1778.1 392.9 1782.7 404.3 1782.8 411.0 1778.9 410.3 1780.2 403.8 1785.2 394.8" stroke="#f13f1d" stroke-width="7.800000000000001"/>
<path d="M1673.1 372.3 1677.1 377.4 1676.5 384.1 1672.3 389.4 1667.3 390.0 1662.7 388.2 1667.8 391.0 1673.5 391.8M1745.0 337.0 1747.1 342.6 1753.6 344.6M1750.4 425.8 1754.9 428.7 1757.7 433.2 1763.3 431.7 1768.8 433.2 1777.4 434.4M1783.7 420.1 1787.2 423.4 1791.8 425.9 1797.0 425.8 1801.2 430.2 1806.9 432.3 1811.7 435.7 1816.6 438.1M1824.0 354.7 1829.6 358.8 1836.2 360.8M1744.9 355.5 1745.8 361.4 1750.4 364.5 1756.5 358.4 1756.5 367.0M1755.8 336.9 1754.7 332.9 1759.4 325.9 1756.0 318.7 1761.1 311.4 1756.7 308.2 1764.6 317.1 1769.6 321.2M1779.8 344.6 1789.5 345.1 1791.2 335.6 1790.4 324.5 1793.8 321.0 1798.4 320.9 1793.9 320.9M1798.5 388.9 1790.2 394.1 1780.8 397.2 1776.9 397.0 1772.2 393.8 1763.8 396.6 1761.2 400.8 1770.1 393.0M1760.6 392.7 1763.2 384.6 1766.6 387.4 1767.8 398.9 1778.1 392.9 1782.7 404.3 1782.8 411.0 1778.9 410.3 1780.2 403.8 1785.2 394.8" stroke="#f13f1d" stroke-width="10.4" stroke-dasharray="0 6.5"/>
<path d="M1673.5 391.8 1673.5 391.8M1677.3 366.4 1683.0 369.1 1687.9 373.4 1694.7 373.9 1700.0 377.4M1753.6 344.6 1755.7 350.1 1756.2 356.7 1756.9 363.3M1777.4 434.4 1782.4 434.9 1787.2 433.2 1791.5 436.8 1797.0 438.1 1801.1 440.4 1805.6 441.8M1816.6 438.1 1816.6 438.1M1836.2 360.8 1838.7 368.2 1843.9 370.8M1756.5 367.0 1756.5 367.0M1799.4 355.9 1805.6 355.8 1811.7 354.7M1770.1 393.0 1770.4 398.0 1764.2 401.6 1766.8 398.6 1763.5 394.1 1768.6 387.3 1778.4 390.1 1781.8 396.7M1785.2 394.8 1785.2 394.8" stroke="#f2501c" stroke-width="7.800000000000001"/>
<path d="M1673.5 391.8 1673.5 391.8M1677.3 366.4 1683.0 369.1 1687.9 373.4 1694.7 373.9 1700.0 377.4M1753.6 344.6 1755.7 350.1 1756.2 356.7 1756.9 363.3M1777.4 434.4 1782.4 434.9 1787.2 433.2 1791.5 436.8 1797.0 438.1 1801.1 440.4 1805.6 441.8M1816.6 438.1 1816.6 438.1M1836.2 360.8 1838.7 368.2 1843.9 370.8M1756.5 367.0 1756.5 367.0M1799.4 355.9 1805.6 355.8 1811.7 354.7M1770.1 393.0 1770.4 398.0 1764.2 401.6 1766.8 398.6 1763.5 394.1 1768.6 387.3 1778.4 390.1 1781.8 396.7M1785.2 394.8 1785.2 394.8" stroke="#f2501c" stroke-width="10.4" stroke-dasharray="0 6.5"/>
<path d="M1662.7 359.5 1666.1 363.6 1671.1 365.5 1677.3 366.4M1756.9 363.3 1756.9 363.3M1805.6 441.8 1814.1 441.8 1813.5 447.1 1812.3 452.4 1811.7 457.7 1817.8 460.2M1843.9 370.8 1848.5 374.3M1787.1 355.2 1793.4 357.8 1799.4 355.9M1713.6 364.5 1719.6 366.4 1725.8 367.0 1727.6 372.7M1644.0 331.0 1643.0 334.5 1640.2 337.3 1636.2 338.8 1631.8 338.8 1627.8 337.3 1625.0 334.5 1624.0 331.0 1625.0 327.5 1627.8 324.7 1631.8 323.2 1636.2 323.2 1640.2 324.7 1643.0 327.5" stroke="#f3611c" stroke-width="7.800000000000001"/>
<path d="M1662.7 359.5 1666.1 363.6 1671.1 365.5 1677.3 366.4M1756.9 363.3 1756.9 363.3M1805.6 441.8 1814.1 441.8 1813.5 447.1 1812.3 452.4 1811.7 457.7 1817.8 460.2M1843.9 370.8 1848.5 374.3M1787.1 355.2 1793.4 357.8 1799.4 355.9M1713.6 364.5 1719.6 366.4 1725.8 367.0 1727.6 372.7M1644.0 331.0 1643.0 334.5 1640.2 337.3 1636.2 338.8 1631.8 338.8 1627.8 337.3 1625.0 334.5 1624.0 331.0 1625.0 327.5 1627.8 324.7 1631.8 323.2 1636.2 323.2 1640.2 324.7 1643.0 327.5" stroke="#f3611c" stroke-width="10.4" stroke-dasharray="0 6.5"/>
<path d="M1640.7 335.2 1641.2 340.4 1634.9 340.7 1629.3 338.0 1624.5 330.8 1631.6 328.4 1638.8 333.2M1692.5 280.3 1695.0 285.4 1700.0 281.8M1807.1 255.7 1811.3 252.0 1817.1 250.8 1821.5 247.4 1821.5 240.2 1817.9 235.4 1823.2 233.6 1828.1 230.3 1834.2 230.6 1839.4 228.2M1813.4 275.1 1814.3 280.8M1836.5 311.4 1839.4 316.7 1838.4 323.4 1840.6 329.8 1835.8 329.5 1831.0 328.6 1826.4 324.8 1821.5 321.5M1779.6 356.1 1785.7 357.5 1791.6 355.4M1817.8 460.2 1817.8 460.2M1787.2 435.7 1788.8 442.9M1774.9 357.2 1781.1 358.0 1787.1 355.2M1727.6 372.7 1732.0 376.8 1727.9 381.1 1725.8 386.6 1719.7 389.1M1701.7 384.8 1707.5 386.6M1839.7 329.5 1834.6 331.4 1829.5 329.5 1825.0 327.7 1820.2 327.6M1654.0 330.0 1652.2 335.6 1647.2 340.2 1640.0 342.7 1632.0 342.7 1624.8 340.2 1619.8 335.6 1618.0 330.0M1646.0 333.0 1644.6 337.8 1640.7 341.6 1635.1 343.7 1628.9 343.7 1623.3 341.6 1619.4 337.8 1618.0 333.0 1619.4 328.2 1623.3 324.4 1628.9 322.3 1635.1 322.3 1640.7 324.4 1644.6 328.2 1646.0 333.0M1643.0 327.5 1644.0 331.0" stroke="#f4721c" stroke-width="7.800000000000001"/>
<path d="M1640.7 335.2 1641.2 340.4 1634.9 340.7 1629.3 338.0 1624.5 330.8 1631.6 328.4 1638.8 333.2M1692.5 280.3 1695.0 285.4 1700.0 281.8M1807.1 255.7 1811.3 252.0 1817.1 250.8 1821.5 247.4 1821.5 240.2 1817.9 235.4 1823.2 233.6 1828.1 230.3 1834.2 230.6 1839.4 228.2M1813.4 275.1 1814.3 280.8M1836.5 311.4 1839.4 316.7 1838.4 323.4 1840.6 329.8 1835.8 329.5 1831.0 328.6 1826.4 324.8 1821.5 321.5M1779.6 356.1 1785.7 357.5 1791.6 355.4M1817.8 460.2 1817.8 460.2M1787.2 435.7 1788.8 442.9M1774.9 357.2 1781.1 358.0 1787.1 355.2M1727.6 372.7 1732.0 376.8 1727.9 381.1 1725.8 386.6 1719.7 389.1M1701.7 384.8 1707.5 386.6M1839.7 329.5 1834.6 331.4 1829.5 329.5 1825.0 327.7 1820.2 327.6M1654.0 330.0 1652.2 335.6 1647.2 340.2 1640.0 342.7 1632.0 342.7 1624.8 340.2 1619.8 335.6 1618.0 330.0M1646.0 333.0 1644.6 337.8 1640.7 341.6 1635.1 343.7 1628.9 343.7 1623.3 341.6 1619.4 337.8 1618.0 333.0 1619.4 328.2 1623.3 324.4 1628.9 322.3 1635.1 322.3 1640.7 324.4 1644.6 328.2 1646.0 333.0M1643.0 327.5 1644.0 331.0" stroke="#f4721c" stroke-width="10.4" stroke-dasharray="0 6.5"/>
<path d="M1599.4 342.8 1599.4 342.8M1667.6 294.3 1671.1 290.2 1674.5 286.9 1677.1 283.0M1614.9 317.7 1622.2 317.3 1629.3 315.3 1635.0 318.0 1641.2 318.9 1647.3 323.1 1650.8 329.6 1651.6 335.7 1653.2 341.6 1648.7 345.0 1643.6 347.6 1636.6 345.1 1629.3 345.2 1625.2 340.6 1619.7 338.0 1619.6 332.7 1614.9 329.0 1614.9 323.7 1623.3 321.3 1629.6 323.9 1636.4 323.7 1638.8 328.4 1643.6 330.8 1640.7 335.2M1648.4 351.1 1651.1 355.1 1653.2 359.5 1654.6 364.2 1655.5 369.1 1653.3 373.6 1653.2 378.6 1653.2 385.8 1652.0 393.0M1653.2 378.6 1652.9 384.4 1654.2 390.0 1656.1 395.5 1655.5 401.3 1656.7 406.2 1660.3 409.7 1665.1 416.9M1677.1 275.9 1683.0 269.9 1689.0 275.9 1692.5 280.3M1839.4 228.2 1836.0 222.7 1835.8 216.3 1841.5 217.7 1847.2 217.6 1853.0 218.2 1858.7 217.8 1864.5 217.5 1866.9 225.9M1828.6 245.0 1833.9 242.8 1839.3 243.2 1844.7 243.1 1850.1 243.8 1850.1 246.2 1844.4 244.9 1838.8 246.8 1833.1 247.5 1827.4 247.4M1828.6 245.0 1824.8 249.9 1824.8 256.5 1821.5 261.7 1820.8 268.1 1819.7 274.4 1819.1 280.8M1785.6 261.7 1791.3 259.2 1797.6 259.3 1804.0 260.4 1809.5 264.1 1812.1 269.4 1813.4 275.1M1795.2 273.7 1795.2 273.7M1827.4 266.5 1825.6 272.1M1797.6 285.6 1803.4 287.3 1809.5 288.0 1815.5 288.4 1821.5 289.2 1826.4 291.7 1829.1 296.7 1833.4 299.9 1835.8 305.4 1836.5 311.4M1791.6 355.4 1797.6 354.9 1803.8 354.5 1809.5 357.3M1690.0 297.6 1696.4 296.0 1702.7 294.0 1709.1 292.8M1655.9 346.1 1656.4 352.3 1655.9 358.4 1653.7 364.3 1653.5 370.7 1654.4 376.9 1652.3 382.9 1651.6 389.4 1654.7 395.2 1655.9 400.0 1655.9 405.0 1662.1 411.1 1664.5 418.5 1670.2 419.4 1674.3 423.4 1680.5 422.5 1686.6 423.4 1690.4 419.4 1693.5 414.6 1698.9 412.4 1706.3 412.6 1713.6 413.6 1718.5 416.0M1768.8 440.6 1767.5 447.9 1772.5 454.1 1777.2 456.5 1781.0 460.2 1782.3 466.3 1781.0 472.5 1780.8 477.4 1781.0 482.3 1778.6 487.2 1775.2 491.5 1770.0 493.3 1775.4 498.1M1788.8 442.9 1788.4 450.4 1793.3 456.5 1799.4 462.6M1843.6 343.7 1848.5 349.8 1850.7 356.3 1855.8 360.8 1857.7 366.6 1860.8 371.9 1865.2 375.5 1868.1 380.5 1861.8 383.8 1854.6 384.2 1848.5 389.1 1853.1 384.6 1858.6 381.6 1864.4 379.2M1719.7 389.1 1714.9 385.7 1708.7 386.1 1703.8 382.9 1698.9 379.2M1670.7 355.9 1674.2 360.2 1678.8 363.4 1682.9 367.0 1687.2 372.2 1692.9 375.8 1697.6 380.5 1701.7 384.8M1795.1 297.9 1795.7 303.6 1797.8 309.0 1799.7 316.5 1801.6 323.9M1796.9 288.6 1804.2 288.9 1810.9 285.8 1815.7 286.6 1820.2 288.6 1823.6 293.8 1829.5 296.0 1832.2 301.6 1835.0 307.2 1836.0 311.8 1836.9 316.5 1836.7 323.3 1839.7 329.5M1783.0 350.0 1787.7 349.5 1792.3 348.1 1797.0 348.4M1711.4 367.6 1717.9 367.6 1722.0 371.1 1727.2 372.3 1728.9 376.8 1729.0 381.6 1723.9 385.3 1720.7 390.9 1713.2 386.2 1707.1 384.2 1701.2 381.6 1694.6 376.9 1690.0 374.1M1618.0 330.0 1619.8 324.4 1624.8 319.8 1632.0 317.3 1640.0 317.3 1647.2 319.8 1652.2 324.4 1654.0 330.0M1660.0 328.0 1658.0 334.5M1660.0 334.0 1658.5 339.2 1654.4 343.4 1648.3 345.7 1641.7 345.7 1635.6 343.4 1631.5 339.2 1630.0 334.0 1631.5 328.8 1635.6 324.6 1641.7 322.3 1648.3 322.3 1654.4 324.6 1658.5 328.8 1660.0 334.0" stroke="#f5831b" stroke-width="7.800000000000001"/>
<path d="M1599.4 342.8 1599.4 342.8M1667.6 294.3 1671.1 290.2 1674.5 286.9 1677.1 283.0M1614.9 317.7 1622.2 317.3 1629.3 315.3 1635.0 318.0 1641.2 318.9 1647.3 323.1 1650.8 329.6 1651.6 335.7 1653.2 341.6 1648.7 345.0 1643.6 347.6 1636.6 345.1 1629.3 345.2 1625.2 340.6 1619.7 338.0 1619.6 332.7 1614.9 329.0 1614.9 323.7 1623.3 321.3 1629.6 323.9 1636.4 323.7 1638.8 328.4 1643.6 330.8 1640.7 335.2M1648.4 351.1 1651.1 355.1 1653.2 359.5 1654.6 364.2 1655.5 369.1 1653.3 373.6 1653.2 378.6 1653.2 385.8 1652.0 393.0M1653.2 378.6 1652.9 384.4 1654.2 390.0 1656.1 395.5 1655.5 401.3 1656.7 406.2 1660.3 409.7 1665.1 416.9M1677.1 275.9 1683.0 269.9 1689.0 275.9 1692.5 280.3M1839.4 228.2 1836.0 222.7 1835.8 216.3 1841.5 217.7 1847.2 217.6 1853.0 218.2 1858.7 217.8 1864.5 217.5 1866.9 225.9M1828.6 245.0 1833.9 242.8 1839.3 243.2 1844.7 243.1 1850.1 243.8 1850.1 246.2 1844.4 244.9 1838.8 246.8 1833.1 247.5 1827.4 247.4M1828.6 245.0 1824.8 249.9 1824.8 256.5 1821.5 261.7 1820.8 268.1 1819.7 274.4 1819.1 280.8M1785.6 261.7 1791.3 259.2 1797.6 259.3 1804.0 260.4 1809.5 264.1 1812.1 269.4 1813.4 275.1M1795.2 273.7 1795.2 273.7M1827.4 266.5 1825.6 272.1M1797.6 285.6 1803.4 287.3 1809.5 288.0 1815.5 288.4 1821.5 289.2 1826.4 291.7 1829.1 296.7 1833.4 299.9 1835.8 305.4 1836.5 311.4M1791.6 355.4 1797.6 354.9 1803.8 354.5 1809.5 357.3M1690.0 297.6 1696.4 296.0 1702.7 294.0 1709.1 292.8M1655.9 346.1 1656.4 352.3 1655.9 358.4 1653.7 364.3 1653.5 370.7 1654.4 376.9 1652.3 382.9 1651.6 389.4 1654.7 395.2 1655.9 400.0 1655.9 405.0 1662.1 411.1 1664.5 418.5 1670.2 419.4 1674.3 423.4 1680.5 422.5 1686.6 423.4 1690.4 419.4 1693.5 414.6 1698.9 412.4 1706.3 412.6 1713.6 413.6 1718.5 416.0M1768.8 440.6 1767.5 447.9 1772.5 454.1 1777.2 456.5 1781.0 460.2 1782.3 466.3 1781.0 472.5 1780.8 477.4 1781.0 482.3 1778.6 487.2 1775.2 491.5 1770.0 493.3 1775.4 498.1M1788.8 442.9 1788.4 450.4 1793.3 456.5 1799.4 462.6M1843.6 343.7 1848.5 349.8 1850.7 356.3 1855.8 360.8 1857.7 366.6 1860.8 371.9 1865.2 375.5 1868.1 380.5 1861.8 383.8 1854.6 384.2 1848.5 389.1 1853.1 384.6 1858.6 381.6 1864.4 379.2M1719.7 389.1 1714.9 385.7 1708.7 386.1 1703.8 382.9 1698.9 379.2M1670.7 355.9 1674.2 360.2 1678.8 363.4 1682.9 367.0 1687.2 372.2 1692.9 375.8 1697.6 380.5 1701.7 384.8M1795.1 297.9 1795.7 303.6 1797.8 309.0 1799.7 316.5 1801.6 323.9M1796.9 288.6 1804.2 288.9 1810.9 285.8 1815.7 286.6 1820.2 288.6 1823.6 293.8 1829.5 296.0 1832.2 301.6 1835.0 307.2 1836.0 311.8 1836.9 316.5 1836.7 323.3 1839.7 329.5M1783.0 350.0 1787.7 349.5 1792.3 348.1 1797.0 348.4M1711.4 367.6 1717.9 367.6 1722.0 371.1 1727.2 372.3 1728.9 376.8 1729.0 381.6 1723.9 385.3 1720.7 390.9 1713.2 386.2 1707.1 384.2 1701.2 381.6 1694.6 376.9 1690.0 374.1M1618.0 330.0 1619.8 324.4 1624.8 319.8 1632.0 317.3 1640.0 317.3 1647.2 319.8 1652.2 324.4 1654.0 330.0M1660.0 328.0 1658.0 334.5M1660.0 334.0 1658.5 339.2 1654.4 343.4 1648.3 345.7 1641.7 345.7 1635.6 343.4 1631.5 339.2 1630.0 334.0 1631.5 328.8 1635.6 324.6 1641.7 322.3 1648.3 322.3 1654.4 324.6 1658.5 328.8 1660.0 334.0" stroke="#f5831b" stroke-width="10.4" stroke-dasharray="0 6.5"/>
<path d="M1575.0 343.5 1581.5 340.4 1587.6 339.1 1593.4 341.6 1599.4 342.8M1642.3 303.2 1648.5 300.4 1655.5 299.8 1659.1 300.9 1661.9 296.0 1667.6 294.3M1866.9 225.9 1861.1 228.2 1854.9 229.4 1855.3 235.0 1855.3 240.6 1854.9 246.2 1855.9 252.0 1861.2 255.8 1862.1 261.7M1759.7 238.9 1764.1 242.6 1768.4 246.8 1773.7 249.8 1775.6 254.2 1779.6 256.9 1785.6 261.7M1763.3 253.3 1765.7 258.4 1766.5 264.1 1772.1 269.3 1779.6 271.3 1784.7 273.0 1790.2 271.3 1795.2 273.7M1825.6 272.1 1829.0 277.6 1827.4 283.2 1832.7 281.6 1838.2 280.8 1843.6 284.5M1775.4 498.1 1782.3 500.7 1786.9 497.7 1792.7 497.0 1797.0 493.3 1802.7 489.4 1809.2 487.2 1812.5 482.0 1816.6 477.4 1816.6 470.0M1799.4 462.6 1804.4 463.6 1809.2 465.1 1816.5 463.2M1797.0 348.4 1801.6 350.0 1805.7 353.2 1810.9 353.7 1803.4 358.3M1658.0 334.5 1652.5 339.7 1644.5 342.6 1635.5 342.6 1627.5 339.7 1622.0 334.5 1620.0 328.0 1622.0 321.5 1627.5 316.3 1635.5 313.4 1644.5 313.4 1652.5 316.3 1658.0 321.5 1660.0 328.0" stroke="#f6941b" stroke-width="7.800000000000001"/>
<path d="M1575.0 343.5 1581.5 340.4 1587.6 339.1 1593.4 341.6 1599.4 342.8M1642.3 303.2 1648.5 300.4 1655.5 299.8 1659.1 300.9 1661.9 296.0 1667.6 294.3M1866.9 225.9 1861.1 228.2 1854.9 229.4 1855.3 235.0 1855.3 240.6 1854.9 246.2 1855.9 252.0 1861.2 255.8 1862.1 261.7M1759.7 238.9 1764.1 242.6 1768.4 246.8 1773.7 249.8 1775.6 254.2 1779.6 256.9 1785.6 261.7M1763.3 253.3 1765.7 258.4 1766.5 264.1 1772.1 269.3 1779.6 271.3 1784.7 273.0 1790.2 271.3 1795.2 273.7M1825.6 272.1 1829.0 277.6 1827.4 283.2 1832.7 281.6 1838.2 280.8 1843.6 284.5M1775.4 498.1 1782.3 500.7 1786.9 497.7 1792.7 497.0 1797.0 493.3 1802.7 489.4 1809.2 487.2 1812.5 482.0 1816.6 477.4 1816.6 470.0M1799.4 462.6 1804.4 463.6 1809.2 465.1 1816.5 463.2M1797.0 348.4 1801.6 350.0 1805.7 353.2 1810.9 353.7 1803.4 358.3M1658.0 334.5 1652.5 339.7 1644.5 342.6 1635.5 342.6 1627.5 339.7 1622.0 334.5 1620.0 328.0 1622.0 321.5 1627.5 316.3 1635.5 313.4 1644.5 313.4 1652.5 316.3 1658.0 321.5 1660.0 328.0" stroke="#f6941b" stroke-width="10.4" stroke-dasharray="0 6.5"/>
<path d="M1554.2 345.8 1561.1 345.2 1567.7 342.5 1575.0 343.5M1626.0 285.9 1629.3 290.2 1630.1 296.4 1634.6 301.1 1636.4 306.9 1642.3 303.2M1655.5 306.9 1659.7 311.7 1666.9 311.6M1693.9 299.1 1700.0 297.4M1862.1 261.7 1861.8 268.0 1864.5 273.7M1734.2 304.7 1739.3 302.3 1743.8 299.0M1752.1 235.4 1756.9 237.8 1754.5 236.6 1759.7 238.9M1756.9 237.8 1758.8 243.1 1762.0 247.9 1763.3 253.3M1843.6 284.5 1850.1 284.4 1854.2 288.9 1859.7 291.6 1862.1 299.9 1857.4 301.5 1853.7 304.7M1816.5 463.2 1824.0 463.9 1830.1 459.0 1835.4 456.4M1735.7 379.2 1740.7 377.1 1745.8 375.8 1751.0 374.2M1803.4 358.3 1797.8 358.9 1792.3 358.3 1787.6 358.0" stroke="#f7a51a" stroke-width="7.800000000000001"/>
<path d="M1554.2 345.8 1561.1 345.2 1567.7 342.5 1575.0 343.5M1626.0 285.9 1629.3 290.2 1630.1 296.4 1634.6 301.1 1636.4 306.9 1642.3 303.2M1655.5 306.9 1659.7 311.7 1666.9 311.6M1693.9 299.1 1700.0 297.4M1862.1 261.7 1861.8 268.0 1864.5 273.7M1734.2 304.7 1739.3 302.3 1743.8 299.0M1752.1 235.4 1756.9 237.8 1754.5 236.6 1759.7 238.9M1756.9 237.8 1758.8 243.1 1762.0 247.9 1763.3 253.3M1843.6 284.5 1850.1 284.4 1854.2 288.9 1859.7 291.6 1862.1 299.9 1857.4 301.5 1853.7 304.7M1816.5 463.2 1824.0 463.9 1830.1 459.0 1835.4 456.4M1735.7 379.2 1740.7 377.1 1745.8 375.8 1751.0 374.2M1803.4 358.3 1797.8 358.9 1792.3 358.3 1787.6 358.0" stroke="#f7a51a" stroke-width="10.4" stroke-dasharray="0 6.5"/>
<path d="M1540.8 323.7 1542.7 328.7 1545.6 333.2 1550.4 335.6 1548.0 342.8 1554.2 345.8M1614.9 283.0 1616.1 278.1 1619.7 274.7 1622.2 279.2 1620.9 284.2 1626.0 285.9M1608.5 348.8 1614.2 351.0 1619.7 348.7M1652.0 393.0 1644.8 393.0M1666.9 311.6 1671.1 316.5 1673.5 323.7 1667.5 327.2M1682.2 300.9 1687.8 300.9 1693.9 299.1M1743.8 299.0 1748.0 295.3 1752.1 291.6 1758.2 291.6M1850.1 284.4 1854.3 280.6 1859.6 278.8M1853.7 304.7 1859.7 309.5 1854.9 316.7 1850.2 318.1 1845.4 319.1 1851.0 323.6M1690.0 266.5 1694.8 273.7 1698.2 276.9M1835.4 456.4 1841.1 457.7 1846.0 455.3 1851.2 454.9 1855.6 452.0M1793.3 467.5 1788.4 463.9M1751.0 374.2 1756.5 374.3 1762.6 370.7M1787.6 358.0 1783.0 357.4 1778.3 359.2 1773.7 361.1 1768.8 361.0" stroke="#f8b61a" stroke-width="7.800000000000001"/>
<path d="M1540.8 323.7 1542.7 328.7 1545.6 333.2 1550.4 335.6 1548.0 342.8 1554.2 345.8M1614.9 283.0 1616.1 278.1 1619.7 274.7 1622.2 279.2 1620.9 284.2 1626.0 285.9M1608.5 348.8 1614.2 351.0 1619.7 348.7M1652.0 393.0 1644.8 393.0M1666.9 311.6 1671.1 316.5 1673.5 323.7 1667.5 327.2M1682.2 300.9 1687.8 300.9 1693.9 299.1M1743.8 299.0 1748.0 295.3 1752.1 291.6 1758.2 291.6M1850.1 284.4 1854.3 280.6 1859.6 278.8M1853.7 304.7 1859.7 309.5 1854.9 316.7 1850.2 318.1 1845.4 319.1 1851.0 323.6M1690.0 266.5 1694.8 273.7 1698.2 276.9M1835.4 456.4 1841.1 457.7 1846.0 455.3 1851.2 454.9 1855.6 452.0M1793.3 467.5 1788.4 463.9M1751.0 374.2 1756.5 374.3 1762.6 370.7M1787.6 358.0 1783.0 357.4 1778.3 359.2 1773.7 361.1 1768.8 361.0" stroke="#f8b61a" stroke-width="10.4" stroke-dasharray="0 6.5"/>
<path d="M1521.7 314.1 1525.4 317.1 1527.7 321.3 1533.7 326.0 1540.8 323.7M1619.7 289.0 1612.1 288.8 1605.4 285.4 1601.8 284.2 1608.5 285.3 1614.9 283.0M1603.0 321.3 1603.0 321.3M1593.4 342.8 1593.4 342.8M1593.9 359.9 1588.6 358.3 1586.2 351.1 1591.7 349.9 1597.4 351.2 1602.9 349.4 1608.5 348.8M1644.8 393.0 1641.2 390.6M1626.9 352.3 1634.0 354.7M1667.5 327.2 1662.7 330.9 1657.9 334.4M1677.1 303.3 1682.2 300.9M1758.2 291.6 1764.1 292.8 1768.4 288.1M1859.6 278.8 1865.0 277.3 1869.3 273.7 1875.4 270.9 1881.2 267.7 1887.5 267.4M1851.0 323.6 1854.9 329.8 1849.8 333.6 1845.4 338.2 1840.6 345.4 1845.4 343.8M1698.2 276.9 1702.0 279.6 1707.9 285.6 1704.3 291.6 1710.9 292.3M1855.6 452.0 1860.8 451.6 1866.9 450.6 1873.0 451.6 1877.9 459.0M1853.4 460.2 1851.2 465.8M1803.1 474.9 1797.0 472.8 1793.3 467.5M1762.6 370.7 1765.1 362.1 1760.2 358.4M1768.8 361.0 1764.4 363.0 1760.5 368.4 1755.1 372.3" stroke="#f9c71a" stroke-width="7.800000000000001"/>
<path d="M1521.7 314.1 1525.4 317.1 1527.7 321.3 1533.7 326.0 1540.8 323.7M1619.7 289.0 1612.1 288.8 1605.4 285.4 1601.8 284.2 1608.5 285.3 1614.9 283.0M1603.0 321.3 1603.0 321.3M1593.4 342.8 1593.4 342.8M1593.9 359.9 1588.6 358.3 1586.2 351.1 1591.7 349.9 1597.4 351.2 1602.9 349.4 1608.5 348.8M1644.8 393.0 1641.2 390.6M1626.9 352.3 1634.0 354.7M1667.5 327.2 1662.7 330.9 1657.9 334.4M1677.1 303.3 1682.2 300.9M1758.2 291.6 1764.1 292.8 1768.4 288.1M1859.6 278.8 1865.0 277.3 1869.3 273.7 1875.4 270.9 1881.2 267.7 1887.5 267.4M1851.0 323.6 1854.9 329.8 1849.8 333.6 1845.4 338.2 1840.6 345.4 1845.4 343.8M1698.2 276.9 1702.0 279.6 1707.9 285.6 1704.3 291.6 1710.9 292.3M1855.6 452.0 1860.8 451.6 1866.9 450.6 1873.0 451.6 1877.9 459.0M1853.4 460.2 1851.2 465.8M1803.1 474.9 1797.0 472.8 1793.3 467.5M1762.6 370.7 1765.1 362.1 1760.2 358.4M1768.8 361.0 1764.4 363.0 1760.5 368.4 1755.1 372.3" stroke="#f9c71a" stroke-width="10.4" stroke-dasharray="0 6.5"/>
<path d="M1500.2 309.3 1504.6 312.2 1509.8 312.9 1515.7 313.6 1521.7 314.1M1614.9 299.8 1620.8 298.0 1626.9 298.6 1623.7 293.5 1619.7 289.0M1592.3 318.8 1597.5 322.4 1603.0 321.3M1581.5 333.2 1587.4 330.8 1593.4 335.6 1599.7 332.5 1605.4 328.4 1612.5 333.2 1611.3 341.6 1605.3 340.7 1599.3 341.8 1593.4 342.8M1605.4 364.3 1609.9 361.8 1614.9 360.7 1609.7 360.6 1604.4 361.8 1599.4 359.5 1593.9 359.9M1641.2 390.6 1638.8 389.4 1634.0 390.6M1634.0 354.7 1634.7 360.4 1637.6 365.2 1640.0 370.3M1665.9 308.9 1672.0 307.2 1677.1 303.3M1768.4 288.1 1772.7 283.4 1779.3 281.3 1783.2 276.0M1887.5 267.4 1893.2 270.1 1898.4 265.8 1903.9 261.7 1906.0 256.5M1845.4 343.8 1850.1 345.4 1845.4 348.9 1849.9 353.5 1852.9 359.2 1857.6 363.7M1710.9 292.3 1717.5 292.8 1722.5 296.0 1728.2 297.6 1729.4 303.5 1722.3 304.7M1877.9 459.0 1880.4 466.3 1886.1 467.4 1891.4 470.0M1851.2 465.8 1849.5 471.5 1848.5 477.4 1848.4 482.3 1847.3 487.2 1841.4 486.7 1836.2 489.6 1831.3 493.3 1838.7 494.5M1790.2 481.6 1795.8 481.0 1798.2 476.5 1803.1 474.9M1755.1 372.3 1750.5 374.8 1745.8 376.9 1741.3 379.5 1736.5 381.6" stroke="#fad819" stroke-width="7.800000000000001"/>
<path d="M1500.2 309.3 1504.6 312.2 1509.8 312.9 1515.7 313.6 1521.7 314.1M1614.9 299.8 1620.8 298.0 1626.9 298.6 1623.7 293.5 1619.7 289.0M1592.3 318.8 1597.5 322.4 1603.0 321.3M1581.5 333.2 1587.4 330.8 1593.4 335.6 1599.7 332.5 1605.4 328.4 1612.5 333.2 1611.3 341.6 1605.3 340.7 1599.3 341.8 1593.4 342.8M1605.4 364.3 1609.9 361.8 1614.9 360.7 1609.7 360.6 1604.4 361.8 1599.4 359.5 1593.9 359.9M1641.2 390.6 1638.8 389.4 1634.0 390.6M1634.0 354.7 1634.7 360.4 1637.6 365.2 1640.0 370.3M1665.9 308.9 1672.0 307.2 1677.1 303.3M1768.4 288.1 1772.7 283.4 1779.3 281.3 1783.2 276.0M1887.5 267.4 1893.2 270.1 1898.4 265.8 1903.9 261.7 1906.0 256.5M1845.4 343.8 1850.1 345.4 1845.4 348.9 1849.9 353.5 1852.9 359.2 1857.6 363.7M1710.9 292.3 1717.5 292.8 1722.5 296.0 1728.2 297.6 1729.4 303.5 1722.3 304.7M1877.9 459.0 1880.4 466.3 1886.1 467.4 1891.4 470.0M1851.2 465.8 1849.5 471.5 1848.5 477.4 1848.4 482.3 1847.3 487.2 1841.4 486.7 1836.2 489.6 1831.3 493.3 1838.7 494.5M1790.2 481.6 1795.8 481.0 1798.2 476.5 1803.1 474.9M1755.1 372.3 1750.5 374.8 1745.8 376.9 1741.3 379.5 1736.5 381.6" stroke="#fad819" stroke-width="10.4" stroke-dasharray="0 6.5"/>
<path d="M1473.9 302.1 1479.9 301.9 1485.9 302.1 1491.8 306.9 1500.2 309.3M1593.4 296.2 1594.4 300.7 1597.0 304.5 1603.0 303.2 1608.7 300.6 1614.9 299.8M1581.5 320.1 1586.9 318.8 1592.3 318.8M1574.3 323.7 1576.9 329.2 1581.5 333.2M1624.5 383.4 1622.5 377.9 1622.1 372.4 1623.3 366.7 1617.4 364.9 1611.2 366.2 1605.4 364.3M1634.0 390.6 1629.3 391.8 1623.3 390.6M1640.0 370.3 1640.7 377.2 1637.6 383.4M1660.3 311.7 1665.9 308.9M1783.2 276.0 1788.3 273.8 1793.3 271.3M1906.0 256.5 1905.1 250.9 1910.6 247.0 1917.1 245.0 1922.4 243.7M1857.6 363.7 1859.7 370.0M1844.4 272.9 1850.1 272.5 1851.9 277.8 1853.7 283.2M1766.5 345.4 1770.9 342.8 1776.0 343.0 1780.8 348.9 1776.5 351.1M1722.3 304.7 1719.9 309.5 1714.7 310.7 1709.4 311.4 1704.3 313.1 1700.8 316.7M1891.4 470.0 1895.1 472.5 1890.2 473.8 1885.3 474.9 1884.9 480.5M1838.7 494.5 1843.8 495.3 1848.5 493.3 1842.7 496.3 1836.0 494.5 1830.1 497.0 1825.2 495.4 1820.3 497.0M1819.1 474.9 1824.3 475.0 1828.9 472.5 1836.2 470.0 1841.1 474.9M1784.7 481.0 1790.2 481.6M1777.4 353.5 1770.0 354.7M1736.5 381.6 1736.5 381.6" stroke="#fbe919" stroke-width="7.800000000000001"/>
<path d="M1473.9 302.1 1479.9 301.9 1485.9 302.1 1491.8 306.9 1500.2 309.3M1593.4 296.2 1594.4 300.7 1597.0 304.5 1603.0 303.2 1608.7 300.6 1614.9 299.8M1581.5 320.1 1586.9 318.8 1592.3 318.8M1574.3 323.7 1576.9 329.2 1581.5 333.2M1624.5 383.4 1622.5 377.9 1622.1 372.4 1623.3 366.7 1617.4 364.9 1611.2 366.2 1605.4 364.3M1634.0 390.6 1629.3 391.8 1623.3 390.6M1640.0 370.3 1640.7 377.2 1637.6 383.4M1660.3 311.7 1665.9 308.9M1783.2 276.0 1788.3 273.8 1793.3 271.3M1906.0 256.5 1905.1 250.9 1910.6 247.0 1917.1 245.0 1922.4 243.7M1857.6 363.7 1859.7 370.0M1844.4 272.9 1850.1 272.5 1851.9 277.8 1853.7 283.2M1766.5 345.4 1770.9 342.8 1776.0 343.0 1780.8 348.9 1776.5 351.1M1722.3 304.7 1719.9 309.5 1714.7 310.7 1709.4 311.4 1704.3 313.1 1700.8 316.7M1891.4 470.0 1895.1 472.5 1890.2 473.8 1885.3 474.9 1884.9 480.5M1838.7 494.5 1843.8 495.3 1848.5 493.3 1842.7 496.3 1836.0 494.5 1830.1 497.0 1825.2 495.4 1820.3 497.0M1819.1 474.9 1824.3 475.0 1828.9 472.5 1836.2 470.0 1841.1 474.9M1784.7 481.0 1790.2 481.6M1777.4 353.5 1770.0 354.7M1736.5 381.6 1736.5 381.6" stroke="#fbe919" stroke-width="10.4" stroke-dasharray="0 6.5"/>
<path d="M1456.0 296.2 1462.0 296.4 1467.9 296.2 1473.9 302.1M1489.4 309.3 1489.1 302.1 1490.6 295.0 1488.2 292.6 1492.5 289.2 1497.8 287.8 1498.8 283.0 1497.8 278.2 1502.6 279.4 1495.4 283.0 1492.0 287.2 1491.8 292.6 1490.1 298.0 1490.9 303.8 1489.4 309.3M1548.0 297.4 1551.3 291.2 1551.6 284.2 1559.9 281.8 1565.1 284.2 1569.5 287.8 1574.5 288.0 1579.1 290.2 1571.9 295.0 1564.7 296.2 1562.2 291.9 1557.6 290.2 1551.6 290.2 1557.6 290.3 1563.6 290.2 1569.5 289.0 1575.1 288.1 1580.8 287.9 1585.6 284.4 1591.0 283.0M1569.5 297.4 1573.4 302.4 1578.6 305.9 1583.8 309.3M1575.5 304.5 1582.1 303.0 1587.3 298.7 1593.4 296.2M1569.5 323.7 1575.1 320.7 1581.5 320.1M1612.5 383.4 1614.9 385.8 1619.5 387.4 1623.3 390.6 1624.5 383.4M1623.3 390.6 1623.3 390.6M1637.6 383.4 1641.2 390.6M1793.3 271.3 1797.6 267.7M1922.4 243.7 1927.8 245.0 1930.2 248.6M1827.4 271.3 1833.1 271.2 1838.7 273.0 1844.4 272.9M1776.5 351.1 1773.7 354.9 1766.5 357.3M1700.8 316.7 1695.5 314.8 1690.0 315.5M1697.2 348.9 1702.0 347.7 1700.8 352.7 1703.1 357.3 1705.5 363.3M1884.9 480.5 1884.1 485.9M1820.3 497.0 1825.3 499.3 1831.2 498.0 1836.2 500.7M1841.1 474.9 1833.8 478.6 1831.3 483.5M1770.0 347.4 1774.9 347.4 1777.4 353.5M1698.9 348.6 1701.3 349.8 1702.1 355.7 1705.0 360.8M1768.1 342.5 1773.7 340.7 1779.3 344.4 1781.1 351.8 1775.5 355.5 1770.0 353.7 1766.2 350.0 1771.8 348.1 1775.5 350.0M1695.6 350.0 1702.1 349.0 1703.5 353.7 1704.9 358.3" stroke="#fcfa19" stroke-width="7.800000000000001"/>
<path d="M1456.0 296.2 1462.0 296.4 1467.9 296.2 1473.9 302.1M1489.4 309.3 1489.1 302.1 1490.6 295.0 1488.2 292.6 1492.5 289.2 1497.8 287.8 1498.8 283.0 1497.8 278.2 1502.6 279.4 1495.4 283.0 1492.0 287.2 1491.8 292.6 1490.1 298.0 1490.9 303.8 1489.4 309.3M1548.0 297.4 1551.3 291.2 1551.6 284.2 1559.9 281.8 1565.1 284.2 1569.5 287.8 1574.5 288.0 1579.1 290.2 1571.9 295.0 1564.7 296.2 1562.2 291.9 1557.6 290.2 1551.6 290.2 1557.6 290.3 1563.6 290.2 1569.5 289.0 1575.1 288.1 1580.8 287.9 1585.6 284.4 1591.0 283.0M1569.5 297.4 1573.4 302.4 1578.6 305.9 1583.8 309.3M1575.5 304.5 1582.1 303.0 1587.3 298.7 1593.4 296.2M1569.5 323.7 1575.1 320.7 1581.5 320.1M1612.5 383.4 1614.9 385.8 1619.5 387.4 1623.3 390.6 1624.5 383.4M1623.3 390.6 1623.3 390.6M1637.6 383.4 1641.2 390.6M1793.3 271.3 1797.6 267.7M1922.4 243.7 1927.8 245.0 1930.2 248.6M1827.4 271.3 1833.1 271.2 1838.7 273.0 1844.4 272.9M1776.5 351.1 1773.7 354.9 1766.5 357.3M1700.8 316.7 1695.5 314.8 1690.0 315.5M1697.2 348.9 1702.0 347.7 1700.8 352.7 1703.1 357.3 1705.5 363.3M1884.9 480.5 1884.1 485.9M1820.3 497.0 1825.3 499.3 1831.2 498.0 1836.2 500.7M1841.1 474.9 1833.8 478.6 1831.3 483.5M1770.0 347.4 1774.9 347.4 1777.4 353.5M1698.9 348.6 1701.3 349.8 1702.1 355.7 1705.0 360.8M1768.1 342.5 1773.7 340.7 1779.3 344.4 1781.1 351.8 1775.5 355.5 1770.0 353.7 1766.2 350.0 1771.8 348.1 1775.5 350.0M1695.6 350.0 1702.1 349.0 1703.5 353.7 1704.9 358.3" stroke="#fcfa19" stroke-width="10.4" stroke-dasharray="0 6.5"/>
<path d="M1456.0 296.2 1462.0 296.4 1467.9 296.2 1473.9 302.1 1479.9 301.9 1485.9 302.1 1491.8 306.9 1500.2 309.3 1504.6 312.2 1509.8 312.9 1515.7 313.6 1521.7 314.1 1525.4 317.1 1527.7 321.3 1533.7 326.0 1540.8 323.7 1542.7 328.7 1545.6 333.2 1550.4 335.6 1548.0 342.8 1554.2 345.8 1561.1 345.2 1567.7 342.5 1575.0 343.5 1581.5 340.4 1587.6 339.1 1593.4 341.6 1599.4 342.8M1489.4 309.3 1489.1 302.1 1490.6 295.0 1488.2 292.6 1492.5 289.2 1497.8 287.8 1498.8 283.0 1497.8 278.2 1502.6 279.4 1495.4 283.0 1492.0 287.2 1491.8 292.6 1490.1 298.0 1490.9 303.8 1489.4 309.3M1548.0 297.4 1551.3 291.2 1551.6 284.2 1559.9 281.8 1565.1 284.2 1569.5 287.8 1574.5 288.0 1579.1 290.2 1571.9 295.0 1564.7 296.2 1562.2 291.9 1557.6 290.2 1551.6 290.2 1557.6 290.3 1563.6 290.2 1569.5 289.0 1575.1 288.1 1580.8 287.9 1585.6 284.4 1591.0 283.0M1569.5 297.4 1573.4 302.4 1578.6 305.9 1583.8 309.3M1575.5 304.5 1582.1 303.0 1587.3 298.7 1593.4 296.2 1594.4 300.7 1597.0 304.5 1603.0 303.2 1608.7 300.6 1614.9 299.8 1620.8 298.0 1626.9 298.6 1623.7 293.5 1619.7 289.0 1612.1 288.8 1605.4 285.4 1601.8 284.2 1608.5 285.3 1614.9 283.0 1616.1 278.1 1619.7 274.7 1622.2 279.2 1620.9 284.2 1626.0 285.9 1629.3 290.2 1630.1 296.4 1634.6 301.1 1636.4 306.9 1642.3 303.2 1648.5 300.4 1655.5 299.8 1659.1 300.9 1661.9 296.0 1667.6 294.3 1671.1 290.2 1674.5 286.9 1677.1 283.0M1614.9 317.7 1622.2 317.3 1629.3 315.3 1635.0 318.0 1641.2 318.9 1647.3 323.1 1650.8 329.6 1651.6 335.7 1653.2 341.6 1648.7 345.0 1643.6 347.6 1636.6 345.1 1629.3 345.2 1625.2 340.6 1619.7 338.0 1619.6 332.7 1614.9 329.0 1614.9 323.7 1623.3 321.3 1629.6 323.9 1636.4 323.7 1638.8 328.4 1643.6 330.8 1640.7 335.2 1641.2 340.4 1634.9 340.7 1629.3 338.0 1624.5 330.8 1631.6 328.4 1638.8 333.2M1569.5 323.7 1575.1 320.7 1581.5 320.1 1586.9 318.8 1592.3 318.8 1597.5 322.4 1603.0 321.3M1574.3 323.7 1576.9 329.2 1581.5 333.2 1587.4 330.8 1593.4 335.6 1599.7 332.5 1605.4 328.4 1612.5 333.2 1611.3 341.6 1605.3 340.7 1599.3 341.8 1593.4 342.8M1612.5 383.4 1614.9 385.8 1619.5 387.4 1623.3 390.6 1624.5 383.4 1622.5 377.9 1622.1 372.4 1623.3 366.7 1617.4 364.9 1611.2 366.2 1605.4 364.3 1609.9 361.8 1614.9 360.7 1609.7 360.6 1604.4 361.8 1599.4 359.5 1593.9 359.9 1588.6 358.3 1586.2 351.1 1591.7 349.9 1597.4 351.2 1602.9 349.4 1608.5 348.8 1614.2 351.0 1619.7 348.7M1652.0 393.0 1644.8 393.0 1641.2 390.6 1638.8 389.4 1634.0 390.6 1629.3 391.8 1623.3 390.6M1626.9 352.3 1634.0 354.7 1634.7 360.4 1637.6 365.2 1640.0 370.3 1640.7 377.2 1637.6 383.4 1641.2 390.6M1648.4 351.1 1651.1 355.1 1653.2 359.5 1654.6 364.2 1655.5 369.1 1653.3 373.6 1653.2 378.6 1653.2 385.8 1652.0 393.0M1653.2 378.6 1652.9 384.4 1654.2 390.0 1656.1 395.5 1655.5 401.3 1656.7 406.2 1660.3 409.7 1665.1 416.9M1646.0 354.7 1651.7 356.5 1654.8 362.2 1660.3 364.3 1667.5 369.1 1673.1 372.3 1677.1 377.4 1676.5 384.1 1672.3 389.4 1667.3 390.0 1662.7 388.2 1667.8 391.0 1673.5 391.8M1655.5 306.9 1659.7 311.7 1666.9 311.6 1671.1 316.5 1673.5 323.7 1667.5 327.2 1662.7 330.9 1657.9 334.4M1660.3 311.7 1665.9 308.9 1672.0 307.2 1677.1 303.3 1682.2 300.9 1687.8 300.9 1693.9 299.1 1700.0 297.4M1677.1 275.9 1683.0 269.9 1689.0 275.9 1692.5 280.3 1695.0 285.4 1700.0 281.8M1662.7 359.5 1666.1 363.6 1671.1 365.5 1677.3 366.4 1683.0 369.1 1687.9 373.4 1694.7 373.9 1700.0 377.4M1807.1 255.7 1811.3 252.0 1817.1 250.8 1821.5 247.4 1821.5 240.2 1817.9 235.4 1823.2 233.6 1828.1 230.3 1834.2 230.6 1839.4 228.2 1836.0 222.7 1835.8 216.3 1841.5 217.7 1847.2 217.6 1853.0 218.2 1858.7 217.8 1864.5 217.5 1866.9 225.9 1861.1 228.2 1854.9 229.4 1855.3 235.0 1855.3 240.6 1854.9 246.2 1855.9 252.0 1861.2 255.8 1862.1 261.7 1861.8 268.0 1864.5 273.7M1828.6 245.0 1833.9 242.8 1839.3 243.2 1844.7 243.1 1850.1 243.8 1850.1 246.2 1844.4 244.9 1838.8 246.8 1833.1 247.5 1827.4 247.4M1828.6 245.0 1824.8 249.9 1824.8 256.5 1821.5 261.7 1820.8 268.1 1819.7 274.4 1819.1 280.8M1734.2 304.7 1739.3 302.3 1743.8 299.0 1748.0 295.3 1752.1 291.6 1758.2 291.6 1764.1 292.8 1768.4 288.1 1772.7 283.4 1779.3 281.3 1783.2 276.0 1788.3 273.8 1793.3 271.3 1797.6 267.7M1850.1 284.4 1854.3 280.6 1859.6 278.8 1865.0 277.3 1869.3 273.7 1875.4 270.9 1881.2 267.7 1887.5 267.4 1893.2 270.1 1898.4 265.8 1903.9 261.7 1906.0 256.5 1905.1 250.9 1910.6 247.0 1917.1 245.0 1922.4 243.7 1927.8 245.0 1930.2 248.6M1752.1 235.4 1756.9 237.8 1754.5 236.6 1759.7 238.9 1764.1 242.6 1768.4 246.8 1773.7 249.8 1775.6 254.2 1779.6 256.9 1785.6 261.7 1791.3 259.2 1797.6 259.3 1804.0 260.4 1809.5 264.1 1812.1 269.4 1813.4 275.1 1814.3 280.8M1756.9 237.8 1758.8 243.1 1762.0 247.9 1763.3 253.3 1765.7 258.4 1766.5 264.1 1772.1 269.3 1779.6 271.3 1784.7 273.0 1790.2 271.3 1795.2 273.7M1827.4 266.5 1825.6 272.1 1829.0 277.6 1827.4 283.2 1832.7 281.6 1838.2 280.8 1843.6 284.5 1850.1 284.4 1854.2 288.9 1859.7 291.6 1862.1 299.9 1857.4 301.5 1853.7 304.7 1859.7 309.5 1854.9 316.7 1850.2 318.1 1845.4 319.1 1851.0 323.6 1854.9 329.8 1849.8 333.6 1845.4 338.2 1840.6 345.4 1845.4 343.8 1850.1 345.4 1845.4 348.9 1849.9 353.5 1852.9 359.2 1857.6 363.7 1859.7 370.0M1827.4 271.3 1833.1 271.2 1838.7 273.0 1844.4 272.9 1850.1 272.5 1851.9 277.8 1853.7 283.2M1797.6 285.6 1803.4 287.3 1809.5 288.0 1815.5 288.4 1821.5 289.2 1826.4 291.7 1829.1 296.7 1833.4 299.9 1835.8 305.4 1836.5 311.4 1839.4 316.7 1838.4 323.4 1840.6 329.8 1835.8 329.5 1831.0 328.6 1826.4 324.8 1821.5 321.5M1711.5 333.4 1718.9 332.6 1725.9 329.8 1731.7 327.7 1737.8 326.2 1743.7 324.6 1749.8 325.0 1754.8 324.3 1759.8 323.3 1764.1 320.3 1771.5 319.5 1778.4 316.7 1785.1 316.3 1791.6 314.3 1797.0 318.0 1803.5 319.1 1809.5 316.7 1815.7 315.6 1821.5 313.1 1827.3 315.4 1833.4 316.7 1838.2 318.1 1843.2 319.2 1847.7 321.5 1853.8 321.2 1859.5 318.3 1865.7 319.1M1713.9 333.4 1720.0 335.1 1725.5 338.5 1731.8 339.4 1734.1 345.7 1737.8 351.3 1743.5 354.8 1749.8 357.3 1756.2 359.4 1761.7 363.3M1773.7 297.6 1773.4 303.6 1772.5 309.5 1775.6 315.4 1778.4 321.5 1781.7 324.8 1785.6 327.4 1791.6 328.3 1797.6 329.8 1803.3 332.3 1809.5 333.4 1811.1 338.8 1816.5 341.7 1818.0 347.2 1821.5 351.3 1825.7 355.1 1831.2 356.5 1835.8 359.7 1838.2 364.8 1840.6 370.0M1745.0 337.0 1747.1 342.6 1753.6 344.6 1755.7 350.1 1756.2 356.7 1756.9 363.3M1766.5 345.4 1770.9 342.8 1776.0 343.0 1780.8 348.9 1776.5 351.1 1773.7 354.9 1766.5 357.3M1779.6 356.1 1785.7 357.5 1791.6 355.4 1797.6 354.9 1803.8 354.5 1809.5 357.3M1690.0 266.5 1694.8 273.7 1698.2 276.9 1702.0 279.6 1707.9 285.6 1704.3 291.6 1710.9 292.3 1717.5 292.8 1722.5 296.0 1728.2 297.6 1729.4 303.5 1722.3 304.7 1719.9 309.5 1714.7 310.7 1709.4 311.4 1704.3 313.1 1700.8 316.7 1695.5 314.8 1690.0 315.5M1690.0 297.6 1696.4 296.0 1702.7 294.0 1709.1 292.8M1697.2 348.9 1702.0 347.7 1700.8 352.7 1703.1 357.3 1705.5 363.3M1740.2 309.5 1741.9 314.1 1741.4 319.1 1741.3 324.5 1742.6 329.8M1655.9 346.1 1656.4 352.3 1655.9 358.4 1653.7 364.3 1653.5 370.7 1654.4 376.9 1652.3 382.9 1651.6 389.4 1654.7 395.2 1655.9 400.0 1655.9 405.0 1662.1 411.1 1664.5 418.5 1670.2 419.4 1674.3 423.4 1680.5 422.5 1686.6 423.4 1690.4 419.4 1693.5 414.6 1698.9 412.4 1706.3 412.6 1713.6 413.6 1718.5 416.0M1674.3 428.3 1681.6 426.8 1689.1 425.8 1695.3 426.0 1701.3 424.6 1707.5 424.6 1713.6 425.8 1716.0 419.7M1708.7 395.2 1713.0 397.5 1716.0 401.3 1720.9 400.2 1725.8 401.3 1731.1 400.6 1736.2 399.7 1740.6 396.4M1711.1 403.8 1716.0 405.5 1721.3 406.0 1725.8 408.7 1728.3 416.0 1736.9 413.6 1738.1 420.9 1731.7 421.0 1725.8 423.4M1744.2 416.0 1747.7 420.7 1750.4 425.8 1754.9 428.7 1757.7 433.2 1763.3 431.7 1768.8 433.2 1777.4 434.4 1782.4 434.9 1787.2 433.2 1791.5 436.8 1797.0 438.1 1801.1 440.4 1805.6 441.8 1814.1 441.8 1813.5 447.1 1812.3 452.4 1811.7 457.7 1817.8 460.2M1752.8 412.4 1758.1 413.2 1762.6 416.0 1766.9 419.6 1772.5 419.7 1776.5 417.3 1781.0 416.0 1783.7 420.1 1787.2 423.4 1791.8 425.9 1797.0 425.8 1801.2 430.2 1806.9 432.3 1811.7 435.7 1816.6 438.1M1768.8 440.6 1767.5 447.9 1772.5 454.1 1777.2 456.5 1781.0 460.2 1782.3 466.3 1781.0 472.5 1780.8 477.4 1781.0 482.3 1778.6 487.2 1775.2 491.5 1770.0 493.3 1775.4 498.1 1782.3 500.7 1786.9 497.7 1792.7 497.0 1797.0 493.3 1802.7 489.4 1809.2 487.2 1812.5 482.0 1816.6 477.4 1816.6 470.0M1787.2 435.7 1788.8 442.9 1788.4 450.4 1793.3 456.5 1799.4 462.6 1804.4 463.6 1809.2 465.1 1816.5 463.2 1824.0 463.9 1830.1 459.0 1835.4 456.4 1841.1 457.7 1846.0 455.3 1851.2 454.9 1855.6 452.0 1860.8 451.6 1866.9 450.6 1873.0 451.6 1877.9 459.0 1880.4 466.3 1886.1 467.4 1891.4 470.0 1895.1 472.5 1890.2 473.8 1885.3 474.9 1884.9 480.5 1884.1 485.9M1853.4 460.2 1851.2 465.8 1849.5 471.5 1848.5 477.4 1848.4 482.3 1847.3 487.2 1841.4 486.7 1836.2 489.6 1831.3 493.3 1838.7 494.5 1843.8 495.3 1848.5 493.3 1842.7 496.3 1836.0 494.5 1830.1 497.0 1825.2 495.4 1820.3 497.0 1825.3 499.3 1831.2 498.0 1836.2 500.7M1819.1 474.9 1824.3 475.0 1828.9 472.5 1836.2 470.0 1841.1 474.9 1833.8 478.6 1831.3 483.5M1784.7 481.0 1790.2 481.6 1795.8 481.0 1798.2 476.5 1803.1 474.9 1797.0 472.8 1793.3 467.5 1788.4 463.9M1843.6 343.7 1848.5 349.8 1850.7 356.3 1855.8 360.8 1857.7 366.6 1860.8 371.9 1865.2 375.5 1868.1 380.5 1861.8 383.8 1854.6 384.2 1848.5 389.1 1853.1 384.6 1858.6 381.6 1864.4 379.2M1824.0 354.7 1829.6 358.8 1836.2 360.8 1838.7 368.2 1843.9 370.8 1848.5 374.3M1740.6 352.3 1744.9 355.5 1745.8 361.4 1750.4 364.5 1756.5 358.4 1756.5 367.0M1770.0 347.4 1774.9 347.4 1777.4 353.5 1770.0 354.7M1774.9 357.2 1781.1 358.0 1787.1 355.2 1793.4 357.8 1799.4 355.9 1805.6 355.8 1811.7 354.7M1698.9 348.6 1701.3 349.8 1702.1 355.7 1705.0 360.8M1713.6 364.5 1719.6 366.4 1725.8 367.0 1727.6 372.7 1732.0 376.8 1727.9 381.1 1725.8 386.6 1719.7 389.1 1714.9 385.7 1708.7 386.1 1703.8 382.9 1698.9 379.2M1670.7 355.9 1674.2 360.2 1678.8 363.4 1682.9 367.0 1687.2 372.2 1692.9 375.8 1697.6 380.5 1701.7 384.8 1707.5 386.6M1664.5 389.1 1671.9 391.5 1670.9 384.1 1669.4 376.8M1735.7 379.2 1740.7 377.1 1745.8 375.8 1751.0 374.2 1756.5 374.3 1762.6 370.7 1765.1 362.1 1760.2 358.4M1713.2 333.2 1720.2 332.3 1727.2 331.4 1734.6 329.5 1736.0 324.7 1740.2 322.1 1738.2 317.5 1736.5 312.8 1731.8 309.0 1730.0 302.5M1727.2 338.8 1733.6 341.3 1738.3 346.2 1742.1 349.9 1745.8 353.7 1748.6 358.3 1751.4 363.0 1749.5 366.7 1755.1 368.5 1760.7 363.0 1759.0 356.4 1756.9 350.0 1754.2 345.2 1748.1 343.9 1745.8 338.8 1750.6 334.0 1753.2 327.6 1758.8 325.7 1764.4 323.9 1769.1 323.2 1773.7 322.1 1779.3 318.3 1786.0 316.2 1792.3 312.8 1797.8 314.6 1799.7 322.1 1804.9 325.2 1810.9 325.8 1815.7 327.2 1820.2 329.5 1824.8 335.1 1829.5 340.7 1827.4 346.4 1824.8 351.8 1818.3 353.7 1810.9 351.8 1807.4 346.7 1801.6 344.4 1795.7 340.9 1792.3 335.1 1787.9 331.8 1783.0 329.5 1777.4 325.8M1773.7 297.9 1780.8 296.1 1787.6 293.2 1792.1 290.9 1796.9 292.3M1773.7 297.9 1772.3 302.5 1771.8 307.2 1777.4 310.9 1783.0 309.0M1795.1 297.9 1795.7 303.6 1797.8 309.0 1799.7 316.5 1801.6 323.9M1796.9 288.6 1804.2 288.9 1810.9 285.8 1815.7 286.6 1820.2 288.6 1823.6 293.8 1829.5 296.0 1832.2 301.6 1835.0 307.2 1836.0 311.8 1836.9 316.5 1836.7 323.3 1839.7 329.5 1834.6 331.4 1829.5 329.5 1825.0 327.7 1820.2 327.6M1768.1 342.5 1773.7 340.7 1779.3 344.4 1781.1 351.8 1775.5 355.5 1770.0 353.7 1766.2 350.0 1771.8 348.1 1775.5 350.0M1783.0 350.0 1787.7 349.5 1792.3 348.1 1797.0 348.4 1801.6 350.0 1805.7 353.2 1810.9 353.7 1803.4 358.3 1797.8 358.9 1792.3 358.3 1787.6 358.0 1783.0 357.4 1778.3 359.2 1773.7 361.1 1768.8 361.0 1764.4 363.0 1760.5 368.4 1755.1 372.3 1750.5 374.8 1745.8 376.9 1741.3 379.5 1736.5 381.6M1820.2 351.8 1824.7 355.7 1829.5 359.3 1835.0 363.0 1838.8 367.6 1846.2 372.3 1850.0 376.9M1711.4 367.6 1717.9 367.6 1722.0 371.1 1727.2 372.3 1728.9 376.8 1729.0 381.6 1723.9 385.3 1720.7 390.9 1713.2 386.2 1707.1 384.2 1701.2 381.6 1694.6 376.9 1690.0 374.1M1711.4 367.6 1713.3 363.4 1715.1 359.3 1717.2 355.0 1720.7 351.8 1727.2 350.0M1695.6 350.0 1702.1 349.0 1703.5 353.7 1704.9 358.3M1820.2 316.5 1824.8 314.6 1829.5 316.5M1731.8 395.5 1738.9 396.9 1745.8 394.6 1741.1 400.2M1654.0 330.0 1652.2 335.6 1647.2 340.2 1640.0 342.7 1632.0 342.7 1624.8 340.2 1619.8 335.6 1618.0 330.0 1619.8 324.4 1624.8 319.8 1632.0 317.3 1640.0 317.3 1647.2 319.8 1652.2 324.4 1654.0 330.0M1646.0 333.0 1644.6 337.8 1640.7 341.6 1635.1 343.7 1628.9 343.7 1623.3 341.6 1619.4 337.8 1618.0 333.0 1619.4 328.2 1623.3 324.4 1628.9 322.3 1635.1 322.3 1640.7 324.4 1644.6 328.2 1646.0 333.0M1660.0 328.0 1658.0 334.5 1652.5 339.7 1644.5 342.6 1635.5 342.6 1627.5 339.7 1622.0 334.5 1620.0 328.0 1622.0 321.5 1627.5 316.3 1635.5 313.4 1644.5 313.4 1652.5 316.3 1658.0 321.5 1660.0 328.0M1644.0 331.0 1643.0 334.5 1640.2 337.3 1636.2 338.8 1631.8 338.8 1627.8 337.3 1625.0 334.5 1624.0 331.0 1625.0 327.5 1627.8 324.7 1631.8 323.2 1636.2 323.2 1640.2 324.7 1643.0 327.5 1644.0 331.0M1660.0 334.0 1658.5 339.2 1654.4 343.4 1648.3 345.7 1641.7 345.7 1635.6 343.4 1631.5 339.2 1630.0 334.0 1631.5 328.8 1635.6 324.6 1641.7 322.3 1648.3 322.3 1654.4 324.6 1658.5 328.8 1660.0 334.0M1774.1 347.4 1779.4 343.5 1782.6 335.8 1777.1 338.3 1771.3 340.0 1762.4 346.9 1754.1 344.7 1752.2 348.3 1758.5 347.8 1755.8 336.9 1754.7 332.9 1759.4 325.9 1756.0 318.7 1761.1 311.4 1756.7 308.2 1764.6 317.1 1769.6 321.2M1765.5 332.3 1764.8 338.5 1758.1 331.0 1756.9 323.4 1745.2 326.3 1749.0 327.8 1751.0 335.1 1756.9 344.8 1760.1 347.6 1772.0 348.1 1779.8 344.6 1789.5 345.1 1791.2 335.6 1790.4 324.5 1793.8 321.0 1798.4 320.9 1793.9 320.9M1798.5 388.9 1790.2 394.1 1780.8 397.2 1776.9 397.0 1772.2 393.8 1763.8 396.6 1761.2 400.8 1770.1 393.0 1770.4 398.0 1764.2 401.6 1766.8 398.6 1763.5 394.1 1768.6 387.3 1778.4 390.1 1781.8 396.7M1769.5 403.3 1768.2 391.3 1761.1 395.6 1770.1 400.7 1766.6 398.0 1760.6 392.7 1763.2 384.6 1766.6 387.4 1767.8 398.9 1778.1 392.9 1782.7 404.3 1782.8 411.0 1778.9 410.3 1780.2 403.8 1785.2 394.8" stroke="#000" stroke-width="2.6"/>
</g>
<rect x="116.5" y="128.5" width="556.5" height="449.5" fill="none" stroke="#000" stroke-width="6"/>
<rect x="182.3" y="131.5" width="6" height="6" fill="#000"/>
<rect x="182.3" y="569" width="6" height="6" fill="#000"/>
<rect x="321.7" y="131.5" width="6" height="6" fill="#000"/>
<rect x="321.7" y="569" width="6" height="6" fill="#000"/>
<rect x="461.0" y="131.5" width="6" height="6" fill="#000"/>
<rect x="461.0" y="569" width="6" height="6" fill="#000"/>
<rect x="600.3" y="131.5" width="6" height="6" fill="#000"/>
<rect x="600.3" y="569" width="6" height="6" fill="#000"/>
<rect x="119.5" y="225.5" width="6" height="6" fill="#000"/>
<rect x="664" y="225.5" width="6" height="6" fill="#000"/>
<rect x="119.5" y="325.5" width="6" height="6" fill="#000"/>
<rect x="664" y="325.5" width="6" height="6" fill="#000"/>
<rect x="119.5" y="425.4" width="6" height="6" fill="#000"/>
<rect x="664" y="425.4" width="6" height="6" fill="#000"/>
<rect x="119.5" y="525.4" width="6" height="6" fill="#000"/>
<rect x="664" y="525.4" width="6" height="6" fill="#000"/>
<rect x="787" y="127.5" width="553.5" height="449.5" fill="none" stroke="#000" stroke-width="6"/>
<rect x="853.3" y="130.5" width="6" height="6" fill="#000"/>
<rect x="853.3" y="568" width="6" height="6" fill="#000"/>
<rect x="991.2" y="130.5" width="6" height="6" fill="#000"/>
<rect x="991.2" y="568" width="6" height="6" fill="#000"/>
<rect x="1129.5" y="130.5" width="6" height="6" fill="#000"/>
<rect x="1129.5" y="568" width="6" height="6" fill="#000"/>
<rect x="1268.2" y="130.5" width="6" height="6" fill="#000"/>
<rect x="1268.2" y="568" width="6" height="6" fill="#000"/>
<rect x="790" y="230.4" width="6" height="6" fill="#000"/>
<rect x="1331.5" y="230.4" width="6" height="6" fill="#000"/>
<rect x="790" y="335.9" width="6" height="6" fill="#000"/>
<rect x="1331.5" y="335.9" width="6" height="6" fill="#000"/>
<rect x="790" y="442.0" width="6" height="6" fill="#000"/>
<rect x="1331.5" y="442.0" width="6" height="6" fill="#000"/>
<rect x="790" y="547.5" width="6" height="6" fill="#000"/>
<rect x="1331.5" y="547.5" width="6" height="6" fill="#000"/>
<rect x="1456" y="127.5" width="548" height="450.0" fill="none" stroke="#000" stroke-width="6"/>
<rect x="1521.2" y="130.5" width="6" height="6" fill="#000"/>
<rect x="1521.2" y="568.5" width="6" height="6" fill="#000"/>
<rect x="1658.8" y="130.5" width="6" height="6" fill="#000"/>
<rect x="1658.8" y="568.5" width="6" height="6" fill="#000"/>
<rect x="1796.0" y="130.5" width="6" height="6" fill="#000"/>
<rect x="1796.0" y="568.5" width="6" height="6" fill="#000"/>
<rect x="1933.1" y="130.5" width="6" height="6" fill="#000"/>
<rect x="1933.1" y="568.5" width="6" height="6" fill="#000"/>
<rect x="1459" y="224.6" width="6" height="6" fill="#000"/>
<rect x="1995" y="224.6" width="6" height="6" fill="#000"/>
<rect x="1459" y="325.0" width="6" height="6" fill="#000"/>
<rect x="1995" y="325.0" width="6" height="6" fill="#000"/>
<rect x="1459" y="425.4" width="6" height="6" fill="#000"/>
<rect x="1995" y="425.4" width="6" height="6" fill="#000"/>
<rect x="1459" y="524.7" width="6" height="6" fill="#000"/>
<rect x="1995" y="524.7" width="6" height="6" fill="#000"/>
<text x="-1.5" y="68.0" font-size="91.0" font-weight="bold" textLength="49.9" lengthAdjust="spacingAndGlyphs" fill="#000">a</text>
<text x="116.7" y="77.9" font-size="56.8" textLength="183.9" lengthAdjust="spacingAndGlyphs" fill="#000">Control</text>
<text x="466.1" y="78.9" font-size="55.4" font-style="italic" textLength="176.7" lengthAdjust="spacingAndGlyphs" fill="#000">ex vivo</text>
<text x="676.8" y="67.9" font-size="90.7" font-weight="bold" textLength="62.3" lengthAdjust="spacingAndGlyphs" fill="#000">b</text>
<text x="784.3" y="78.9" font-size="57.5" textLength="283.4" lengthAdjust="spacingAndGlyphs" fill="#000">Piezo1-MO</text>
<text x="1338.5" y="67.9" font-size="90.7" font-weight="bold" textLength="54.4" lengthAdjust="spacingAndGlyphs" fill="#000">c</text>
<text x="1444.3" y="80.3" font-size="58.0" textLength="559.9" lengthAdjust="spacingAndGlyphs" fill="#000">Piezo1-MO+HypoAcet</text>
<text x="61.7" y="138.8" font-size="26.0" textLength="46.4" lengthAdjust="spacingAndGlyphs" fill="#cc1020">500</text>
<text x="62.8" y="239.0" font-size="26.0" textLength="44.5" lengthAdjust="spacingAndGlyphs" fill="#000">400</text>
<text x="61.1" y="338.5" font-size="26.0" textLength="46.8" lengthAdjust="spacingAndGlyphs" fill="#000">300</text>
<text x="61.1" y="438.8" font-size="26.0" textLength="46.8" lengthAdjust="spacingAndGlyphs" fill="#000">200</text>
<text x="60.1" y="538.8" font-size="26.0" textLength="46.8" lengthAdjust="spacingAndGlyphs" fill="#000">100</text>
<text x="162.7" y="612.2" font-size="26.0" textLength="45.0" lengthAdjust="spacingAndGlyphs" fill="#000">100</text>
<text x="300.1" y="612.2" font-size="26.0" textLength="48.1" lengthAdjust="spacingAndGlyphs" fill="#000">200</text>
<text x="440.2" y="612.1" font-size="26.0" textLength="46.2" lengthAdjust="spacingAndGlyphs" fill="#000">300</text>
<text x="579.7" y="612.1" font-size="26.0" textLength="45.8" lengthAdjust="spacingAndGlyphs" fill="#cc1020">400</text>
<text x="728.3" y="139.6" font-size="26.0" textLength="47.7" lengthAdjust="spacingAndGlyphs" fill="#cc1020">500</text>
<text x="729.3" y="247.2" font-size="26.0" textLength="45.2" lengthAdjust="spacingAndGlyphs" fill="#000">400</text>
<text x="728.3" y="353.6" font-size="26.0" textLength="46.2" lengthAdjust="spacingAndGlyphs" fill="#000">300</text>
<text x="728.3" y="461.2" font-size="26.0" textLength="46.2" lengthAdjust="spacingAndGlyphs" fill="#000">200</text>
<text x="727.3" y="567.6" font-size="26.0" textLength="47.3" lengthAdjust="spacingAndGlyphs" fill="#000">100</text>
<text x="828.8" y="618.8" font-size="26.0" textLength="46.2" lengthAdjust="spacingAndGlyphs" fill="#000">100</text>
<text x="968.3" y="618.8" font-size="26.0" textLength="46.6" lengthAdjust="spacingAndGlyphs" fill="#000">200</text>
<text x="1109.6" y="619.3" font-size="26.0" textLength="46.4" lengthAdjust="spacingAndGlyphs" fill="#000">300</text>
<text x="1250.5" y="619.0" font-size="26.0" textLength="45.4" lengthAdjust="spacingAndGlyphs" fill="#cc1020">400</text>
<text x="1399.3" y="132.3" font-size="26.0" textLength="46.6" lengthAdjust="spacingAndGlyphs" fill="#cc1020">500</text>
<text x="1399.9" y="235.5" font-size="26.0" textLength="44.7" lengthAdjust="spacingAndGlyphs" fill="#000">400</text>
<text x="1399.9" y="337.2" font-size="26.0" textLength="44.8" lengthAdjust="spacingAndGlyphs" fill="#000">300</text>
<text x="1398.9" y="439.2" font-size="26.0" textLength="45.8" lengthAdjust="spacingAndGlyphs" fill="#000">200</text>
<text x="1400.0" y="541.2" font-size="26.0" textLength="45.4" lengthAdjust="spacingAndGlyphs" fill="#000">100</text>
<text x="1499.3" y="615.6" font-size="26.0" textLength="46.4" lengthAdjust="spacingAndGlyphs" fill="#000">100</text>
<text x="1640.6" y="615.6" font-size="26.0" textLength="46.6" lengthAdjust="spacingAndGlyphs" fill="#000">200</text>
<text x="1780.2" y="615.6" font-size="26.0" textLength="48.1" lengthAdjust="spacingAndGlyphs" fill="#000">300</text>
<text x="1921.9" y="615.6" font-size="26.0" textLength="46.2" lengthAdjust="spacingAndGlyphs" fill="#cc1020">400</text>
<text x="258.4" y="655.9" font-size="45.0" textLength="124.2" lengthAdjust="spacingAndGlyphs" fill="#000">X(<tspan font-style="italic">&#956;</tspan>m)</text>
<text x="924.0" y="657.0" font-size="45.0" textLength="124.2" lengthAdjust="spacingAndGlyphs" fill="#000">X(<tspan font-style="italic">&#956;</tspan>m)</text>
<text x="1602.8" y="658.6" font-size="45.0" textLength="124.0" lengthAdjust="spacingAndGlyphs" fill="#000">X(<tspan font-style="italic">&#956;</tspan>m)</text>
<text x="435.9" y="805.4" font-size="93.0" font-weight="bold" textLength="65.2" lengthAdjust="spacingAndGlyphs" fill="#000">d</text>
<text x="1206.6" y="789.7" font-size="68.3" font-style="italic" textLength="215.2" lengthAdjust="spacingAndGlyphs" fill="#000">ex vivo</text>
<text x="936.0" y="1495.5" font-size="52.6" textLength="233.3" lengthAdjust="spacingAndGlyphs" fill="#000">Time [sec]</text>
<text x="2056.8" y="198.8" font-size="36.0" textLength="41.4" lengthAdjust="spacingAndGlyphs" fill="#000">10</text>
<text x="2098.3" y="179.7" font-size="27.0" textLength="17.0" lengthAdjust="spacingAndGlyphs" fill="#000">4</text>
<text x="2062.5" y="521.3" font-size="36.0" textLength="37.6" lengthAdjust="spacingAndGlyphs" fill="#000">10</text>
<text x="2098.9" y="501.6" font-size="26.0" textLength="20.5" lengthAdjust="spacingAndGlyphs" fill="#000">3</text>
<text x="830.7" y="1492.7" font-size="40.0" textLength="41.2" lengthAdjust="spacingAndGlyphs" fill="#111">10</text>
<text x="870.5" y="1474.9" font-size="27.7" textLength="22.8" lengthAdjust="spacingAndGlyphs" fill="#111">3</text>
<text x="1248.3" y="1493.9" font-size="40.0" textLength="40.5" lengthAdjust="spacingAndGlyphs" fill="#111">10</text>
<text x="1288.6" y="1476.0" font-size="27.7" textLength="19.8" lengthAdjust="spacingAndGlyphs" fill="#111">4</text>
<text transform="translate(48.3,345.6) rotate(-90)" x="0" y="0" font-size="45" text-anchor="middle" textLength="124" lengthAdjust="spacingAndGlyphs">Y(<tspan font-style="italic">&#956;</tspan>m)</text>
<text transform="translate(721.2,343.0) rotate(-90)" x="0" y="0" font-size="45" text-anchor="middle" textLength="124" lengthAdjust="spacingAndGlyphs">Y(<tspan font-style="italic">&#956;</tspan>m)</text>
<text transform="translate(1388.9,340.7) rotate(-90)" x="0" y="0" font-size="45" text-anchor="middle" textLength="124" lengthAdjust="spacingAndGlyphs">Y(<tspan font-style="italic">&#956;</tspan>m)</text>
<defs><linearGradient id="cb" x1="0" y1="1" x2="0" y2="0"><stop offset="0" stop-color="#ff0000"/><stop offset="0.5" stop-color="#ff8000"/><stop offset="1" stop-color="#ffff00"/></linearGradient></defs>
<rect x="2017.5" y="122.7" width="29" height="445.5" fill="url(#cb)" stroke="#000" stroke-width="3"/>
<rect x="2040" y="195.8" width="5" height="3" fill="#000"/>
<rect x="2040" y="274.2" width="5" height="3" fill="#000"/>
<rect x="2040" y="352.3" width="5" height="3" fill="#000"/>
<rect x="2040" y="430.3" width="5" height="3" fill="#000"/>
<rect x="2040" y="506.7" width="5" height="3" fill="#000"/>
<text transform="translate(2098.2,336.9) rotate(-90)" font-size="41" text-anchor="middle" textLength="188" lengthAdjust="spacingAndGlyphs">Time [sec]</text>
<clipPath id="clipd"><rect x="650" y="838.5" width="764" height="588.5"/></clipPath>
<g clip-path="url(#clipd)">
<polygon points="640.0,1308.6 770.9,1319.1 844.4,1313.4 898.2,1305.0 937.8,1300.7 972.0,1287.0 999.0,1297.9 1024.5,1290.8 1044.3,1249.8 1069.8,1238.5 1083.9,1214.4 1098.1,1213.0 1112.2,1218.7 1132.0,1190.4 1149.0,1150.7 1164.2,1116.0 1169.8,1078.0 1175.3,1059.0 1181.9,1033.0 1184.7,1003.0 1188.4,983.0 1194.0,962.5 1203.3,940.0 1210.7,920.0 1214.4,899.0 1218.0,873.0 1221.9,838.0 1223.0,820.0 1340.0,820.0 1337.7,838.0 1335.0,876.0 1325.4,897.8 1321.3,966.2 1317.2,1064.7 1309.0,1029.2 1303.5,1037.4 1294.0,1078.4 1285.8,1037.4 1281.7,1034.6 1277.6,1051.0 1269.4,1053.8 1263.9,1062.0 1253.0,1064.7 1248.1,1082.0 1239.6,1114.0 1229.7,1122.4 1222.6,1164.9 1211.3,1221.5 1199.9,1272.4 1185.8,1314.9 1180.1,1331.8 1171.6,1317.7 1160.3,1340.3 1149.0,1363.0 1137.7,1365.8 1126.4,1363.0 1112.2,1343.2 1098.1,1355.9 1081.1,1363.0 1047.1,1351.6 1021.7,1338.9 999.0,1351.6 972.2,1348.8 936.8,1367.2 898.2,1367.2 844.4,1385.6 770.9,1376.5 640.0,1382.8" fill="#a8a8a8"/>
<polygon points="640.0,1180.5 773.7,1164.9 844.4,1140.8 901.0,1114.0 914.0,1100.0 936.8,1086.7 943.8,1079.7 970.1,1046.4 984.2,1034.1 1005.2,1014.8 1026.2,990.3 1043.8,972.7 1068.3,944.7 1080.6,918.4 1085.8,913.1 1098.1,906.1 1105.1,892.1 1112.1,867.6 1117.4,841.3 1118.5,820.0 1238.0,820.0 1236.7,838.0 1233.5,870.0 1231.2,899.0 1220.0,910.4 1210.7,923.4 1201.4,940.0 1192.0,962.5 1186.5,985.0 1182.8,1022.0 1177.2,1033.0 1171.6,1059.0 1166.0,1078.0 1160.5,1100.0 1151.0,1104.0 1147.4,1116.0 1137.7,1147.9 1126.4,1193.2 1115.0,1213.0 1098.1,1204.5 1086.8,1210.2 1075.4,1227.1 1058.5,1244.1 1041.5,1252.6 1021.7,1244.1 974.6,1256.0 943.5,1251.2 901.0,1264.0 844.4,1284.3 773.7,1286.6 640.0,1289.4" fill="#babad9"/>
<clipPath id="clipG"><polygon points="640.0,1308.6 770.9,1319.1 844.4,1313.4 898.2,1305.0 937.8,1300.7 972.0,1287.0 999.0,1297.9 1024.5,1290.8 1044.3,1249.8 1069.8,1238.5 1083.9,1214.4 1098.1,1213.0 1112.2,1218.7 1132.0,1190.4 1149.0,1150.7 1164.2,1116.0 1169.8,1078.0 1175.3,1059.0 1181.9,1033.0 1184.7,1003.0 1188.4,983.0 1194.0,962.5 1203.3,940.0 1210.7,920.0 1214.4,899.0 1218.0,873.0 1221.9,838.0 1223.0,820.0 1340.0,820.0 1337.7,838.0 1335.0,876.0 1325.4,897.8 1321.3,966.2 1317.2,1064.7 1309.0,1029.2 1303.5,1037.4 1294.0,1078.4 1285.8,1037.4 1281.7,1034.6 1277.6,1051.0 1269.4,1053.8 1263.9,1062.0 1253.0,1064.7 1248.1,1082.0 1239.6,1114.0 1229.7,1122.4 1222.6,1164.9 1211.3,1221.5 1199.9,1272.4 1185.8,1314.9 1180.1,1331.8 1171.6,1317.7 1160.3,1340.3 1149.0,1363.0 1137.7,1365.8 1126.4,1363.0 1112.2,1343.2 1098.1,1355.9 1081.1,1363.0 1047.1,1351.6 1021.7,1338.9 999.0,1351.6 972.2,1348.8 936.8,1367.2 898.2,1367.2 844.4,1385.6 770.9,1376.5 640.0,1382.8"/></clipPath>
<polygon points="640.0,1180.5 773.7,1164.9 844.4,1140.8 901.0,1114.0 914.0,1100.0 936.8,1086.7 943.8,1079.7 970.1,1046.4 984.2,1034.1 1005.2,1014.8 1026.2,990.3 1043.8,972.7 1068.3,944.7 1080.6,918.4 1085.8,913.1 1098.1,906.1 1105.1,892.1 1112.1,867.6 1117.4,841.3 1118.5,820.0 1238.0,820.0 1236.7,838.0 1233.5,870.0 1231.2,899.0 1220.0,910.4 1210.7,923.4 1201.4,940.0 1192.0,962.5 1186.5,985.0 1182.8,1022.0 1177.2,1033.0 1171.6,1059.0 1166.0,1078.0 1160.5,1100.0 1151.0,1104.0 1147.4,1116.0 1137.7,1147.9 1126.4,1193.2 1115.0,1213.0 1098.1,1204.5 1086.8,1210.2 1075.4,1227.1 1058.5,1244.1 1041.5,1252.6 1021.7,1244.1 974.6,1256.0 943.5,1251.2 901.0,1264.0 844.4,1284.3 773.7,1286.6 640.0,1289.4" fill="#8c8ca8" clip-path="url(#clipG)"/>
<polygon points="640.0,1403.8 838.0,1403.0 937.0,1401.8 1050.0,1401.8 1080.5,1395.6 1103.8,1398.3 1157.5,1394.7 1211.3,1392.9 1229.2,1393.8 1265.1,1391.1 1269.6,1383.9 1275.8,1388.4 1292.0,1383.0 1309.9,1374.0 1320.7,1367.8 1333.2,1364.2 1340.4,1374.0 1356.5,1375.0 1372.6,1384.8 1380.0,1376.0 1387.0,1379.4 1394.1,1381.2 1420.0,1385.7 1420.0,1410.8 1394.1,1416.2 1376.2,1411.7 1354.7,1409.9 1333.2,1411.7 1309.9,1408.1 1292.0,1409.0 1283.0,1405.4 1247.2,1409.9 1184.4,1416.2 1130.7,1422.5 1080.5,1427.0 1050.0,1423.3 940.0,1419.6 838.0,1418.5 640.0,1417.6" fill="#f6a3a3"/>
<polyline points="640.0,1410.7 838.0,1411.3 937.0,1409.7 976.8,1411.7 1064.3,1411.7 1094.8,1410.8 1136.0,1409.9 1148.6,1406.3 1202.4,1403.6 1216.7,1401.8 1223.9,1405.4 1256.1,1400.0 1270.5,1394.7 1275.8,1398.3 1286.6,1392.0 1300.9,1395.6 1315.3,1390.2 1333.2,1387.5 1354.7,1390.2 1365.5,1393.8 1378.0,1399.1 1387.0,1395.6 1396.0,1400.9 1420.0,1398.3" fill="none" stroke="#f50000" stroke-width="9.5" stroke-linejoin="round"/>
<polyline points="640.0,1346.0 770.9,1347.4 844.4,1350.2 898.2,1334.7 937.8,1334.1 971.8,1316.3 999.0,1324.8 1021.7,1316.3 1047.1,1300.7 1067.0,1295.0 1086.8,1285.2 1109.4,1279.5 1126.4,1283.7 1140.5,1275.2 1154.7,1244.1 1166.0,1213.0 1180.1,1181.9 1188.6,1145.1 1199.9,1116.8 1205.1,1096.5 1218.1,1040.7 1229.3,984.8 1240.5,910.4 1249.8,838.0 1252.0,820.0" fill="none" stroke="#000" stroke-width="10" stroke-linejoin="round"/>
<polyline points="640.0,1235.5 770.9,1225.7 844.4,1213.0 901.0,1192.0 937.0,1167.5 971.0,1148.5 993.4,1133.8 1024.5,1115.4 1044.3,1112.5 1059.5,1100.0 1080.6,1063.9 1112.1,1044.6 1122.6,993.8 1136.7,969.2 1159.5,955.2 1162.3,953.2 1169.8,910.4 1177.2,882.5 1188.4,858.3 1193.0,839.7 1195.0,820.0" fill="none" stroke="#2020e6" stroke-width="9.5" stroke-linejoin="round"/>
</g>
<rect x="645.5" y="834" width="773.0" height="597.2" fill="none" stroke="#262626" stroke-width="9"/>
<rect x="693.5" y="838.5" width="9" height="4.5" fill="#262626"/>
<rect x="693.5" y="1422.5" width="9" height="4.5" fill="#262626"/>
<rect x="734.0" y="838.5" width="9" height="4.5" fill="#262626"/>
<rect x="734.0" y="1422.5" width="9" height="4.5" fill="#262626"/>
<rect x="767.2" y="838.5" width="9" height="4.5" fill="#262626"/>
<rect x="767.2" y="1422.5" width="9" height="4.5" fill="#262626"/>
<rect x="795.2" y="838.5" width="9" height="4.5" fill="#262626"/>
<rect x="795.2" y="1422.5" width="9" height="4.5" fill="#262626"/>
<rect x="819.5" y="838.5" width="9" height="4.5" fill="#262626"/>
<rect x="819.5" y="1422.5" width="9" height="4.5" fill="#262626"/>
<rect x="840.9" y="838.5" width="9" height="4.5" fill="#262626"/>
<rect x="840.9" y="1422.5" width="9" height="4.5" fill="#262626"/>
<rect x="986.0" y="838.5" width="9" height="4.5" fill="#262626"/>
<rect x="986.0" y="1422.5" width="9" height="4.5" fill="#262626"/>
<rect x="1059.6" y="838.5" width="9" height="4.5" fill="#262626"/>
<rect x="1059.6" y="1422.5" width="9" height="4.5" fill="#262626"/>
<rect x="1111.9" y="838.5" width="9" height="4.5" fill="#262626"/>
<rect x="1111.9" y="1422.5" width="9" height="4.5" fill="#262626"/>
<rect x="1152.4" y="838.5" width="9" height="4.5" fill="#262626"/>
<rect x="1152.4" y="1422.5" width="9" height="4.5" fill="#262626"/>
<rect x="1185.6" y="838.5" width="9" height="4.5" fill="#262626"/>
<rect x="1185.6" y="1422.5" width="9" height="4.5" fill="#262626"/>
<rect x="1213.6" y="838.5" width="9" height="4.5" fill="#262626"/>
<rect x="1213.6" y="1422.5" width="9" height="4.5" fill="#262626"/>
<rect x="1237.9" y="838.5" width="9" height="4.5" fill="#262626"/>
<rect x="1237.9" y="1422.5" width="9" height="4.5" fill="#262626"/>
<rect x="1259.3" y="838.5" width="9" height="4.5" fill="#262626"/>
<rect x="1259.3" y="1422.5" width="9" height="4.5" fill="#262626"/>
<rect x="1404.4" y="838.5" width="9" height="4.5" fill="#262626"/>
<rect x="1404.4" y="1422.5" width="9" height="4.5" fill="#262626"/>
<rect x="860.0" y="838.5" width="9" height="8.5" fill="#262626"/>
<rect x="860.0" y="1418.5" width="9" height="8.5" fill="#262626"/>
<rect x="1278.4" y="838.5" width="9" height="8.5" fill="#262626"/>
<rect x="1278.4" y="1418.5" width="9" height="8.5" fill="#262626"/>
<rect x="650" y="1307.5" width="8.5" height="9" fill="#262626"/>
<rect x="1405.5" y="1307.5" width="8.5" height="9" fill="#262626"/>
<rect x="650" y="1188.4" width="8.5" height="9" fill="#262626"/>
<rect x="1405.5" y="1188.4" width="8.5" height="9" fill="#262626"/>
<rect x="650" y="1069.2" width="8.5" height="9" fill="#262626"/>
<rect x="1405.5" y="1069.2" width="8.5" height="9" fill="#262626"/>
<rect x="650" y="950.1" width="8.5" height="9" fill="#262626"/>
<rect x="1405.5" y="950.1" width="8.5" height="9" fill="#262626"/>
<rect x="665.5" y="859" width="35" height="34.5" fill="#000"/>
<rect x="665.5" y="918" width="35" height="34.5" fill="#f50000"/>
<rect x="665.5" y="997.6" width="35" height="34" fill="#2222e0"/>
<text x="709" y="892.5" font-size="41" fill="#111">Control</text>
<text x="709" y="948.7" font-size="41" fill="#111">Piezo1-MO</text>
<text x="709" y="1011.5" font-size="41" fill="#111">Piezo1-MO</text>
<text x="709" y="1071" font-size="41" fill="#111">+HypoAcet</text>
<text x="636" y="858.2" font-size="42" text-anchor="end" fill="#111">5000</text>
<text x="636" y="967" font-size="42" text-anchor="end" fill="#111">4000</text>
<text x="636" y="1089.5" font-size="42" text-anchor="end" fill="#111">3000</text>
<text x="636" y="1208.5" font-size="42" text-anchor="end" fill="#111">2000</text>
<text x="636" y="1332" font-size="42" text-anchor="end" fill="#111">1000</text>
<text x="636" y="1446.5" font-size="42" text-anchor="end" fill="#111">0</text>
<g transform="translate(527,0) rotate(-90)" fill="#111"><text x="-1166" y="0" font-size="49">R</text><text x="-1131" y="11.6" font-size="36">g</text><text x="-1138.5" y="-27.2" font-size="35" textLength="23" lengthAdjust="spacingAndGlyphs">2</text><text x="-1110" y="0" font-size="49">(</text><text x="-1093.5" y="0" font-size="49" font-style="italic">&#956;</text><text x="-1062" y="0" font-size="49" textLength="41" lengthAdjust="spacingAndGlyphs">m</text><text x="-1029.5" y="-27.2" font-size="35" textLength="23" lengthAdjust="spacingAndGlyphs">2</text><text x="-1002.5" y="0" font-size="49">)</text></g>
</svg></body></html>
